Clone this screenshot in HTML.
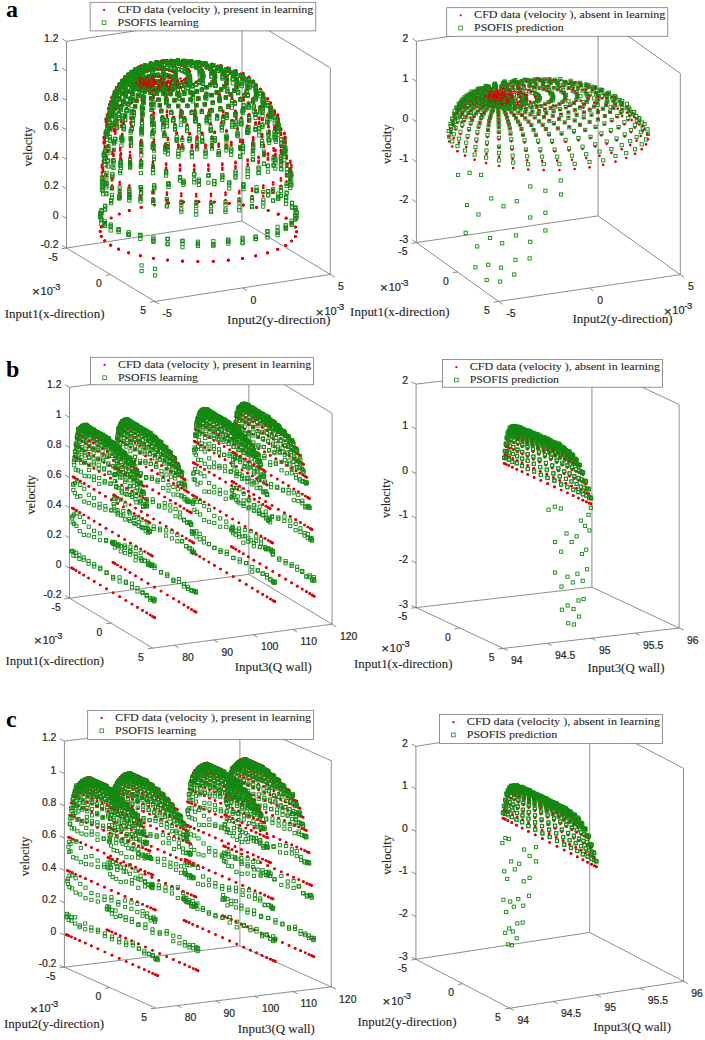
<!DOCTYPE html>
<html><head><meta charset="utf-8"><style>
html,body{margin:0;padding:0;background:#fff;}
svg{display:block;}
</style></head><body>
<svg width="705" height="1040" viewBox="0 0 705 1040">
<rect width="705" height="1040" fill="#fff"/>
<path d="M66.5 248L66.5 41.4 M66.5 41.4L242 14.4 M242 221L242 14.4 M242 14.4L330.3 67.8 M330.3 274.4L330.3 67.8 M66.5 248L154.8 301.4 M154.8 301.4L330.3 274.4 M66.5 248L242 221 M242 221L330.3 274.4" stroke="#707070" stroke-width="0.8" fill="none"/>
<path d="M66.5 248L62.2 245.4 M66.5 218.5L62.2 215.9 M66.5 189L62.2 186.4 M66.5 159.5L62.2 156.9 M66.5 129.9L62.2 127.4 M66.5 100.4L62.2 97.8 M66.5 70.9L62.2 68.3 M66.5 41.4L62.2 38.8 M66.5 248L61.6 248.8 M110.7 274.7L105.7 275.5 M154.8 301.4L149.9 302.2 M154.8 301.4L159.1 304 M242.6 287.9L246.8 290.5 M330.3 274.4L334.6 277" stroke="#707070" stroke-width="0.8" fill="none"/>
<text x="58.5" y="248.2" font-size="10.4" text-anchor="end" font-family="&quot;Liberation Sans&quot;, sans-serif" fill="#262626" stroke="#262626" stroke-width="0.2">-0.2</text>
<text x="58.5" y="218.7" font-size="10.4" text-anchor="end" font-family="&quot;Liberation Sans&quot;, sans-serif" fill="#262626" stroke="#262626" stroke-width="0.2">0</text>
<text x="58.5" y="189.2" font-size="10.4" text-anchor="end" font-family="&quot;Liberation Sans&quot;, sans-serif" fill="#262626" stroke="#262626" stroke-width="0.2">0.2</text>
<text x="58.5" y="159.7" font-size="10.4" text-anchor="end" font-family="&quot;Liberation Sans&quot;, sans-serif" fill="#262626" stroke="#262626" stroke-width="0.2">0.4</text>
<text x="58.5" y="130.1" font-size="10.4" text-anchor="end" font-family="&quot;Liberation Sans&quot;, sans-serif" fill="#262626" stroke="#262626" stroke-width="0.2">0.6</text>
<text x="58.5" y="100.6" font-size="10.4" text-anchor="end" font-family="&quot;Liberation Sans&quot;, sans-serif" fill="#262626" stroke="#262626" stroke-width="0.2">0.8</text>
<text x="58.5" y="71.1" font-size="10.4" text-anchor="end" font-family="&quot;Liberation Sans&quot;, sans-serif" fill="#262626" stroke="#262626" stroke-width="0.2">1</text>
<text x="58.5" y="41.6" font-size="10.4" text-anchor="end" font-family="&quot;Liberation Sans&quot;, sans-serif" fill="#262626" stroke="#262626" stroke-width="0.2">1.2</text>
<text x="57.7" y="260.5" font-size="10.4" text-anchor="end" font-family="&quot;Liberation Sans&quot;, sans-serif" fill="#262626" stroke="#262626" stroke-width="0.2">-5</text>
<text x="101.9" y="287.2" font-size="10.4" text-anchor="end" font-family="&quot;Liberation Sans&quot;, sans-serif" fill="#262626" stroke="#262626" stroke-width="0.2">0</text>
<text x="146" y="313.9" font-size="10.4" text-anchor="end" font-family="&quot;Liberation Sans&quot;, sans-serif" fill="#262626" stroke="#262626" stroke-width="0.2">5</text>
<text x="162.6" y="317.1" font-size="10.4" text-anchor="start" font-family="&quot;Liberation Sans&quot;, sans-serif" fill="#262626" stroke="#262626" stroke-width="0.2">-5</text>
<text x="250.4" y="303.6" font-size="10.4" text-anchor="start" font-family="&quot;Liberation Sans&quot;, sans-serif" fill="#262626" stroke="#262626" stroke-width="0.2">0</text>
<text x="338.1" y="290.1" font-size="10.4" text-anchor="start" font-family="&quot;Liberation Sans&quot;, sans-serif" fill="#262626" stroke="#262626" stroke-width="0.2">5</text>
<path d="M416.4 242.6L416.4 41.3 M416.4 41.3L598.1 14.6 M598.1 215.9L598.1 14.6 M598.1 14.6L680.3 73.4 M680.3 274.7L680.3 73.4 M416.4 242.6L498.6 301.4 M498.6 301.4L680.3 274.7 M416.4 242.6L598.1 215.9 M598.1 215.9L680.3 274.7" stroke="#707070" stroke-width="0.8" fill="none"/>
<path d="M416.4 242.6L412.3 239.7 M416.4 202.3L412.3 199.4 M416.4 162.1L412.3 159.2 M416.4 121.8L412.3 118.9 M416.4 81.6L412.3 78.7 M416.4 41.3L412.3 38.4 M416.4 242.6L411.5 243.3 M457.5 272L452.6 272.7 M498.6 301.4L493.7 302.1 M498.6 301.4L502.7 304.3 M589.5 288L593.5 291 M680.3 274.7L684.4 277.6" stroke="#707070" stroke-width="0.8" fill="none"/>
<text x="408.4" y="242.8" font-size="10.4" text-anchor="end" font-family="&quot;Liberation Sans&quot;, sans-serif" fill="#262626" stroke="#262626" stroke-width="0.2">-3</text>
<text x="408.4" y="202.5" font-size="10.4" text-anchor="end" font-family="&quot;Liberation Sans&quot;, sans-serif" fill="#262626" stroke="#262626" stroke-width="0.2">-2</text>
<text x="408.4" y="162.3" font-size="10.4" text-anchor="end" font-family="&quot;Liberation Sans&quot;, sans-serif" fill="#262626" stroke="#262626" stroke-width="0.2">-1</text>
<text x="408.4" y="122" font-size="10.4" text-anchor="end" font-family="&quot;Liberation Sans&quot;, sans-serif" fill="#262626" stroke="#262626" stroke-width="0.2">0</text>
<text x="408.4" y="81.8" font-size="10.4" text-anchor="end" font-family="&quot;Liberation Sans&quot;, sans-serif" fill="#262626" stroke="#262626" stroke-width="0.2">1</text>
<text x="408.4" y="41.5" font-size="10.4" text-anchor="end" font-family="&quot;Liberation Sans&quot;, sans-serif" fill="#262626" stroke="#262626" stroke-width="0.2">2</text>
<text x="407.6" y="255.1" font-size="10.4" text-anchor="end" font-family="&quot;Liberation Sans&quot;, sans-serif" fill="#262626" stroke="#262626" stroke-width="0.2">-5</text>
<text x="448.7" y="284.5" font-size="10.4" text-anchor="end" font-family="&quot;Liberation Sans&quot;, sans-serif" fill="#262626" stroke="#262626" stroke-width="0.2">0</text>
<text x="489.8" y="313.9" font-size="10.4" text-anchor="end" font-family="&quot;Liberation Sans&quot;, sans-serif" fill="#262626" stroke="#262626" stroke-width="0.2">5</text>
<text x="506.4" y="317.1" font-size="10.4" text-anchor="start" font-family="&quot;Liberation Sans&quot;, sans-serif" fill="#262626" stroke="#262626" stroke-width="0.2">-5</text>
<text x="597.2" y="303.7" font-size="10.4" text-anchor="start" font-family="&quot;Liberation Sans&quot;, sans-serif" fill="#262626" stroke="#262626" stroke-width="0.2">0</text>
<text x="688.1" y="290.4" font-size="10.4" text-anchor="start" font-family="&quot;Liberation Sans&quot;, sans-serif" fill="#262626" stroke="#262626" stroke-width="0.2">5</text>
<path d="M69.5 598.2L69.5 387.3 M69.5 387.3L248.9 363.4 M248.9 574.3L248.9 363.4 M248.9 363.4L332.1 413.3 M332.1 624.2L332.1 413.3 M69.5 598.2L152.7 648.1 M152.7 648.1L332.1 624.2 M69.5 598.2L248.9 574.3 M248.9 574.3L332.1 624.2" stroke="#707070" stroke-width="0.8" fill="none"/>
<path d="M69.5 598.2L65.2 595.6 M69.5 568.1L65.2 565.5 M69.5 537.9L65.2 535.4 M69.5 507.8L65.2 505.2 M69.5 477.7L65.2 475.1 M69.5 447.6L65.2 445 M69.5 417.4L65.2 414.9 M69.5 387.3L65.2 384.7 M69.5 598.2L64.5 598.9 M111.1 623.2L106.1 623.8 M152.7 648.1L147.7 648.8 M174.4 645.2L178.7 647.8 M213.8 640L218.1 642.5 M253.2 634.7L257.5 637.3 M292.7 629.5L297 632 M332.1 624.2L336.4 626.8" stroke="#707070" stroke-width="0.8" fill="none"/>
<text x="61.5" y="598.4" font-size="10.4" text-anchor="end" font-family="&quot;Liberation Sans&quot;, sans-serif" fill="#262626" stroke="#262626" stroke-width="0.2">-0.2</text>
<text x="61.5" y="568.3" font-size="10.4" text-anchor="end" font-family="&quot;Liberation Sans&quot;, sans-serif" fill="#262626" stroke="#262626" stroke-width="0.2">0</text>
<text x="61.5" y="538.1" font-size="10.4" text-anchor="end" font-family="&quot;Liberation Sans&quot;, sans-serif" fill="#262626" stroke="#262626" stroke-width="0.2">0.2</text>
<text x="61.5" y="508" font-size="10.4" text-anchor="end" font-family="&quot;Liberation Sans&quot;, sans-serif" fill="#262626" stroke="#262626" stroke-width="0.2">0.4</text>
<text x="61.5" y="477.9" font-size="10.4" text-anchor="end" font-family="&quot;Liberation Sans&quot;, sans-serif" fill="#262626" stroke="#262626" stroke-width="0.2">0.6</text>
<text x="61.5" y="447.8" font-size="10.4" text-anchor="end" font-family="&quot;Liberation Sans&quot;, sans-serif" fill="#262626" stroke="#262626" stroke-width="0.2">0.8</text>
<text x="61.5" y="417.6" font-size="10.4" text-anchor="end" font-family="&quot;Liberation Sans&quot;, sans-serif" fill="#262626" stroke="#262626" stroke-width="0.2">1</text>
<text x="61.5" y="387.5" font-size="10.4" text-anchor="end" font-family="&quot;Liberation Sans&quot;, sans-serif" fill="#262626" stroke="#262626" stroke-width="0.2">1.2</text>
<text x="60.7" y="610.7" font-size="10.4" text-anchor="end" font-family="&quot;Liberation Sans&quot;, sans-serif" fill="#262626" stroke="#262626" stroke-width="0.2">-5</text>
<text x="102.3" y="635.7" font-size="10.4" text-anchor="end" font-family="&quot;Liberation Sans&quot;, sans-serif" fill="#262626" stroke="#262626" stroke-width="0.2">0</text>
<text x="143.9" y="660.6" font-size="10.4" text-anchor="end" font-family="&quot;Liberation Sans&quot;, sans-serif" fill="#262626" stroke="#262626" stroke-width="0.2">5</text>
<text x="182.2" y="660.9" font-size="10.4" text-anchor="start" font-family="&quot;Liberation Sans&quot;, sans-serif" fill="#262626" stroke="#262626" stroke-width="0.2">80</text>
<text x="221.6" y="655.7" font-size="10.4" text-anchor="start" font-family="&quot;Liberation Sans&quot;, sans-serif" fill="#262626" stroke="#262626" stroke-width="0.2">90</text>
<text x="261" y="650.4" font-size="10.4" text-anchor="start" font-family="&quot;Liberation Sans&quot;, sans-serif" fill="#262626" stroke="#262626" stroke-width="0.2">100</text>
<text x="300.5" y="645.2" font-size="10.4" text-anchor="start" font-family="&quot;Liberation Sans&quot;, sans-serif" fill="#262626" stroke="#262626" stroke-width="0.2">110</text>
<text x="339.9" y="639.9" font-size="10.4" text-anchor="start" font-family="&quot;Liberation Sans&quot;, sans-serif" fill="#262626" stroke="#262626" stroke-width="0.2">120</text>
<path d="M416.1 607.6L416.1 384.1 M416.1 384.1L591.9 363.7 M591.9 587.2L591.9 363.7 M591.9 363.7L679.1 404.5 M679.1 628L679.1 404.5 M416.1 607.6L503.3 648.4 M503.3 648.4L679.1 628 M416.1 607.6L591.9 587.2 M591.9 587.2L679.1 628" stroke="#707070" stroke-width="0.8" fill="none"/>
<path d="M416.1 607.6L411.6 605.5 M416.1 562.9L411.6 560.8 M416.1 518.2L411.6 516.1 M416.1 473.5L411.6 471.4 M416.1 428.8L411.6 426.7 M416.1 384.1L411.6 382 M416.1 607.6L411.1 608.2 M459.7 628L454.7 628.6 M503.3 648.4L498.3 649 M503.3 648.4L507.8 650.5 M547.2 643.3L551.8 645.4 M591.2 638.2L595.7 640.3 M635.2 633.1L639.7 635.2 M679.1 628L683.6 630.1" stroke="#707070" stroke-width="0.8" fill="none"/>
<text x="408.1" y="607.8" font-size="10.4" text-anchor="end" font-family="&quot;Liberation Sans&quot;, sans-serif" fill="#262626" stroke="#262626" stroke-width="0.2">-3</text>
<text x="408.1" y="563.1" font-size="10.4" text-anchor="end" font-family="&quot;Liberation Sans&quot;, sans-serif" fill="#262626" stroke="#262626" stroke-width="0.2">-2</text>
<text x="408.1" y="518.4" font-size="10.4" text-anchor="end" font-family="&quot;Liberation Sans&quot;, sans-serif" fill="#262626" stroke="#262626" stroke-width="0.2">-1</text>
<text x="408.1" y="473.7" font-size="10.4" text-anchor="end" font-family="&quot;Liberation Sans&quot;, sans-serif" fill="#262626" stroke="#262626" stroke-width="0.2">0</text>
<text x="408.1" y="429" font-size="10.4" text-anchor="end" font-family="&quot;Liberation Sans&quot;, sans-serif" fill="#262626" stroke="#262626" stroke-width="0.2">1</text>
<text x="408.1" y="384.3" font-size="10.4" text-anchor="end" font-family="&quot;Liberation Sans&quot;, sans-serif" fill="#262626" stroke="#262626" stroke-width="0.2">2</text>
<text x="407.3" y="620.1" font-size="10.4" text-anchor="end" font-family="&quot;Liberation Sans&quot;, sans-serif" fill="#262626" stroke="#262626" stroke-width="0.2">-5</text>
<text x="450.9" y="640.5" font-size="10.4" text-anchor="end" font-family="&quot;Liberation Sans&quot;, sans-serif" fill="#262626" stroke="#262626" stroke-width="0.2">0</text>
<text x="494.5" y="660.9" font-size="10.4" text-anchor="end" font-family="&quot;Liberation Sans&quot;, sans-serif" fill="#262626" stroke="#262626" stroke-width="0.2">5</text>
<text x="511.1" y="664.1" font-size="10.4" text-anchor="start" font-family="&quot;Liberation Sans&quot;, sans-serif" fill="#262626" stroke="#262626" stroke-width="0.2">94</text>
<text x="555" y="659" font-size="10.4" text-anchor="start" font-family="&quot;Liberation Sans&quot;, sans-serif" fill="#262626" stroke="#262626" stroke-width="0.2">94.5</text>
<text x="599" y="653.9" font-size="10.4" text-anchor="start" font-family="&quot;Liberation Sans&quot;, sans-serif" fill="#262626" stroke="#262626" stroke-width="0.2">95</text>
<text x="643" y="648.8" font-size="10.4" text-anchor="start" font-family="&quot;Liberation Sans&quot;, sans-serif" fill="#262626" stroke="#262626" stroke-width="0.2">95.5</text>
<text x="686.9" y="643.7" font-size="10.4" text-anchor="start" font-family="&quot;Liberation Sans&quot;, sans-serif" fill="#262626" stroke="#262626" stroke-width="0.2">96</text>
<path d="M64.4 967.2L64.4 741.1 M64.4 741.1L239.9 719.8 M239.9 945.9L239.9 719.8 M239.9 719.8L331.3 760.8 M331.3 986.9L331.3 760.8 M64.4 967.2L155.8 1008.2 M155.8 1008.2L331.3 986.9 M64.4 967.2L239.9 945.9 M239.9 945.9L331.3 986.9" stroke="#707070" stroke-width="0.8" fill="none"/>
<path d="M64.4 967.2L59.8 965.2 M64.4 934.9L59.8 932.9 M64.4 902.6L59.8 900.6 M64.4 870.3L59.8 868.3 M64.4 838L59.8 836 M64.4 805.7L59.8 803.7 M64.4 773.4L59.8 771.4 M64.4 741.1L59.8 739.1 M64.4 967.2L59.4 967.8 M110.1 987.7L105.1 988.3 M155.8 1008.2L150.8 1008.8 M177 1005.6L181.6 1007.7 M215.6 1000.9L220.1 1003 M254.2 996.3L258.7 998.3 M292.7 991.6L297.3 993.6 M331.3 986.9L335.9 988.9" stroke="#707070" stroke-width="0.8" fill="none"/>
<text x="56.4" y="967.4" font-size="10.4" text-anchor="end" font-family="&quot;Liberation Sans&quot;, sans-serif" fill="#262626" stroke="#262626" stroke-width="0.2">-0.2</text>
<text x="56.4" y="935.1" font-size="10.4" text-anchor="end" font-family="&quot;Liberation Sans&quot;, sans-serif" fill="#262626" stroke="#262626" stroke-width="0.2">0</text>
<text x="56.4" y="902.8" font-size="10.4" text-anchor="end" font-family="&quot;Liberation Sans&quot;, sans-serif" fill="#262626" stroke="#262626" stroke-width="0.2">0.2</text>
<text x="56.4" y="870.5" font-size="10.4" text-anchor="end" font-family="&quot;Liberation Sans&quot;, sans-serif" fill="#262626" stroke="#262626" stroke-width="0.2">0.4</text>
<text x="56.4" y="838.2" font-size="10.4" text-anchor="end" font-family="&quot;Liberation Sans&quot;, sans-serif" fill="#262626" stroke="#262626" stroke-width="0.2">0.6</text>
<text x="56.4" y="805.9" font-size="10.4" text-anchor="end" font-family="&quot;Liberation Sans&quot;, sans-serif" fill="#262626" stroke="#262626" stroke-width="0.2">0.8</text>
<text x="56.4" y="773.6" font-size="10.4" text-anchor="end" font-family="&quot;Liberation Sans&quot;, sans-serif" fill="#262626" stroke="#262626" stroke-width="0.2">1</text>
<text x="56.4" y="741.3" font-size="10.4" text-anchor="end" font-family="&quot;Liberation Sans&quot;, sans-serif" fill="#262626" stroke="#262626" stroke-width="0.2">1.2</text>
<text x="55.6" y="979.7" font-size="10.4" text-anchor="end" font-family="&quot;Liberation Sans&quot;, sans-serif" fill="#262626" stroke="#262626" stroke-width="0.2">-5</text>
<text x="101.3" y="1000.2" font-size="10.4" text-anchor="end" font-family="&quot;Liberation Sans&quot;, sans-serif" fill="#262626" stroke="#262626" stroke-width="0.2">0</text>
<text x="147" y="1020.7" font-size="10.4" text-anchor="end" font-family="&quot;Liberation Sans&quot;, sans-serif" fill="#262626" stroke="#262626" stroke-width="0.2">5</text>
<text x="184.8" y="1021.3" font-size="10.4" text-anchor="start" font-family="&quot;Liberation Sans&quot;, sans-serif" fill="#262626" stroke="#262626" stroke-width="0.2">80</text>
<text x="223.4" y="1016.6" font-size="10.4" text-anchor="start" font-family="&quot;Liberation Sans&quot;, sans-serif" fill="#262626" stroke="#262626" stroke-width="0.2">90</text>
<text x="262" y="1012" font-size="10.4" text-anchor="start" font-family="&quot;Liberation Sans&quot;, sans-serif" fill="#262626" stroke="#262626" stroke-width="0.2">100</text>
<text x="300.5" y="1007.3" font-size="10.4" text-anchor="start" font-family="&quot;Liberation Sans&quot;, sans-serif" fill="#262626" stroke="#262626" stroke-width="0.2">110</text>
<text x="339.1" y="1002.6" font-size="10.4" text-anchor="start" font-family="&quot;Liberation Sans&quot;, sans-serif" fill="#262626" stroke="#262626" stroke-width="0.2">120</text>
<path d="M415.9 959.3L415.9 746.3 M415.9 746.3L589.7 719.4 M589.7 932.4L589.7 719.4 M589.7 719.4L683.5 768.3 M683.5 981.3L683.5 768.3 M415.9 959.3L509.7 1008.2 M509.7 1008.2L683.5 981.3 M415.9 959.3L589.7 932.4 M589.7 932.4L683.5 981.3" stroke="#707070" stroke-width="0.8" fill="none"/>
<path d="M415.9 959.3L411.5 957 M415.9 916.7L411.5 914.4 M415.9 874.1L411.5 871.8 M415.9 831.5L411.5 829.2 M415.9 788.9L411.5 786.6 M415.9 746.3L411.5 744 M415.9 959.3L411 960.1 M462.8 983.8L457.9 984.5 M509.7 1008.2L504.8 1009 M509.7 1008.2L514.1 1010.5 M553.1 1001.5L557.6 1003.8 M596.6 994.8L601 997.1 M640 988L644.5 990.3 M683.5 981.3L687.9 983.6" stroke="#707070" stroke-width="0.8" fill="none"/>
<text x="407.9" y="959.5" font-size="10.4" text-anchor="end" font-family="&quot;Liberation Sans&quot;, sans-serif" fill="#262626" stroke="#262626" stroke-width="0.2">-3</text>
<text x="407.9" y="916.9" font-size="10.4" text-anchor="end" font-family="&quot;Liberation Sans&quot;, sans-serif" fill="#262626" stroke="#262626" stroke-width="0.2">-2</text>
<text x="407.9" y="874.3" font-size="10.4" text-anchor="end" font-family="&quot;Liberation Sans&quot;, sans-serif" fill="#262626" stroke="#262626" stroke-width="0.2">-1</text>
<text x="407.9" y="831.7" font-size="10.4" text-anchor="end" font-family="&quot;Liberation Sans&quot;, sans-serif" fill="#262626" stroke="#262626" stroke-width="0.2">0</text>
<text x="407.9" y="789.1" font-size="10.4" text-anchor="end" font-family="&quot;Liberation Sans&quot;, sans-serif" fill="#262626" stroke="#262626" stroke-width="0.2">1</text>
<text x="407.9" y="746.5" font-size="10.4" text-anchor="end" font-family="&quot;Liberation Sans&quot;, sans-serif" fill="#262626" stroke="#262626" stroke-width="0.2">2</text>
<text x="407.1" y="971.8" font-size="10.4" text-anchor="end" font-family="&quot;Liberation Sans&quot;, sans-serif" fill="#262626" stroke="#262626" stroke-width="0.2">-5</text>
<text x="454" y="996.2" font-size="10.4" text-anchor="end" font-family="&quot;Liberation Sans&quot;, sans-serif" fill="#262626" stroke="#262626" stroke-width="0.2">0</text>
<text x="500.9" y="1020.7" font-size="10.4" text-anchor="end" font-family="&quot;Liberation Sans&quot;, sans-serif" fill="#262626" stroke="#262626" stroke-width="0.2">5</text>
<text x="517.5" y="1023.9" font-size="10.4" text-anchor="start" font-family="&quot;Liberation Sans&quot;, sans-serif" fill="#262626" stroke="#262626" stroke-width="0.2">94</text>
<text x="560.9" y="1017.2" font-size="10.4" text-anchor="start" font-family="&quot;Liberation Sans&quot;, sans-serif" fill="#262626" stroke="#262626" stroke-width="0.2">94.5</text>
<text x="604.4" y="1010.5" font-size="10.4" text-anchor="start" font-family="&quot;Liberation Sans&quot;, sans-serif" fill="#262626" stroke="#262626" stroke-width="0.2">95</text>
<text x="647.8" y="1003.7" font-size="10.4" text-anchor="start" font-family="&quot;Liberation Sans&quot;, sans-serif" fill="#262626" stroke="#262626" stroke-width="0.2">95.5</text>
<text x="691.3" y="997" font-size="10.4" text-anchor="start" font-family="&quot;Liberation Sans&quot;, sans-serif" fill="#262626" stroke="#262626" stroke-width="0.2">96</text>
<text x="32" y="296.4" font-size="13.5" font-family="&quot;Liberation Sans&quot;, sans-serif" fill="#262626" stroke="#262626" stroke-width="0.2">&#215;</text>
<text x="40.6" y="294.9" font-size="11" font-family="&quot;Liberation Sans&quot;, sans-serif" fill="#262626" stroke="#262626" stroke-width="0.2">10</text>
<text x="52.6" y="289.8" font-size="9.4" font-family="&quot;Liberation Sans&quot;, sans-serif" fill="#262626" stroke="#262626" stroke-width="0.2">-</text>
<text x="55.2" y="289.8" font-size="9.4" font-family="&quot;Liberation Sans&quot;, sans-serif" fill="#262626" stroke="#262626" stroke-width="0.2">3</text>
<text x="315.8" y="316.9" font-size="13.5" font-family="&quot;Liberation Sans&quot;, sans-serif" fill="#262626" stroke="#262626" stroke-width="0.2">&#215;</text>
<text x="324.4" y="315.4" font-size="11" font-family="&quot;Liberation Sans&quot;, sans-serif" fill="#262626" stroke="#262626" stroke-width="0.2">10</text>
<text x="336.4" y="310.3" font-size="9.4" font-family="&quot;Liberation Sans&quot;, sans-serif" fill="#262626" stroke="#262626" stroke-width="0.2">-</text>
<text x="339" y="310.3" font-size="9.4" font-family="&quot;Liberation Sans&quot;, sans-serif" fill="#262626" stroke="#262626" stroke-width="0.2">3</text>
<text x="380.1" y="292.4" font-size="13.5" font-family="&quot;Liberation Sans&quot;, sans-serif" fill="#262626" stroke="#262626" stroke-width="0.2">&#215;</text>
<text x="388.7" y="290.9" font-size="11" font-family="&quot;Liberation Sans&quot;, sans-serif" fill="#262626" stroke="#262626" stroke-width="0.2">10</text>
<text x="400.7" y="285.8" font-size="9.4" font-family="&quot;Liberation Sans&quot;, sans-serif" fill="#262626" stroke="#262626" stroke-width="0.2">-</text>
<text x="403.3" y="285.8" font-size="9.4" font-family="&quot;Liberation Sans&quot;, sans-serif" fill="#262626" stroke="#262626" stroke-width="0.2">3</text>
<text x="663.7" y="315.8" font-size="13.5" font-family="&quot;Liberation Sans&quot;, sans-serif" fill="#262626" stroke="#262626" stroke-width="0.2">&#215;</text>
<text x="672.3" y="314.3" font-size="11" font-family="&quot;Liberation Sans&quot;, sans-serif" fill="#262626" stroke="#262626" stroke-width="0.2">10</text>
<text x="684.3" y="309.2" font-size="9.4" font-family="&quot;Liberation Sans&quot;, sans-serif" fill="#262626" stroke="#262626" stroke-width="0.2">-</text>
<text x="686.9" y="309.2" font-size="9.4" font-family="&quot;Liberation Sans&quot;, sans-serif" fill="#262626" stroke="#262626" stroke-width="0.2">3</text>
<text x="34" y="645.3" font-size="13.5" font-family="&quot;Liberation Sans&quot;, sans-serif" fill="#262626" stroke="#262626" stroke-width="0.2">&#215;</text>
<text x="42.6" y="643.8" font-size="11" font-family="&quot;Liberation Sans&quot;, sans-serif" fill="#262626" stroke="#262626" stroke-width="0.2">10</text>
<text x="54.6" y="638.7" font-size="9.4" font-family="&quot;Liberation Sans&quot;, sans-serif" fill="#262626" stroke="#262626" stroke-width="0.2">-</text>
<text x="57.2" y="638.7" font-size="9.4" font-family="&quot;Liberation Sans&quot;, sans-serif" fill="#262626" stroke="#262626" stroke-width="0.2">3</text>
<text x="381.2" y="653.2" font-size="13.5" font-family="&quot;Liberation Sans&quot;, sans-serif" fill="#262626" stroke="#262626" stroke-width="0.2">&#215;</text>
<text x="389.8" y="651.7" font-size="11" font-family="&quot;Liberation Sans&quot;, sans-serif" fill="#262626" stroke="#262626" stroke-width="0.2">10</text>
<text x="401.8" y="646.6" font-size="9.4" font-family="&quot;Liberation Sans&quot;, sans-serif" fill="#262626" stroke="#262626" stroke-width="0.2">-</text>
<text x="404.4" y="646.6" font-size="9.4" font-family="&quot;Liberation Sans&quot;, sans-serif" fill="#262626" stroke="#262626" stroke-width="0.2">3</text>
<text x="29.9" y="1013.5" font-size="13.5" font-family="&quot;Liberation Sans&quot;, sans-serif" fill="#262626" stroke="#262626" stroke-width="0.2">&#215;</text>
<text x="38.5" y="1012" font-size="11" font-family="&quot;Liberation Sans&quot;, sans-serif" fill="#262626" stroke="#262626" stroke-width="0.2">10</text>
<text x="50.5" y="1006.9" font-size="9.4" font-family="&quot;Liberation Sans&quot;, sans-serif" fill="#262626" stroke="#262626" stroke-width="0.2">-</text>
<text x="53.1" y="1006.9" font-size="9.4" font-family="&quot;Liberation Sans&quot;, sans-serif" fill="#262626" stroke="#262626" stroke-width="0.2">3</text>
<text x="382.6" y="1006" font-size="13.5" font-family="&quot;Liberation Sans&quot;, sans-serif" fill="#262626" stroke="#262626" stroke-width="0.2">&#215;</text>
<text x="391.2" y="1004.5" font-size="11" font-family="&quot;Liberation Sans&quot;, sans-serif" fill="#262626" stroke="#262626" stroke-width="0.2">10</text>
<text x="403.2" y="999.4" font-size="9.4" font-family="&quot;Liberation Sans&quot;, sans-serif" fill="#262626" stroke="#262626" stroke-width="0.2">-</text>
<text x="405.8" y="999.4" font-size="9.4" font-family="&quot;Liberation Sans&quot;, sans-serif" fill="#262626" stroke="#262626" stroke-width="0.2">3</text>
<text x="0" y="0" font-size="11.8" text-anchor="middle" font-family="&quot;Liberation Serif&quot;, serif" fill="#262626" stroke="#262626" stroke-width="0.12" transform="translate(31.5,146.7) rotate(-90)" textLength="39.6" lengthAdjust="spacingAndGlyphs">velocity</text>
<text x="0" y="0" font-size="11.8" text-anchor="middle" font-family="&quot;Liberation Serif&quot;, serif" fill="#262626" stroke="#262626" stroke-width="0.12" transform="translate(390.9,144.2) rotate(-90)" textLength="39.6" lengthAdjust="spacingAndGlyphs">velocity</text>
<text x="0" y="0" font-size="11.8" text-anchor="middle" font-family="&quot;Liberation Serif&quot;, serif" fill="#262626" stroke="#262626" stroke-width="0.12" transform="translate(34.6,494.8) rotate(-90)" textLength="39.6" lengthAdjust="spacingAndGlyphs">velocity</text>
<text x="0" y="0" font-size="11.8" text-anchor="middle" font-family="&quot;Liberation Serif&quot;, serif" fill="#262626" stroke="#262626" stroke-width="0.12" transform="translate(390.2,498.1) rotate(-90)" textLength="39.6" lengthAdjust="spacingAndGlyphs">velocity</text>
<text x="0" y="0" font-size="11.8" text-anchor="middle" font-family="&quot;Liberation Serif&quot;, serif" fill="#262626" stroke="#262626" stroke-width="0.12" transform="translate(29.3,856.4) rotate(-90)" textLength="39.6" lengthAdjust="spacingAndGlyphs">velocity</text>
<text x="0" y="0" font-size="11.8" text-anchor="middle" font-family="&quot;Liberation Serif&quot;, serif" fill="#262626" stroke="#262626" stroke-width="0.12" transform="translate(390.6,855) rotate(-90)" textLength="39.6" lengthAdjust="spacingAndGlyphs">velocity</text>
<text x="4.7" y="318" font-size="11.6" text-anchor="start" font-family="&quot;Liberation Serif&quot;, serif" fill="#262626" stroke="#262626" stroke-width="0.1" textLength="99.8" lengthAdjust="spacingAndGlyphs">Input1(x-direction)</text>
<text x="227.1" y="324.2" font-size="11.6" text-anchor="start" font-family="&quot;Liberation Serif&quot;, serif" fill="#262626" stroke="#262626" stroke-width="0.1" textLength="103.4" lengthAdjust="spacingAndGlyphs">Input2(y-direction)</text>
<text x="350.1" y="316.4" font-size="11.6" text-anchor="start" font-family="&quot;Liberation Serif&quot;, serif" fill="#262626" stroke="#262626" stroke-width="0.1" textLength="99.4" lengthAdjust="spacingAndGlyphs">Input1(x-direction)</text>
<text x="572.4" y="323.4" font-size="11.6" text-anchor="start" font-family="&quot;Liberation Serif&quot;, serif" fill="#262626" stroke="#262626" stroke-width="0.1" textLength="100.2" lengthAdjust="spacingAndGlyphs">Input2(y-direction)</text>
<text x="5.5" y="665.3" font-size="11.6" text-anchor="start" font-family="&quot;Liberation Serif&quot;, serif" fill="#262626" stroke="#262626" stroke-width="0.1" textLength="98.5" lengthAdjust="spacingAndGlyphs">Input1(x-direction)</text>
<text x="234.7" y="671.4" font-size="11.6" text-anchor="start" font-family="&quot;Liberation Serif&quot;, serif" fill="#262626" stroke="#262626" stroke-width="0.1" textLength="77.2" lengthAdjust="spacingAndGlyphs">Input3(Q wall)</text>
<text x="354" y="667.8" font-size="11.6" text-anchor="start" font-family="&quot;Liberation Serif&quot;, serif" fill="#262626" stroke="#262626" stroke-width="0.1" textLength="98.5" lengthAdjust="spacingAndGlyphs">Input1(x-direction)</text>
<text x="587.4" y="672.2" font-size="11.6" text-anchor="start" font-family="&quot;Liberation Serif&quot;, serif" fill="#262626" stroke="#262626" stroke-width="0.1" textLength="77.1" lengthAdjust="spacingAndGlyphs">Input3(Q wall)</text>
<text x="4" y="1027.6" font-size="11.6" text-anchor="start" font-family="&quot;Liberation Serif&quot;, serif" fill="#262626" stroke="#262626" stroke-width="0.1" textLength="100" lengthAdjust="spacingAndGlyphs">Input2(y-direction)</text>
<text x="237.7" y="1032.7" font-size="11.6" text-anchor="start" font-family="&quot;Liberation Serif&quot;, serif" fill="#262626" stroke="#262626" stroke-width="0.1" textLength="77.2" lengthAdjust="spacingAndGlyphs">Input3(Q wall)</text>
<text x="357.5" y="1025.5" font-size="11.6" text-anchor="start" font-family="&quot;Liberation Serif&quot;, serif" fill="#262626" stroke="#262626" stroke-width="0.1" textLength="99" lengthAdjust="spacingAndGlyphs">Input2(y-direction)</text>
<text x="593.2" y="1030.7" font-size="11.6" text-anchor="start" font-family="&quot;Liberation Serif&quot;, serif" fill="#262626" stroke="#262626" stroke-width="0.1" textLength="77.9" lengthAdjust="spacingAndGlyphs">Input3(Q wall)</text>
<text x="6.0" y="16.6" font-size="24" font-weight="bold" font-family="&quot;Liberation Serif&quot;, serif" fill="#000">a</text>
<text x="6.0" y="377.3" font-size="24" font-weight="bold" font-family="&quot;Liberation Serif&quot;, serif" fill="#000">b</text>
<text x="6.0" y="727.1" font-size="24" font-weight="bold" font-family="&quot;Liberation Serif&quot;, serif" fill="#000">c</text>
<rect x="90.1" y="2.3" width="225.7" height="28.6" fill="#fff" stroke="#707070" stroke-width="0.75"/>
<circle cx="104.1" cy="9.9" r="1.15" fill="#c8102e"/>
<rect x="102.2" y="20.8" width="3.7" height="3.7" fill="none" stroke="#3f8f3f" stroke-width="0.9"/>
<text x="117.5" y="12.8" font-size="10.8" text-anchor="start" font-family="&quot;Liberation Serif&quot;, serif" fill="#262626" stroke="#262626" stroke-width="0.08" textLength="195.9" lengthAdjust="spacingAndGlyphs">CFD data (velocity ), present in learning</text>
<text x="117.5" y="26.1" font-size="10.8" text-anchor="start" font-family="&quot;Liberation Serif&quot;, serif" fill="#262626" stroke="#262626" stroke-width="0.08" textLength="81.1" lengthAdjust="spacingAndGlyphs">PSOFIS learning</text>
<rect x="446.7" y="7.7" width="221.1" height="28.6" fill="#fff" stroke="#707070" stroke-width="0.75"/>
<circle cx="460.7" cy="15.3" r="1.15" fill="#c8102e"/>
<rect x="458.8" y="26.2" width="3.7" height="3.7" fill="none" stroke="#3f8f3f" stroke-width="0.9"/>
<text x="474.1" y="18.1" font-size="10.8" text-anchor="start" font-family="&quot;Liberation Serif&quot;, serif" fill="#262626" stroke="#262626" stroke-width="0.08" textLength="191.3" lengthAdjust="spacingAndGlyphs">CFD data (velocity ), absent in learning</text>
<text x="474.1" y="31.4" font-size="10.8" text-anchor="start" font-family="&quot;Liberation Serif&quot;, serif" fill="#262626" stroke="#262626" stroke-width="0.08" textLength="89.6" lengthAdjust="spacingAndGlyphs">PSOFIS prediction</text>
<rect x="90.6" y="357.3" width="223" height="27.5" fill="#fff" stroke="#707070" stroke-width="0.75"/>
<circle cx="104.6" cy="364.9" r="1.15" fill="#c8102e"/>
<rect x="102.8" y="375.8" width="3.7" height="3.7" fill="none" stroke="#3f8f3f" stroke-width="0.9"/>
<text x="118" y="367.8" font-size="10.8" text-anchor="start" font-family="&quot;Liberation Serif&quot;, serif" fill="#262626" stroke="#262626" stroke-width="0.08" textLength="193.2" lengthAdjust="spacingAndGlyphs">CFD data (velocity ), present in learning</text>
<text x="118" y="381.1" font-size="10.8" text-anchor="start" font-family="&quot;Liberation Serif&quot;, serif" fill="#262626" stroke="#262626" stroke-width="0.08" textLength="80" lengthAdjust="spacingAndGlyphs">PSOFIS learning</text>
<rect x="442.4" y="359.6" width="220" height="27.6" fill="#fff" stroke="#707070" stroke-width="0.75"/>
<circle cx="456.4" cy="367.2" r="1.15" fill="#c8102e"/>
<rect x="454.5" y="378.1" width="3.7" height="3.7" fill="none" stroke="#3f8f3f" stroke-width="0.9"/>
<text x="469.8" y="370.1" font-size="10.8" text-anchor="start" font-family="&quot;Liberation Serif&quot;, serif" fill="#262626" stroke="#262626" stroke-width="0.08" textLength="190.2" lengthAdjust="spacingAndGlyphs">CFD data (velocity ), absent in learning</text>
<text x="469.8" y="383.4" font-size="10.8" text-anchor="start" font-family="&quot;Liberation Serif&quot;, serif" fill="#262626" stroke="#262626" stroke-width="0.08" textLength="89.1" lengthAdjust="spacingAndGlyphs">PSOFIS prediction</text>
<rect x="87.7" y="710.4" width="225.9" height="29" fill="#fff" stroke="#707070" stroke-width="0.75"/>
<circle cx="101.7" cy="718" r="1.15" fill="#c8102e"/>
<rect x="99.9" y="728.9" width="3.7" height="3.7" fill="none" stroke="#3f8f3f" stroke-width="0.9"/>
<text x="115.1" y="720.9" font-size="10.8" text-anchor="start" font-family="&quot;Liberation Serif&quot;, serif" fill="#262626" stroke="#262626" stroke-width="0.08" textLength="196.1" lengthAdjust="spacingAndGlyphs">CFD data (velocity ), present in learning</text>
<text x="115.1" y="734.1" font-size="10.8" text-anchor="start" font-family="&quot;Liberation Serif&quot;, serif" fill="#262626" stroke="#262626" stroke-width="0.08" textLength="81.2" lengthAdjust="spacingAndGlyphs">PSOFIS learning</text>
<rect x="439.4" y="714.6" width="223" height="29" fill="#fff" stroke="#707070" stroke-width="0.75"/>
<circle cx="453.4" cy="722.2" r="1.15" fill="#c8102e"/>
<rect x="451.5" y="733.1" width="3.7" height="3.7" fill="none" stroke="#3f8f3f" stroke-width="0.9"/>
<text x="466.8" y="725.1" font-size="10.8" text-anchor="start" font-family="&quot;Liberation Serif&quot;, serif" fill="#262626" stroke="#262626" stroke-width="0.08" textLength="193.2" lengthAdjust="spacingAndGlyphs">CFD data (velocity ), absent in learning</text>
<text x="466.8" y="738.4" font-size="10.8" text-anchor="start" font-family="&quot;Liberation Serif&quot;, serif" fill="#262626" stroke="#262626" stroke-width="0.08" textLength="90.5" lengthAdjust="spacingAndGlyphs">PSOFIS prediction</text>
<defs><marker id="rd" markerUnits="userSpaceOnUse" markerWidth="4" markerHeight="4" refX="2" refY="2" overflow="visible"><circle cx="2" cy="2" r="1.35" fill="#e00008"/></marker>
<marker id="gs" markerUnits="userSpaceOnUse" markerWidth="6" markerHeight="6" refX="3" refY="3" overflow="visible"><rect x="1.4" y="1.4" width="3.2" height="3.2" fill="none" stroke="#138a13" stroke-width="0.9"/></marker></defs>
<polyline points="242.6,258.4 255.7,255.9 267.5,252.9 277.6,249.3 285.7,245.4 291.7,241 295.3,236.5 296.6,231.8 295.5,227.1 292,222.5 286.1,218.2 278.2,214.2 268.2,210.6 256.5,207.5 243.4,205.1 229.2,203.3 214.3,202.1 198.9,201.8 183.5,202.1 168.5,203.2 154.2,205 141.1,207.4 129.3,210.5 119.2,214 111.1,218 105.1,222.4 101.5,226.9 100.2,231.6 101.3,236.3 104.8,240.8 110.7,245.2 118.6,249.2 128.6,252.8 140.3,255.8 153.4,258.3 167.6,260.1 182.5,261.2 197.9,261.6 213.3,261.3 228.3,260.2 239.3,198.4 252,196 263.3,193.1 273.1,189.7 280.9,185.8 286.6,181.6 290.2,177.2 291.4,172.7 290.3,168.2 286.9,163.8 281.3,159.6 273.6,155.7 264,152.3 252.8,149.3 240.1,146.9 226.4,145.2 212,144.1 197.1,143.8 182.3,144.1 167.8,145.1 154,146.9 141.3,149.2 130,152.1 120.2,155.6 112.4,159.4 106.6,163.6 103.1,168 101.9,172.5 102.9,177 106.3,181.5 112,185.6 119.7,189.5 129.3,193 140.5,195.9 153.2,198.3 166.9,200.1 181.3,201.1 196.2,201.5 211,201.2 225.5,200.1 235.5,166.3 247.7,164 258.6,161.2 267.9,157.9 275.4,154.2 280.9,150.2 284.3,146 285.5,141.7 284.5,137.3 281.2,133.1 275.8,129.1 268.4,125.4 259.2,122.1 248.4,119.3 236.3,117 223.2,115.3 209.3,114.3 195.1,113.9 180.9,114.2 167,115.2 153.8,116.9 141.6,119.2 130.7,122 121.4,125.3 113.9,129 108.4,133 105,137.2 103.8,141.5 104.8,145.8 108.1,150.1 113.5,154.1 120.9,157.8 130.1,161.1 140.9,163.9 153,166.2 166.1,167.9 180,168.9 194.2,169.3 208.4,168.9 222.3,167.9 231.2,144.4 242.8,142.2 253.2,139.6 262.1,136.4 269.2,132.9 274.5,129.1 277.7,125.1 278.8,121 277.8,116.8 274.7,112.8 269.6,109 262.6,105.5 253.8,102.3 243.6,99.6 232,97.5 219.5,95.9 206.3,94.9 192.8,94.6 179.3,94.9 166.1,95.8 153.5,97.4 141.9,99.5 131.6,102.2 122.7,105.3 115.6,108.9 110.3,112.7 107.1,116.7 105.9,120.8 106.9,124.9 110,128.9 115.2,132.8 122.2,136.3 131,139.4 141.2,142.1 152.8,144.3 165.3,145.9 178.4,146.9 191.9,147.2 205.5,146.9 218.7,146 226.5,131.2 237.5,129.2 247.2,126.6 255.6,123.4 262.3,119.7 267.3,115.8 270.3,111.7 271.4,107.5 270.5,103.3 267.6,99.2 262.7,95.4 256.1,91.9 247.8,88.9 238.1,86.4 227.3,84.4 215.5,82.9 203,81.9 190.3,81.6 177.5,82.1 165.1,83.2 153.2,84.9 142.3,87.2 132.5,90 124.2,93.3 117.4,97 112.5,100.9 109.4,105 108.4,109 109.3,112.8 112.2,116.6 117.1,120.2 123.7,123.6 131.9,126.5 141.6,129.1 152.5,131.1 164.3,132.6 176.7,133.5 189.5,133.9 202.2,133.6 214.7,132.7 221.8,122.4 232.1,120.5 241.3,118.1 249.1,114.5 255.5,110.6 260.1,106.4 263,102 264,97.5 263.1,93.2 260.4,89 255.8,85 249.6,81.4 241.8,78.3 232.7,75.9 222.5,74 211.4,72.5 199.8,71.7 187.8,71.7 175.8,72.4 164.1,73.8 152.9,75.8 142.7,78.4 133.5,81.5 125.6,85.1 119.3,89.1 114.6,93.3 111.8,97.7 110.8,101.5 111.6,105.2 114.4,108.7 118.9,112.1 125.2,115.3 132.9,118.1 142,120.4 152.2,122.4 163.3,123.8 175,124.6 187,124.9 199,124.7 210.7,123.8 217.1,115.1 226.7,113.4 235.3,111 242.7,107.3 248.6,103.2 253,98.8 255.6,94.4 256.6,89.8 255.8,85.4 253.2,81.2 248.9,77.2 243.1,73.6 235.8,70.6 227.3,68 217.8,66.1 207.4,64.9 196.5,64.3 185.2,64.5 174,65.3 163.1,66.9 152.6,69.1 143,71.9 134.4,75.2 127.1,78.9 121.1,83 116.8,87.3 114.1,91.8 113.2,95.6 114,99 116.6,102.3 120.8,105.5 126.6,108.4 133.9,111 142.4,113.3 152,115.1 162.4,116.4 173.3,117.2 184.5,117.5 195.7,117.2 206.7,116.4 211.5,109.1 220.3,107.4 228.2,105.2 234.9,101.8 240.4,98 244.4,94 246.8,89.9 247.7,85.7 246.9,81.7 244.6,77.8 240.7,74.1 235.3,70.9 228.6,68.1 220.8,65.7 212,64 202.5,62.8 192.5,62.3 182.2,62.5 171.9,63.3 161.9,64.7 152.3,66.7 143.5,69.2 135.6,72.3 128.8,75.7 123.4,79.5 119.4,83.5 116.9,87.6 116.1,91.1 116.8,94.2 119.2,97.3 123.1,100.2 128.4,102.9 135.1,105.3 142.9,107.3 151.7,109 161.2,110.2 171.2,111 181.5,111.2 191.8,111 201.9,110.2 204.9,103.4 212.8,102 219.8,99.9 225.9,96.8 230.7,93.4 234.3,89.8 236.5,86.2 237.3,82.4 236.6,78.8 234.5,75.3 231,72.1 226.2,69.1 220.3,66.6 213.2,64.5 205.4,62.9 196.9,61.9 187.9,61.5 178.7,61.6 169.4,62.3 160.4,63.6 151.9,65.4 144,67.7 136.9,70.4 130.9,73.5 126,76.8 122.4,80.4 120.2,84.1 119.4,87.3 120.1,90.2 122.2,92.9 125.7,95.5 130.5,97.9 136.5,100.1 143.5,101.9 151.3,103.4 159.9,104.5 168.8,105.1 178.1,105.4 187.3,105.1 196.3,104.5 198.3,98.1 205.2,96.8 211.5,94.8 216.8,92.1 221.1,89.1 224.3,86 226.2,82.7 226.9,79.4 226.3,76.2 224.5,73.1 221.4,70.3 217.1,67.7 211.9,65.4 205.7,63.6 198.7,62.2 191.2,61.3 183.3,60.9 175.1,61 167,61.6 159,62.8 151.5,64.4 144.5,66.4 138.2,68.8 132.9,71.5 128.6,74.5 125.4,77.6 123.5,80.9 122.8,83.9 123.4,86.4 125.3,88.8 128.4,91.1 132.6,93.2 137.9,95.1 144,96.7 151,98 158.5,99 166.5,99.6 174.6,99.8 182.7,99.6 190.7,99 190.7,91.9 196.7,90.8 201.9,88.9 206.5,86.6 210.1,84.1 212.8,81.4 214.5,78.7 215.1,75.9 214.5,73.1 213,70.5 210.3,68.1 206.7,65.9 202.3,64 197,62.4 191.1,61.3 184.7,60.5 178,60.2 171.1,60.3 164.2,60.8 157.4,61.7 151,63.1 145.1,64.8 139.8,66.8 135.2,69.1 131.6,71.7 128.9,74.3 127.2,77.1 126.6,79.8 127.2,81.9 128.7,84 131.4,85.9 135,87.8 139.4,89.4 144.7,90.7 150.6,91.9 157,92.7 163.7,93.2 170.6,93.3 177.5,93.2 184.3,92.7 183.2,86.7 188.1,85.8 192.4,84.1 196.1,82.2 199.1,80.1 201.4,77.9 202.7,75.7 203.2,73.4 202.8,71.1 201.5,69 199.3,67 196.4,65.2 192.7,63.6 188.4,62.3 183.5,61.3 178.3,60.7 172.7,60.4 167,60.5 161.3,61 155.8,61.7 150.5,62.8 145.6,64.3 141.3,65.9 137.5,67.8 134.5,69.9 132.3,72.1 131,74.4 130.5,76.7 130.9,78.5 132.2,80.2 134.4,81.8 137.3,83.3 141,84.6 145.3,85.8 150.2,86.7 155.4,87.4 161,87.8 166.7,87.9 172.3,87.8 177.9,87.4 174.7,83.5 178.4,82.5 181.7,81.3 184.5,79.8 186.8,78.2 188.5,76.6 189.5,74.9 189.8,73.1 189.5,71.4 188.5,69.8 186.9,68.3 184.7,66.9 181.9,65.7 178.6,64.8 174.9,64 171,63.6 166.8,63.3 162.5,63.4 158.2,63.7 154,64.3 150,65.2 146.3,66.2 143,67.5 140.2,68.9 137.9,70.5 136.2,72.2 135.2,73.9 134.8,75.6 135.1,77.3 136.1,78.6 137.8,79.8 140,80.9 142.8,81.9 146.1,82.8 149.7,83.5 153.7,84 157.9,84.3 162.2,84.4 166.5,84.3 170.7,84 166.2,82.9 168.7,82.2 171,81.3 172.9,80.4 174.4,79.3 175.5,78.2 176.2,77 176.5,75.8 176.3,74.7 175.6,73.6 174.5,72.5 173,71.6 171.1,70.8 168.9,70.2 166.4,69.7 163.7,69.3 160.8,69.2 157.9,69.2 155,69.5 152.2,69.9 149.4,70.4 146.9,71.2 144.7,72 142.8,73 141.2,74.1 140.1,75.2 139.4,76.4 139.2,77.5 139.4,78.7 140,79.8 141.2,80.7 142.7,81.5 144.6,82.1 146.8,82.7 149.3,83.2 152,83.5 154.8,83.7 157.7,83.8 160.7,83.8 163.5,83.5 157.7,83 159.1,82.6 160.2,82.2 161.2,81.7 162,81.1 162.6,80.5 163,79.9 163.1,79.3 163,78.7 162.7,78.1 162.1,77.5 161.3,77.1 160.3,76.6 159.1,76.3 157.8,76 156.4,75.9 154.9,75.8 153.4,75.8 151.8,75.9 150.3,76.1 148.9,76.4 147.6,76.8 146.4,77.3 145.4,77.8 144.6,78.3 144,78.9 143.6,79.5 143.5,80.2 143.6,80.8 144,81.4 144.5,81.9 145.3,82.4 146.3,82.8 147.5,83.2 148.8,83.4 150.2,83.6 151.7,83.7 153.3,83.6 154.8,83.5 156.3,83.3 151.1,83 151.5,82.9 151.9,82.7 152.2,82.6 152.4,82.4 152.6,82.2 152.7,82.1 152.8,81.9 152.7,81.7 152.6,81.5 152.4,81.4 152.2,81.2 151.9,81.1 151.6,81 151.2,80.9 150.7,80.8 150.3,80.8 149.8,80.8 149.4,80.9 148.9,80.9 148.5,81 148.1,81.1 147.7,81.3 147.4,81.4 147.2,81.6 147,81.8 146.9,82 146.9,82.1 146.9,82.3 147,82.5 147.2,82.7 147.4,82.8 147.7,82.9 148.1,83 148.5,83.1 148.9,83.2 149.3,83.2 149.8,83.2 150.3,83.1 150.7,83.1 242.6,258.4 255.7,255.9 267.5,252.9 277.6,249.3 285.7,245.4 291.7,241 295.3,236.5 296.6,231.8 295.5,227.1 292,222.5 286.1,218.2 278.2,214.2 268.2,210.6 256.5,207.5 243.4,205.1 229.2,203.3 214.3,202.1 198.9,201.8 183.5,202.1 168.5,203.2 154.2,205 141.1,207.4 129.3,210.5 119.2,214 111.1,218 105.1,222.4 101.5,226.9 100.2,231.6 101.3,236.3 104.8,240.8 110.7,245.2 118.6,249.2 128.6,252.8 140.3,255.8 153.4,258.3 167.6,260.1 182.5,261.2 197.9,261.6 213.3,261.3 228.3,260.2 239.3,191 252,188.7 263.3,185.7 273.1,182.3 280.9,178.4 286.6,174.3 290.2,169.8 291.4,165.3 290.3,160.8 286.9,156.4 281.3,152.2 273.6,148.3 264,144.9 252.8,141.9 240.1,139.6 226.4,137.8 212,136.7 197.1,136.4 182.3,136.7 167.8,137.8 154,139.5 141.3,141.8 130,144.8 120.2,148.2 112.4,152.1 106.6,156.2 103.1,160.6 101.9,165.2 102.9,169.7 106.3,174.1 112,178.3 119.7,182.1 129.3,185.6 140.5,188.5 153.2,190.9 166.9,192.7 181.3,193.7 196.2,194.1 211,193.8 225.5,192.7 235.5,161.9 247.7,159.6 258.6,156.8 267.9,153.5 275.4,149.8 280.9,145.8 284.3,141.6 285.5,137.3 284.5,132.9 281.2,128.7 275.8,124.7 268.4,121 259.2,117.7 248.4,114.8 236.3,112.5 223.2,110.9 209.3,109.8 195.1,109.5 180.9,109.8 167,110.8 153.8,112.5 141.6,114.7 130.7,117.5 121.4,120.8 113.9,124.5 108.4,128.5 105,132.8 103.8,137.1 104.8,141.4 108.1,145.6 113.5,149.7 120.9,153.4 130.1,156.7 140.9,159.5 153,161.8 166.1,163.5 180,164.5 194.2,164.8 208.4,164.5 222.3,163.5 231.2,142.2 242.8,140 253.2,137.3 262.1,134.2 269.2,130.7 274.5,126.9 277.7,122.9 278.8,118.8 277.8,114.6 274.7,110.6 269.6,106.8 262.6,103.3 253.8,100.1 243.6,97.4 232,95.3 219.5,93.7 206.3,92.7 192.8,92.3 179.3,92.7 166.1,93.6 153.5,95.2 141.9,97.3 131.6,100 122.7,103.1 115.6,106.6 110.3,110.5 107.1,114.5 105.9,118.6 106.9,122.7 110,126.7 115.2,130.6 122.2,134.1 131,137.2 141.2,139.9 152.8,142.1 165.3,143.7 178.4,144.7 191.9,145 205.5,144.7 218.7,143.7 226.5,130.5 237.5,128.4 247.2,125.9 255.6,122.6 262.3,119 267.3,115 270.3,110.9 271.4,106.7 270.5,102.6 267.6,98.5 262.7,94.7 256.1,91.2 247.8,88.2 238.1,85.7 227.3,83.6 215.5,82.1 203,81.2 190.3,80.9 177.5,81.3 165.1,82.4 153.2,84.2 142.3,86.5 132.5,89.3 124.2,92.6 117.4,96.2 112.5,100.2 109.4,104.3 108.4,108.2 109.3,112.1 112.2,115.9 117.1,119.5 123.7,122.8 131.9,125.8 141.6,128.3 152.5,130.4 164.3,131.9 176.7,132.8 189.5,133.1 202.2,132.8 214.7,131.9 221.8,122.4 232.1,120.5 241.3,118.1 249.1,114.5 255.5,110.6 260.1,106.4 263,102 264,97.5 263.1,93.2 260.4,89 255.8,85 249.6,81.4 241.8,78.3 232.7,75.9 222.5,74 211.4,72.5 199.8,71.7 187.8,71.7 175.8,72.4 164.1,73.8 152.9,75.8 142.7,78.4 133.5,81.5 125.6,85.1 119.3,89.1 114.6,93.3 111.8,97.7 110.8,101.5 111.6,105.2 114.4,108.7 118.9,112.1 125.2,115.3 132.9,118.1 142,120.4 152.2,122.4 163.3,123.8 175,124.6 187,124.9 199,124.7 210.7,123.8 217.1,115.1 226.7,113.4 235.3,111 242.7,107.3 248.6,103.2 253,98.8 255.6,94.4 256.6,89.8 255.8,85.4 253.2,81.2 248.9,77.2 243.1,73.6 235.8,70.6 227.3,68 217.8,66.1 207.4,64.9 196.5,64.3 185.2,64.5 174,65.3 163.1,66.9 152.6,69.1 143,71.9 134.4,75.2 127.1,78.9 121.1,83 116.8,87.3 114.1,91.8 113.2,95.6 114,99 116.6,102.3 120.8,105.5 126.6,108.4 133.9,111 142.4,113.3 152,115.1 162.4,116.4 173.3,117.2 184.5,117.5 195.7,117.2 206.7,116.4 211.5,109.1 220.3,107.4 228.2,105.2 234.9,101.8 240.4,98 244.4,94 246.8,89.9 247.7,85.7 246.9,81.7 244.6,77.8 240.7,74.1 235.3,70.9 228.6,68.1 220.8,65.7 212,64 202.5,62.8 192.5,62.3 182.2,62.5 171.9,63.3 161.9,64.7 152.3,66.7 143.5,69.2 135.6,72.3 128.8,75.7 123.4,79.5 119.4,83.5 116.9,87.6 116.1,91.1 116.8,94.2 119.2,97.3 123.1,100.2 128.4,102.9 135.1,105.3 142.9,107.3 151.7,109 161.2,110.2 171.2,111 181.5,111.2 191.8,111 201.9,110.2 204.9,103.4 212.8,102 219.8,99.9 225.9,96.8 230.7,93.4 234.3,89.8 236.5,86.2 237.3,82.4 236.6,78.8 234.5,75.3 231,72.1 226.2,69.1 220.3,66.6 213.2,64.5 205.4,62.9 196.9,61.9 187.9,61.5 178.7,61.6 169.4,62.3 160.4,63.6 151.9,65.4 144,67.7 136.9,70.4 130.9,73.5 126,76.8 122.4,80.4 120.2,84.1 119.4,87.3 120.1,90.2 122.2,92.9 125.7,95.5 130.5,97.9 136.5,100.1 143.5,101.9 151.3,103.4 159.9,104.5 168.8,105.1 178.1,105.4 187.3,105.1 196.3,104.5 198.3,98.1 205.2,96.8 211.5,94.8 216.8,92.1 221.1,89.1 224.3,86 226.2,82.7 226.9,79.4 226.3,76.2 224.5,73.1 221.4,70.3 217.1,67.7 211.9,65.4 205.7,63.6 198.7,62.2 191.2,61.3 183.3,60.9 175.1,61 167,61.6 159,62.8 151.5,64.4 144.5,66.4 138.2,68.8 132.9,71.5 128.6,74.5 125.4,77.6 123.5,80.9 122.8,83.9 123.4,86.4 125.3,88.8 128.4,91.1 132.6,93.2 137.9,95.1 144,96.7 151,98 158.5,99 166.5,99.6 174.6,99.8 182.7,99.6 190.7,99 190.7,91.9 196.7,90.8 201.9,88.9 206.5,86.6 210.1,84.1 212.8,81.4 214.5,78.7 215.1,75.9 214.5,73.1 213,70.5 210.3,68.1 206.7,65.9 202.3,64 197,62.4 191.1,61.3 184.7,60.5 178,60.2 171.1,60.3 164.2,60.8 157.4,61.7 151,63.1 145.1,64.8 139.8,66.8 135.2,69.1 131.6,71.7 128.9,74.3 127.2,77.1 126.6,79.8 127.2,81.9 128.7,84 131.4,85.9 135,87.8 139.4,89.4 144.7,90.7 150.6,91.9 157,92.7 163.7,93.2 170.6,93.3 177.5,93.2 184.3,92.7 183.2,86.7 188.1,85.8 192.4,84.1 196.1,82.2 199.1,80.1 201.4,77.9 202.7,75.7 203.2,73.4 202.8,71.1 201.5,69 199.3,67 196.4,65.2 192.7,63.6 188.4,62.3 183.5,61.3 178.3,60.7 172.7,60.4 167,60.5 161.3,61 155.8,61.7 150.5,62.8 145.6,64.3 141.3,65.9 137.5,67.8 134.5,69.9 132.3,72.1 131,74.4 130.5,76.7 130.9,78.5 132.2,80.2 134.4,81.8 137.3,83.3 141,84.6 145.3,85.8 150.2,86.7 155.4,87.4 161,87.8 166.7,87.9 172.3,87.8 177.9,87.4 174.7,83.5 178.4,82.5 181.7,81.3 184.5,79.8 186.8,78.2 188.5,76.6 189.5,74.9 189.8,73.1 189.5,71.4 188.5,69.8 186.9,68.3 184.7,66.9 181.9,65.7 178.6,64.8 174.9,64 171,63.6 166.8,63.3 162.5,63.4 158.2,63.7 154,64.3 150,65.2 146.3,66.2 143,67.5 140.2,68.9 137.9,70.5 136.2,72.2 135.2,73.9 134.8,75.6 135.1,77.3 136.1,78.6 137.8,79.8 140,80.9 142.8,81.9 146.1,82.8 149.7,83.5 153.7,84 157.9,84.3 162.2,84.4 166.5,84.3 170.7,84 166.2,82.9 168.7,82.2 171,81.3 172.9,80.4 174.4,79.3 175.5,78.2 176.2,77 176.5,75.8 176.3,74.7 175.6,73.6 174.5,72.5 173,71.6 171.1,70.8 168.9,70.2 166.4,69.7 163.7,69.3 160.8,69.2 157.9,69.2 155,69.5 152.2,69.9 149.4,70.4 146.9,71.2 144.7,72 142.8,73 141.2,74.1 140.1,75.2 139.4,76.4 139.2,77.5 139.4,78.7 140,79.8 141.2,80.7 142.7,81.5 144.6,82.1 146.8,82.7 149.3,83.2 152,83.5 154.8,83.7 157.7,83.8 160.7,83.8 163.5,83.5 157.7,83 159.1,82.6 160.2,82.2 161.2,81.7 162,81.1 162.6,80.5 163,79.9 163.1,79.3 163,78.7 162.7,78.1 162.1,77.5 161.3,77.1 160.3,76.6 159.1,76.3 157.8,76 156.4,75.9 154.9,75.8 153.4,75.8 151.8,75.9 150.3,76.1 148.9,76.4 147.6,76.8 146.4,77.3 145.4,77.8 144.6,78.3 144,78.9 143.6,79.5 143.5,80.2 143.6,80.8 144,81.4 144.5,81.9 145.3,82.4 146.3,82.8 147.5,83.2 148.8,83.4 150.2,83.6 151.7,83.7 153.3,83.6 154.8,83.5 156.3,83.3 151.1,83 151.5,82.9 151.9,82.7 152.2,82.6 152.4,82.4 152.6,82.2 152.7,82.1 152.8,81.9 152.7,81.7 152.6,81.5 152.4,81.4 152.2,81.2 151.9,81.1 151.6,81 151.2,80.9 150.7,80.8 150.3,80.8 149.8,80.8 149.4,80.9 148.9,80.9 148.5,81 148.1,81.1 147.7,81.3 147.4,81.4 147.2,81.6 147,81.8 146.9,82 146.9,82.1 146.9,82.3 147,82.5 147.2,82.7 147.4,82.8 147.7,82.9 148.1,83 148.5,83.1 148.9,83.2 149.3,83.2 149.8,83.2 150.3,83.1 150.7,83.1 242.6,258.4 255.7,255.9 267.5,252.9 277.6,249.3 285.7,245.4 291.7,241 295.3,236.5 296.6,231.8 295.5,227.1 292,222.5 286.1,218.2 278.2,214.2 268.2,210.6 256.5,207.5 243.4,205.1 229.2,203.3 214.3,202.1 198.9,201.8 183.5,202.1 168.5,203.2 154.2,205 141.1,207.4 129.3,210.5 119.2,214 111.1,218 105.1,222.4 101.5,226.9 100.2,231.6 101.3,236.3 104.8,240.8 110.7,245.2 118.6,249.2 128.6,252.8 140.3,255.8 153.4,258.3 167.6,260.1 182.5,261.2 197.9,261.6 213.3,261.3 228.3,260.2 239.3,201.3 252,199 263.3,196.1 273.1,192.6 280.9,188.8 286.6,184.6 290.2,180.2 291.4,175.7 290.3,171.1 286.9,166.7 281.3,162.5 273.6,158.7 264,155.2 252.8,152.3 240.1,149.9 226.4,148.1 212,147.1 197.1,146.7 182.3,147 167.8,148.1 154,149.8 141.3,152.2 130,155.1 120.2,158.5 112.4,162.4 106.6,166.6 103.1,171 101.9,175.5 102.9,180 106.3,184.4 112,188.6 119.7,192.5 129.3,195.9 140.5,198.9 153.2,201.3 166.9,203 181.3,204.1 196.2,204.4 211,204.1 225.5,203.1 235.5,168.1 247.7,165.8 258.6,163 267.9,159.7 275.4,156 280.9,152 284.3,147.8 285.5,143.4 284.5,139.1 281.2,134.9 275.8,130.9 268.4,127.2 259.2,123.9 248.4,121 236.3,118.7 223.2,117.1 209.3,116 195.1,115.7 180.9,116 167,117 153.8,118.7 141.6,120.9 130.7,123.7 121.4,127 113.9,130.7 108.4,134.7 105,138.9 103.8,143.3 104.8,147.6 108.1,151.8 113.5,155.9 120.9,159.6 130.1,162.9 140.9,165.7 153,168 166.1,169.7 180,170.7 194.2,171 208.4,170.7 222.3,169.7 231.2,145.3 242.8,143.1 253.2,140.4 262.1,137.3 269.2,133.8 274.5,130 277.7,126 278.8,121.9 277.8,117.7 274.7,113.7 269.6,109.9 262.6,106.4 253.8,103.2 243.6,100.5 232,98.4 219.5,96.8 206.3,95.8 192.8,95.4 179.3,95.8 166.1,96.7 153.5,98.3 141.9,100.4 131.6,103.1 122.7,106.2 115.6,109.7 110.3,113.6 107.1,117.6 105.9,121.7 106.9,125.8 110,129.8 115.2,133.7 122.2,137.2 131,140.3 141.2,143 152.8,145.2 165.3,146.8 178.4,147.8 191.9,148.1 205.5,147.8 218.7,146.8 226.5,131.5 237.5,129.5 247.2,126.9 255.6,123.7 262.3,120 267.3,116.1 270.3,112 271.4,107.8 270.5,103.6 267.6,99.5 262.7,95.7 256.1,92.2 247.8,89.2 238.1,86.7 227.3,84.7 215.5,83.2 203,82.2 190.3,81.9 177.5,82.3 165.1,83.5 153.2,85.2 142.3,87.5 132.5,90.3 124.2,93.6 117.4,97.3 112.5,101.2 109.4,105.3 108.4,109.2 109.3,113.1 112.2,116.9 117.1,120.5 123.7,123.9 131.9,126.8 141.6,129.4 152.5,131.4 164.3,132.9 176.7,133.8 189.5,134.2 202.2,133.9 214.7,133 221.8,122.4 232.1,120.5 241.3,118.1 249.1,114.5 255.5,110.6 260.1,106.4 263,102 264,97.5 263.1,93.2 260.4,89 255.8,85 249.6,81.4 241.8,78.3 232.7,75.9 222.5,74 211.4,72.5 199.8,71.7 187.8,71.7 175.8,72.4 164.1,73.8 152.9,75.8 142.7,78.4 133.5,81.5 125.6,85.1 119.3,89.1 114.6,93.3 111.8,97.7 110.8,101.5 111.6,105.2 114.4,108.7 118.9,112.1 125.2,115.3 132.9,118.1 142,120.4 152.2,122.4 163.3,123.8 175,124.6 187,124.9 199,124.7 210.7,123.8 217.1,115.1 226.7,113.4 235.3,111 242.7,107.3 248.6,103.2 253,98.8 255.6,94.4 256.6,89.8 255.8,85.4 253.2,81.2 248.9,77.2 243.1,73.6 235.8,70.6 227.3,68 217.8,66.1 207.4,64.9 196.5,64.3 185.2,64.5 174,65.3 163.1,66.9 152.6,69.1 143,71.9 134.4,75.2 127.1,78.9 121.1,83 116.8,87.3 114.1,91.8 113.2,95.6 114,99 116.6,102.3 120.8,105.5 126.6,108.4 133.9,111 142.4,113.3 152,115.1 162.4,116.4 173.3,117.2 184.5,117.5 195.7,117.2 206.7,116.4 211.5,109.1 220.3,107.4 228.2,105.2 234.9,101.8 240.4,98 244.4,94 246.8,89.9 247.7,85.7 246.9,81.7 244.6,77.8 240.7,74.1 235.3,70.9 228.6,68.1 220.8,65.7 212,64 202.5,62.8 192.5,62.3 182.2,62.5 171.9,63.3 161.9,64.7 152.3,66.7 143.5,69.2 135.6,72.3 128.8,75.7 123.4,79.5 119.4,83.5 116.9,87.6 116.1,91.1 116.8,94.2 119.2,97.3 123.1,100.2 128.4,102.9 135.1,105.3 142.9,107.3 151.7,109 161.2,110.2 171.2,111 181.5,111.2 191.8,111 201.9,110.2 204.9,103.4 212.8,102 219.8,99.9 225.9,96.8 230.7,93.4 234.3,89.8 236.5,86.2 237.3,82.4 236.6,78.8 234.5,75.3 231,72.1 226.2,69.1 220.3,66.6 213.2,64.5 205.4,62.9 196.9,61.9 187.9,61.5 178.7,61.6 169.4,62.3 160.4,63.6 151.9,65.4 144,67.7 136.9,70.4 130.9,73.5 126,76.8 122.4,80.4 120.2,84.1 119.4,87.3 120.1,90.2 122.2,92.9 125.7,95.5 130.5,97.9 136.5,100.1 143.5,101.9 151.3,103.4 159.9,104.5 168.8,105.1 178.1,105.4 187.3,105.1 196.3,104.5 198.3,98.1 205.2,96.8 211.5,94.8 216.8,92.1 221.1,89.1 224.3,86 226.2,82.7 226.9,79.4 226.3,76.2 224.5,73.1 221.4,70.3 217.1,67.7 211.9,65.4 205.7,63.6 198.7,62.2 191.2,61.3 183.3,60.9 175.1,61 167,61.6 159,62.8 151.5,64.4 144.5,66.4 138.2,68.8 132.9,71.5 128.6,74.5 125.4,77.6 123.5,80.9 122.8,83.9 123.4,86.4 125.3,88.8 128.4,91.1 132.6,93.2 137.9,95.1 144,96.7 151,98 158.5,99 166.5,99.6 174.6,99.8 182.7,99.6 190.7,99 190.7,91.9 196.7,90.8 201.9,88.9 206.5,86.6 210.1,84.1 212.8,81.4 214.5,78.7 215.1,75.9 214.5,73.1 213,70.5 210.3,68.1 206.7,65.9 202.3,64 197,62.4 191.1,61.3 184.7,60.5 178,60.2 171.1,60.3 164.2,60.8 157.4,61.7 151,63.1 145.1,64.8 139.8,66.8 135.2,69.1 131.6,71.7 128.9,74.3 127.2,77.1 126.6,79.8 127.2,81.9 128.7,84 131.4,85.9 135,87.8 139.4,89.4 144.7,90.7 150.6,91.9 157,92.7 163.7,93.2 170.6,93.3 177.5,93.2 184.3,92.7 183.2,86.7 188.1,85.8 192.4,84.1 196.1,82.2 199.1,80.1 201.4,77.9 202.7,75.7 203.2,73.4 202.8,71.1 201.5,69 199.3,67 196.4,65.2 192.7,63.6 188.4,62.3 183.5,61.3 178.3,60.7 172.7,60.4 167,60.5 161.3,61 155.8,61.7 150.5,62.8 145.6,64.3 141.3,65.9 137.5,67.8 134.5,69.9 132.3,72.1 131,74.4 130.5,76.7 130.9,78.5 132.2,80.2 134.4,81.8 137.3,83.3 141,84.6 145.3,85.8 150.2,86.7 155.4,87.4 161,87.8 166.7,87.9 172.3,87.8 177.9,87.4 174.7,83.5 178.4,82.5 181.7,81.3 184.5,79.8 186.8,78.2 188.5,76.6 189.5,74.9 189.8,73.1 189.5,71.4 188.5,69.8 186.9,68.3 184.7,66.9 181.9,65.7 178.6,64.8 174.9,64 171,63.6 166.8,63.3 162.5,63.4 158.2,63.7 154,64.3 150,65.2 146.3,66.2 143,67.5 140.2,68.9 137.9,70.5 136.2,72.2 135.2,73.9 134.8,75.6 135.1,77.3 136.1,78.6 137.8,79.8 140,80.9 142.8,81.9 146.1,82.8 149.7,83.5 153.7,84 157.9,84.3 162.2,84.4 166.5,84.3 170.7,84 166.2,82.9 168.7,82.2 171,81.3 172.9,80.4 174.4,79.3 175.5,78.2 176.2,77 176.5,75.8 176.3,74.7 175.6,73.6 174.5,72.5 173,71.6 171.1,70.8 168.9,70.2 166.4,69.7 163.7,69.3 160.8,69.2 157.9,69.2 155,69.5 152.2,69.9 149.4,70.4 146.9,71.2 144.7,72 142.8,73 141.2,74.1 140.1,75.2 139.4,76.4 139.2,77.5 139.4,78.7 140,79.8 141.2,80.7 142.7,81.5 144.6,82.1 146.8,82.7 149.3,83.2 152,83.5 154.8,83.7 157.7,83.8 160.7,83.8 163.5,83.5 157.7,83 159.1,82.6 160.2,82.2 161.2,81.7 162,81.1 162.6,80.5 163,79.9 163.1,79.3 163,78.7 162.7,78.1 162.1,77.5 161.3,77.1 160.3,76.6 159.1,76.3 157.8,76 156.4,75.9 154.9,75.8 153.4,75.8 151.8,75.9 150.3,76.1 148.9,76.4 147.6,76.8 146.4,77.3 145.4,77.8 144.6,78.3 144,78.9 143.6,79.5 143.5,80.2 143.6,80.8 144,81.4 144.5,81.9 145.3,82.4 146.3,82.8 147.5,83.2 148.8,83.4 150.2,83.6 151.7,83.7 153.3,83.6 154.8,83.5 156.3,83.3 151.1,83 151.5,82.9 151.9,82.7 152.2,82.6 152.4,82.4 152.6,82.2 152.7,82.1 152.8,81.9 152.7,81.7 152.6,81.5 152.4,81.4 152.2,81.2 151.9,81.1 151.6,81 151.2,80.9 150.7,80.8 150.3,80.8 149.8,80.8 149.4,80.9 148.9,80.9 148.5,81 148.1,81.1 147.7,81.3 147.4,81.4 147.2,81.6 147,81.8 146.9,82 146.9,82.1 146.9,82.3 147,82.5 147.2,82.7 147.4,82.8 147.7,82.9 148.1,83 148.5,83.1 148.9,83.2 149.3,83.2 149.8,83.2 150.3,83.1 150.7,83.1 242.6,258.4 255.7,255.9 267.5,252.9 277.6,249.3 285.7,245.4 291.7,241 295.3,236.5 296.6,231.8 295.5,227.1 292,222.5 286.1,218.2 278.2,214.2 268.2,210.6 256.5,207.5 243.4,205.1 229.2,203.3 214.3,202.1 198.9,201.8 183.5,202.1 168.5,203.2 154.2,205 141.1,207.4 129.3,210.5 119.2,214 111.1,218 105.1,222.4 101.5,226.9 100.2,231.6 101.3,236.3 104.8,240.8 110.7,245.2 118.6,249.2 128.6,252.8 140.3,255.8 153.4,258.3 167.6,260.1 182.5,261.2 197.9,261.6 213.3,261.3 228.3,260.2 239.3,193.2 252,190.9 263.3,187.9 273.1,184.5 280.9,180.6 286.6,176.5 290.2,172.1 291.4,167.5 290.3,163 286.9,158.6 281.3,154.4 273.6,150.6 264,147.1 252.8,144.2 240.1,141.8 226.4,140 212,139 197.1,138.6 182.3,138.9 167.8,140 154,141.7 141.3,144 130,147 120.2,150.4 112.4,154.3 106.6,158.4 103.1,162.9 101.9,167.4 102.9,171.9 106.3,176.3 112,180.5 119.7,184.4 129.3,187.8 140.5,190.8 153.2,193.1 166.9,194.9 181.3,196 196.2,196.3 211,196 225.5,194.9 235.5,163.2 247.7,160.9 258.6,158.1 267.9,154.8 275.4,151.1 280.9,147.1 284.3,142.9 285.5,138.6 284.5,134.2 281.2,130 275.8,126 268.4,122.3 259.2,119 248.4,116.2 236.3,113.9 223.2,112.2 209.3,111.2 195.1,110.8 180.9,111.1 167,112.1 153.8,113.8 141.6,116.1 130.7,118.9 121.4,122.2 113.9,125.9 108.4,129.9 105,134.1 103.8,138.4 104.8,142.7 108.1,147 113.5,151 120.9,154.7 130.1,158 140.9,160.8 153,163.1 166.1,164.8 180,165.8 194.2,166.2 208.4,165.8 222.3,164.8 231.2,142.8 242.8,140.7 253.2,138 262.1,134.9 269.2,131.4 274.5,127.6 277.7,123.5 278.8,119.4 277.8,115.3 274.7,111.3 269.6,107.5 262.6,103.9 253.8,100.8 243.6,98.1 232,95.9 219.5,94.3 206.3,93.3 192.8,93 179.3,93.3 166.1,94.3 153.5,95.8 141.9,98 131.6,100.7 122.7,103.8 115.6,107.3 110.3,111.1 107.1,115.1 105.9,119.3 106.9,123.4 110,127.4 115.2,131.2 122.2,134.7 131,137.9 141.2,140.6 152.8,142.8 165.3,144.4 178.4,145.3 191.9,145.7 205.5,145.4 218.7,144.4 226.5,130.7 237.5,128.6 247.2,126.1 255.6,122.9 262.3,119.2 267.3,115.3 270.3,111.2 271.4,107 270.5,102.8 267.6,98.7 262.7,94.9 256.1,91.4 247.8,88.4 238.1,85.9 227.3,83.8 215.5,82.3 203,81.4 190.3,81.1 177.5,81.5 165.1,82.6 153.2,84.4 142.3,86.7 132.5,89.5 124.2,92.8 117.4,96.5 112.5,100.4 109.4,104.5 108.4,108.4 109.3,112.3 112.2,116.1 117.1,119.7 123.7,123 131.9,126 141.6,128.6 152.5,130.6 164.3,132.1 176.7,133 189.5,133.3 202.2,133.1 214.7,132.2 221.8,122.4 232.1,120.5 241.3,118.1 249.1,114.5 255.5,110.6 260.1,106.4 263,102 264,97.5 263.1,93.2 260.4,89 255.8,85 249.6,81.4 241.8,78.3 232.7,75.9 222.5,74 211.4,72.5 199.8,71.7 187.8,71.7 175.8,72.4 164.1,73.8 152.9,75.8 142.7,78.4 133.5,81.5 125.6,85.1 119.3,89.1 114.6,93.3 111.8,97.7 110.8,101.5 111.6,105.2 114.4,108.7 118.9,112.1 125.2,115.3 132.9,118.1 142,120.4 152.2,122.4 163.3,123.8 175,124.6 187,124.9 199,124.7 210.7,123.8 217.1,115.1 226.7,113.4 235.3,111 242.7,107.3 248.6,103.2 253,98.8 255.6,94.4 256.6,89.8 255.8,85.4 253.2,81.2 248.9,77.2 243.1,73.6 235.8,70.6 227.3,68 217.8,66.1 207.4,64.9 196.5,64.3 185.2,64.5 174,65.3 163.1,66.9 152.6,69.1 143,71.9 134.4,75.2 127.1,78.9 121.1,83 116.8,87.3 114.1,91.8 113.2,95.6 114,99 116.6,102.3 120.8,105.5 126.6,108.4 133.9,111 142.4,113.3 152,115.1 162.4,116.4 173.3,117.2 184.5,117.5 195.7,117.2 206.7,116.4 211.5,109.1 220.3,107.4 228.2,105.2 234.9,101.8 240.4,98 244.4,94 246.8,89.9 247.7,85.7 246.9,81.7 244.6,77.8 240.7,74.1 235.3,70.9 228.6,68.1 220.8,65.7 212,64 202.5,62.8 192.5,62.3 182.2,62.5 171.9,63.3 161.9,64.7 152.3,66.7 143.5,69.2 135.6,72.3 128.8,75.7 123.4,79.5 119.4,83.5 116.9,87.6 116.1,91.1 116.8,94.2 119.2,97.3 123.1,100.2 128.4,102.9 135.1,105.3 142.9,107.3 151.7,109 161.2,110.2 171.2,111 181.5,111.2 191.8,111 201.9,110.2 204.9,103.4 212.8,102 219.8,99.9 225.9,96.8 230.7,93.4 234.3,89.8 236.5,86.2 237.3,82.4 236.6,78.8 234.5,75.3 231,72.1 226.2,69.1 220.3,66.6 213.2,64.5 205.4,62.9 196.9,61.9 187.9,61.5 178.7,61.6 169.4,62.3 160.4,63.6 151.9,65.4 144,67.7 136.9,70.4 130.9,73.5 126,76.8 122.4,80.4 120.2,84.1 119.4,87.3 120.1,90.2 122.2,92.9 125.7,95.5 130.5,97.9 136.5,100.1 143.5,101.9 151.3,103.4 159.9,104.5 168.8,105.1 178.1,105.4 187.3,105.1 196.3,104.5 198.3,98.1 205.2,96.8 211.5,94.8 216.8,92.1 221.1,89.1 224.3,86 226.2,82.7 226.9,79.4 226.3,76.2 224.5,73.1 221.4,70.3 217.1,67.7 211.9,65.4 205.7,63.6 198.7,62.2 191.2,61.3 183.3,60.9 175.1,61 167,61.6 159,62.8 151.5,64.4 144.5,66.4 138.2,68.8 132.9,71.5 128.6,74.5 125.4,77.6 123.5,80.9 122.8,83.9 123.4,86.4 125.3,88.8 128.4,91.1 132.6,93.2 137.9,95.1 144,96.7 151,98 158.5,99 166.5,99.6 174.6,99.8 182.7,99.6 190.7,99 190.7,91.9 196.7,90.8 201.9,88.9 206.5,86.6 210.1,84.1 212.8,81.4 214.5,78.7 215.1,75.9 214.5,73.1 213,70.5 210.3,68.1 206.7,65.9 202.3,64 197,62.4 191.1,61.3 184.7,60.5 178,60.2 171.1,60.3 164.2,60.8 157.4,61.7 151,63.1 145.1,64.8 139.8,66.8 135.2,69.1 131.6,71.7 128.9,74.3 127.2,77.1 126.6,79.8 127.2,81.9 128.7,84 131.4,85.9 135,87.8 139.4,89.4 144.7,90.7 150.6,91.9 157,92.7 163.7,93.2 170.6,93.3 177.5,93.2 184.3,92.7 183.2,86.7 188.1,85.8 192.4,84.1 196.1,82.2 199.1,80.1 201.4,77.9 202.7,75.7 203.2,73.4 202.8,71.1 201.5,69 199.3,67 196.4,65.2 192.7,63.6 188.4,62.3 183.5,61.3 178.3,60.7 172.7,60.4 167,60.5 161.3,61 155.8,61.7 150.5,62.8 145.6,64.3 141.3,65.9 137.5,67.8 134.5,69.9 132.3,72.1 131,74.4 130.5,76.7 130.9,78.5 132.2,80.2 134.4,81.8 137.3,83.3 141,84.6 145.3,85.8 150.2,86.7 155.4,87.4 161,87.8 166.7,87.9 172.3,87.8 177.9,87.4 174.7,83.5 178.4,82.5 181.7,81.3 184.5,79.8 186.8,78.2 188.5,76.6 189.5,74.9 189.8,73.1 189.5,71.4 188.5,69.8 186.9,68.3 184.7,66.9 181.9,65.7 178.6,64.8 174.9,64 171,63.6 166.8,63.3 162.5,63.4 158.2,63.7 154,64.3 150,65.2 146.3,66.2 143,67.5 140.2,68.9 137.9,70.5 136.2,72.2 135.2,73.9 134.8,75.6 135.1,77.3 136.1,78.6 137.8,79.8 140,80.9 142.8,81.9 146.1,82.8 149.7,83.5 153.7,84 157.9,84.3 162.2,84.4 166.5,84.3 170.7,84 166.2,82.9 168.7,82.2 171,81.3 172.9,80.4 174.4,79.3 175.5,78.2 176.2,77 176.5,75.8 176.3,74.7 175.6,73.6 174.5,72.5 173,71.6 171.1,70.8 168.9,70.2 166.4,69.7 163.7,69.3 160.8,69.2 157.9,69.2 155,69.5 152.2,69.9 149.4,70.4 146.9,71.2 144.7,72 142.8,73 141.2,74.1 140.1,75.2 139.4,76.4 139.2,77.5 139.4,78.7 140,79.8 141.2,80.7 142.7,81.5 144.6,82.1 146.8,82.7 149.3,83.2 152,83.5 154.8,83.7 157.7,83.8 160.7,83.8 163.5,83.5 157.7,83 159.1,82.6 160.2,82.2 161.2,81.7 162,81.1 162.6,80.5 163,79.9 163.1,79.3 163,78.7 162.7,78.1 162.1,77.5 161.3,77.1 160.3,76.6 159.1,76.3 157.8,76 156.4,75.9 154.9,75.8 153.4,75.8 151.8,75.9 150.3,76.1 148.9,76.4 147.6,76.8 146.4,77.3 145.4,77.8 144.6,78.3 144,78.9 143.6,79.5 143.5,80.2 143.6,80.8 144,81.4 144.5,81.9 145.3,82.4 146.3,82.8 147.5,83.2 148.8,83.4 150.2,83.6 151.7,83.7 153.3,83.6 154.8,83.5 156.3,83.3 151.1,83 151.5,82.9 151.9,82.7 152.2,82.6 152.4,82.4 152.6,82.2 152.7,82.1 152.8,81.9 152.7,81.7 152.6,81.5 152.4,81.4 152.2,81.2 151.9,81.1 151.6,81 151.2,80.9 150.7,80.8 150.3,80.8 149.8,80.8 149.4,80.9 148.9,80.9 148.5,81 148.1,81.1 147.7,81.3 147.4,81.4 147.2,81.6 147,81.8 146.9,82 146.9,82.1 146.9,82.3 147,82.5 147.2,82.7 147.4,82.8 147.7,82.9 148.1,83 148.5,83.1 148.9,83.2 149.3,83.2 149.8,83.2 150.3,83.1 150.7,83.1" fill="none" stroke="none" marker-start="url(#rd)" marker-mid="url(#rd)" marker-end="url(#rd)"/>
<polyline points="242.6,243.2 255.7,239.2 267.5,237.5 277.6,235.1 285.7,228 291.7,224.4 295.3,219.6 296.6,215.6 295.5,209.7 292,206.7 286.1,200.4 278.2,198.8 268.2,195.3 256.5,191.3 243.4,189.2 229.2,184.6 214.3,184.1 198.9,184.9 183.5,184.8 168.5,186.9 154.2,188.1 141.1,192.7 129.3,196.5 119.2,198 111.1,201.2 105.1,206.4 101.5,213.4 100.2,217 101.3,219.6 104.8,225.5 110.7,230.5 118.6,232.1 128.6,234.8 140.3,238.9 153.4,241.8 167.6,244.4 182.5,243.8 197.9,245.9 213.3,245.3 228.3,243.6 239.3,207.3 252,206.1 263.3,202.5 273.1,200.4 280.9,195.5 286.6,193 290.2,185.3 291.4,182.4 290.3,178.9 286.9,173.3 281.3,169.3 273.6,164.9 264,163.8 252.8,160 240.1,155.9 226.4,147.3 212,146.7 197.1,147.3 182.3,147.6 167.8,149.9 154,156.7 141.3,162.1 130,165.2 120.2,171.1 112.4,175.7 106.6,182.7 103.1,182.3 101.9,185.9 102.9,191.3 106.3,193.2 112,197.5 119.7,196.3 129.3,198.1 140.5,199 153.2,200.8 166.9,205.5 181.3,211.7 196.2,210.8 211,211.8 225.5,209.7 235.5,176.5 247.7,173.9 258.6,173.2 267.9,165.9 275.4,163.4 280.9,158.6 284.3,153 285.5,151.1 284.5,148.5 281.2,143.3 275.8,139.9 268.4,135.1 259.2,131.4 248.4,130.7 236.3,124.7 223.2,121.9 209.3,117.7 195.1,117.2 180.9,119.6 167,122.6 153.8,127 141.6,132.2 130.7,138.1 121.4,140.1 113.9,143.6 108.4,148.9 105,152.1 103.8,156 104.8,160.9 108.1,160.5 113.5,163.3 120.9,164.4 130.1,166.2 140.9,167.1 153,170.1 166.1,173.3 180,178.3 194.2,179.3 208.4,175.3 222.3,177.3 231.2,150.7 242.8,147.8 253.2,144.8 262.1,144.4 269.2,139.5 274.5,134 277.7,131.4 278.8,126.6 277.8,121.6 274.7,119.5 269.6,115.2 262.6,111.9 253.8,106.6 243.6,108.4 232,103 219.5,98.6 206.3,95.4 192.8,95.1 179.3,95.4 166.1,101.9 153.5,102.2 141.9,108.2 131.6,113 122.7,115.9 115.6,121.9 110.3,128.5 107.1,128.6 105.9,133.5 106.9,135.4 110,136.7 115.2,138.7 122.2,138.4 131,142 141.2,145.1 152.8,146.6 165.3,149.6 178.4,153.8 191.9,153 205.5,153.2 218.7,154.5 226.5,136.8 237.5,135.4 247.2,132 255.6,129.8 262.3,125.2 267.3,122.1 270.3,116.9 271.4,112.9 270.5,109 267.6,104.9 262.7,103.5 256.1,98.1 247.8,95.6 238.1,92.4 227.3,91.7 215.5,84.8 203,84 190.3,85.7 177.5,87.2 165.1,88 153.2,91.3 142.3,96 132.5,98.8 124.2,104 117.4,106.8 112.5,113.2 109.4,115.2 108.4,117.4 109.3,118.8 112.2,125.8 117.1,127.4 123.7,128.8 131.9,128.6 141.6,133 152.5,134.1 164.3,136 176.7,139.9 189.5,140.9 202.2,140.4 214.7,140.9 221.8,130.4 232.1,126.7 241.3,123.7 249.1,120.4 255.5,118 260.1,112.4 263,107.3 264,103.3 263.1,98.9 260.4,96.2 255.8,90.2 249.6,87.8 241.8,86.1 232.7,83.3 222.5,77.6 211.4,76.4 199.8,73.9 187.8,75.7 175.8,75.5 164.1,79.7 152.9,81.9 142.7,82.7 133.5,89 125.6,93.9 119.3,98 114.6,102.2 111.8,105.3 110.8,110.6 111.6,115.4 114.4,116.3 118.9,118 125.2,120.2 132.9,120.3 142,123.4 152.2,124.3 163.3,129.6 175,128.8 187,128.4 199,129.7 210.7,129.8 217.1,118.6 226.7,114.5 235.3,115.6 242.7,110.9 248.6,106.2 253,101.1 255.6,98.4 256.6,93.6 255.8,89.4 253.2,85.1 248.9,81.8 243.1,78.6 235.8,73.7 227.3,70.5 217.8,70.9 207.4,68 196.5,65.5 185.2,68 174,67.6 163.1,71.1 152.6,71.2 143,72.9 134.4,77.1 127.1,83.8 121.1,87.4 116.8,92.3 114.1,96.8 113.2,98.1 114,105.4 116.6,105.1 120.8,109 126.6,110.1 133.9,112.8 142.4,115.9 152,117.2 162.4,117.9 173.3,120.3 184.5,121.2 195.7,121.3 206.7,122.5 211.5,110.5 220.3,109.2 228.2,106.7 234.9,103.3 240.4,99.1 244.4,95.4 246.8,91.4 247.7,86.8 246.9,83.3 244.6,79.4 240.7,76.2 235.3,71.9 228.6,69.2 220.8,66.9 212,65.1 202.5,63.8 192.5,63.1 182.2,63.4 171.9,64.3 161.9,65.9 152.3,67.7 143.5,70.8 135.6,74.3 128.8,78 123.4,81.9 119.4,85.3 116.9,89.6 116.1,93.2 116.8,96.3 119.2,99.4 123.1,101.7 128.4,103.8 135.1,106.4 142.9,108.3 151.7,109.9 161.2,111.2 171.2,112.8 181.5,112.8 191.8,112.7 201.9,111.5 204.9,104.4 212.8,102.5 219.8,100.1 225.9,97.6 230.7,94.3 234.3,90.5 236.5,86.9 237.3,83.5 236.6,79.4 234.5,75.4 231,72.9 226.2,69.9 220.3,67.6 213.2,65.2 205.4,64.1 196.9,63 187.9,61.8 178.7,62.6 169.4,62.7 160.4,63.9 151.9,66 144,68.2 136.9,70.5 130.9,74.3 126,77.7 122.4,81.5 120.2,84.8 119.4,87.6 120.1,90.6 122.2,93.9 125.7,96.5 130.5,98.8 136.5,100.7 143.5,102.7 151.3,104 159.9,105.1 168.8,106 178.1,106.1 187.3,105.8 196.3,105.3 198.3,98.4 205.2,96.7 211.5,95.1 216.8,92.5 221.1,90.1 224.3,86.3 226.2,83.7 226.9,80.3 226.3,76.4 224.5,73.4 221.4,70.7 217.1,68.6 211.9,66 205.7,64.2 198.7,62.5 191.2,61.1 183.3,61.3 175.1,61.7 167,62.4 159,63.2 151.5,64.9 144.5,67.2 138.2,69.2 132.9,72.3 128.6,74.6 125.4,77.7 123.5,81 122.8,84.5 123.4,86.7 125.3,89.3 128.4,91.7 132.6,93.8 137.9,95.9 144,97.6 151,98.3 158.5,99.5 166.5,100 174.6,99.9 182.7,100.6 190.7,99.7 190.7,92.6 196.7,91.4 201.9,89.8 206.5,87.1 210.1,84.8 212.8,82.5 214.5,79.7 215.1,76.4 214.5,73.7 213,71.8 210.3,68.4 206.7,66.5 202.3,64.3 197,63.3 191.1,62.1 184.7,61.6 178,60.1 171.1,61 164.2,61.1 157.4,62.7 151,63.8 145.1,66 139.8,67.7 135.2,69.6 131.6,72.8 128.9,74.8 127.2,77.7 126.6,80.9 127.2,82.8 128.7,84.9 131.4,86.7 135,88.6 139.4,90.3 144.7,91.6 150.6,92.9 157,93.8 163.7,93.9 170.6,93.8 177.5,94.4 184.3,93.4 183.2,89.1 188.1,88.3 192.4,86.1 196.1,84.6 199.1,81.9 201.4,80.4 202.7,77.8 203.2,75.7 202.8,73.6 201.5,71 199.3,69.2 196.4,67.2 192.7,65.8 188.4,64.9 183.5,63.6 178.3,62.9 172.7,62.4 167,63 161.3,63.2 155.8,64.5 150.5,64.9 145.6,66.8 141.3,68.7 137.5,70.1 134.5,71.8 132.3,74.8 131,76.9 130.5,79.1 130.9,81.1 132.2,82.3 134.4,84.3 137.3,85.7 141,86.7 145.3,88.2 150.2,88.8 155.4,89.9 161,90.3 166.7,90.7 172.3,89.4 177.9,89.7 174.7,87.8 178.4,87 181.7,85.6 184.5,84.2 186.8,82.1 188.5,81.3 189.5,79.7 189.8,77.9 189.5,76.2 188.5,74 186.9,72.5 184.7,71.6 181.9,70.6 178.6,69.3 174.9,68 171,68.8 166.8,67.6 162.5,68.1 158.2,67.8 154,69.1 150,69.7 146.3,71.1 143,72.2 140.2,73 137.9,74.7 136.2,76.7 135.2,78.6 134.8,80.6 135.1,81.8 136.1,83 137.8,84.2 140,85.4 142.8,86.7 146.1,87.2 149.7,87.9 153.7,88 157.9,88.2 162.2,88.9 166.5,88.9 170.7,88.4 166.2,89 168.7,88.3 171,87.3 172.9,86.6 174.4,85 175.5,84.1 176.2,82.8 176.5,81.8 176.3,80.8 175.6,79.8 174.5,78.5 173,77.7 171.1,76.6 168.9,76.1 166.4,76 163.7,75.2 160.8,75.5 157.9,75.3 155,75.4 152.2,76.4 149.4,76.3 146.9,77 144.7,78 142.8,79 141.2,80.1 140.1,81.4 139.4,82.3 139.2,83.6 139.4,84.6 140,86 141.2,86.5 142.7,87.3 144.6,88.1 146.8,88.8 149.3,88.9 152,89.9 154.8,89.5 157.7,89.7 160.7,89.6 163.5,89.3 157.7,89.1 159.1,88.6 160.2,87.9 161.2,87.4 162,86.9 162.6,86.9 163,85.6 163.1,84.8 163,84.3 162.7,83.9 162.1,83.9 161.3,82.7 160.3,82.6 159.1,82.9 157.8,81.8 156.4,82.2 154.9,82.1 153.4,81.9 151.8,81.4 150.3,82.1 148.9,82.3 147.6,82.2 146.4,82.7 145.4,83.7 144.6,84.3 144,85.2 143.6,85.7 143.5,85.9 143.6,86.6 144,87.2 144.5,87.5 145.3,88.5 146.3,88.7 147.5,88.8 148.8,89.1 150.2,89.2 151.7,89.4 153.3,89.6 154.8,89.3 156.3,89.5 151.1,89.4 151.5,88.6 151.9,88.7 152.2,88.4 152.4,88.8 152.6,88.3 152.7,88.1 152.8,88 152.7,88.3 152.6,87.5 152.4,87 152.2,87 151.9,87.2 151.6,86.9 151.2,86.6 150.7,87.6 150.3,86.8 149.8,86.6 149.4,86.6 148.9,86.3 148.5,86.6 148.1,86.9 147.7,87.1 147.4,87.1 147.2,87.7 147,87.7 146.9,87.6 146.9,87.5 146.9,88.3 147,88.4 147.2,88.5 147.4,88.3 147.7,88.8 148.1,88.5 148.5,89.3 148.9,89.1 149.3,89.2 149.8,88.9 150.3,88.7 150.7,89.4 242.6,237.7 255.7,237 267.5,231.1 277.6,231.1 285.7,225 291.7,222.9 295.3,214.8 296.6,212.6 295.5,208 292,202.7 286.1,197.9 278.2,196.8 268.2,191.4 256.5,190.3 243.4,185 229.2,182.7 214.3,181.1 198.9,181.3 183.5,182 168.5,184.2 154.2,185.2 141.1,187.2 129.3,195.2 119.2,196.8 111.1,201 105.1,205.7 101.5,211 100.2,214.7 101.3,219.8 104.8,221.4 110.7,225.9 118.6,229.2 128.6,232.2 140.3,234.8 153.4,239.4 167.6,238.8 182.5,241.3 197.9,243.4 213.3,241.2 228.3,239.5 239.3,200 252,197.7 263.3,192 273.1,189.2 280.9,187.1 286.6,183.3 290.2,178.8 291.4,174.2 290.3,171.4 286.9,164.3 281.3,161.1 273.6,157.7 264,151.6 252.8,150.8 240.1,146.9 226.4,140.5 212,138.3 197.1,138.9 182.3,139.9 167.8,144 154,145.5 141.3,151.8 130,159.4 120.2,162.9 112.4,166.6 106.6,172.8 103.1,174.2 101.9,178.2 102.9,183.5 106.3,185.6 112,188.4 119.7,187.8 129.3,188.7 140.5,187.3 153.2,192.4 166.9,199.4 181.3,201.7 196.2,201.9 211,203.5 225.5,202 235.5,173.2 247.7,170.7 258.6,168.8 267.9,166.4 275.4,160.2 280.9,157.8 284.3,154 285.5,150.6 284.5,145.1 281.2,139.2 275.8,138.2 268.4,132.3 259.2,128.1 248.4,127.2 236.3,122.6 223.2,119.1 209.3,113.9 195.1,114.1 180.9,116.2 167,121.4 153.8,124.7 141.6,128.3 130.7,131 121.4,138.3 113.9,141.4 108.4,149 105,151.3 103.8,154.5 104.8,157.5 108.1,161.4 113.5,160.2 120.9,161.3 130.1,163.7 140.9,166.2 153,166.3 166.1,171.5 180,177.1 194.2,174.8 208.4,175.3 222.3,175.5 231.2,148.7 242.8,148.5 253.2,147.5 262.1,143.2 269.2,140.5 274.5,136.7 277.7,131.1 278.8,128.1 277.8,123.2 274.7,116.9 269.6,114.4 262.6,110.6 253.8,108.3 243.6,105.6 232,100.9 219.5,99.2 206.3,94.4 192.8,97.6 179.3,97.6 166.1,101.2 153.5,104.4 141.9,107.4 131.6,111.1 122.7,117.8 115.6,121.4 110.3,126.1 107.1,129 105.9,133.4 106.9,135.4 110,139.4 115.2,139.2 122.2,140.3 131,142.7 141.2,144.8 152.8,147.4 165.3,146.8 178.4,154 191.9,152.3 205.5,152.7 218.7,153.2 226.5,137.3 237.5,133 247.2,129.3 255.6,129.1 262.3,125.2 267.3,119.5 270.3,116.3 271.4,109.6 270.5,108.2 267.6,103.1 262.7,101.7 256.1,93.8 247.8,95 238.1,93.3 227.3,88.7 215.5,86 203,80 190.3,82.6 177.5,84.2 165.1,85.5 153.2,87.8 142.3,93.6 132.5,96.9 124.2,101.3 117.4,106.2 112.5,110.7 109.4,113.7 108.4,118.4 109.3,118.4 112.2,124.8 117.1,123.5 123.7,126.1 131.9,128.8 141.6,130.7 152.5,132.8 164.3,134 176.7,136.7 189.5,138.6 202.2,137.2 214.7,138.2 221.8,125.2 232.1,125.1 241.3,120 249.1,117.5 255.5,114.3 260.1,107.9 263,104.1 264,103.5 263.1,95.3 260.4,93.4 255.8,86.7 249.6,81.5 241.8,82.1 232.7,79 222.5,77 211.4,73.4 199.8,71.6 187.8,70.4 175.8,74.7 164.1,73.8 152.9,80.2 142.7,81.6 133.5,84.9 125.6,89.2 119.3,95.8 114.6,100.2 111.8,104.1 110.8,106.8 111.6,107.9 114.4,114.7 118.9,114.2 125.2,115.9 132.9,118.3 142,120.2 152.2,120.7 163.3,124.6 175,126 187,127.5 199,125.7 210.7,129.2 217.1,116.3 226.7,116.2 235.3,113.8 242.7,111.4 248.6,107.4 253,101.5 255.6,97.5 256.6,92 255.8,89.8 253.2,81.9 248.9,79.3 243.1,77 235.8,73.8 227.3,70.7 217.8,70.4 207.4,66.9 196.5,65.6 185.2,66.1 174,68.2 163.1,69.6 152.6,72.7 143,74.4 134.4,76.6 127.1,82.1 121.1,87.4 116.8,93.7 114.1,97.1 113.2,101.6 114,101.4 116.6,106.7 120.8,107.8 126.6,111.2 133.9,113.3 142.4,113 152,117.6 162.4,118.6 173.3,120 184.5,119.4 195.7,121.3 206.7,119.9 211.5,110.5 220.3,108.4 228.2,106.6 234.9,103.5 240.4,99.5 244.4,95.1 246.8,91.1 247.7,87.2 246.9,83.1 244.6,79.3 240.7,75.8 235.3,71.8 228.6,69.5 220.8,67.6 212,65.5 202.5,63.7 192.5,63 182.2,63.4 171.9,64.5 161.9,65.9 152.3,68.7 143.5,71.4 135.6,74 128.8,77.9 123.4,81.6 119.4,85.4 116.9,89.6 116.1,93.2 116.8,95.6 119.2,98.8 123.1,101.8 128.4,103.9 135.1,106.2 142.9,108.5 151.7,109.8 161.2,111.3 171.2,112.9 181.5,112.7 191.8,112.5 201.9,111.9 204.9,104.7 212.8,102.8 219.8,100.6 225.9,97.5 230.7,94.5 234.3,90.4 236.5,87.3 237.3,83.2 236.6,79.1 234.5,76.3 231,72.9 226.2,69.5 220.3,67.4 213.2,65.3 205.4,63.6 196.9,62.3 187.9,62.9 178.7,62.6 169.4,63.3 160.4,64.6 151.9,66.4 144,68.7 136.9,71 130.9,74.5 126,77.5 122.4,81 120.2,85 119.4,88 120.1,90.4 122.2,93.5 125.7,96.4 130.5,98.7 136.5,101.1 143.5,102.5 151.3,103.8 159.9,105.4 168.8,105.9 178.1,105.8 187.3,106 196.3,105.2 198.3,98.8 205.2,97.5 211.5,95.4 216.8,91.9 221.1,89.7 224.3,86.6 226.2,83.3 226.9,79.9 226.3,76.5 224.5,73.5 221.4,70.1 217.1,68.1 211.9,65.4 205.7,64 198.7,62.5 191.2,62.2 183.3,61.4 175.1,61.5 167,62.2 159,63.8 151.5,64.5 144.5,66.9 138.2,69.3 132.9,72 128.6,75 125.4,77.9 123.5,81.7 122.8,84.6 123.4,86.7 125.3,89.2 128.4,91.6 132.6,93.8 137.9,95.8 144,97.2 151,98.1 158.5,99.8 166.5,99.6 174.6,100 182.7,100.2 190.7,99.2 190.7,93.1 196.7,92 201.9,90.1 206.5,87.5 210.1,84.9 212.8,82.3 214.5,79.4 215.1,77.3 214.5,73.7 213,71.7 210.3,69 206.7,66.8 202.3,65.1 197,63.6 191.1,62.3 184.7,61.2 178,60.7 171.1,60.8 164.2,61.8 157.4,62.7 151,64.1 145.1,65.4 139.8,68.2 135.2,69.5 131.6,72.5 128.9,75.3 127.2,77.7 126.6,80.3 127.2,82.6 128.7,84.4 131.4,86.6 135,88.1 139.4,89.7 144.7,91.5 150.6,92.2 157,93.4 163.7,93.9 170.6,94.3 177.5,94 184.3,93.2 183.2,89.3 188.1,87.8 192.4,86.2 196.1,84.3 199.1,83 201.4,80.2 202.7,77.7 203.2,75.8 202.8,73.3 201.5,71.9 199.3,69 196.4,67.6 192.7,65.6 188.4,65.1 183.5,63.4 178.3,63 172.7,62.4 167,63 161.3,63.4 155.8,63.3 150.5,65.3 145.6,66.7 141.3,68.2 137.5,70.3 134.5,71.8 132.3,73.8 131,76.8 130.5,79.4 130.9,80.4 132.2,82.1 134.4,83.8 137.3,85.2 141,87.1 145.3,88 150.2,89.3 155.4,90 161,89.7 166.7,90.3 172.3,89.3 177.9,89.6 174.7,88.1 178.4,86.7 181.7,85.1 184.5,84.1 186.8,83 188.5,80.9 189.5,78.9 189.8,77.7 189.5,76.1 188.5,73.9 186.9,72.7 184.7,71.7 181.9,70.3 178.6,69.4 174.9,68.4 171,67.9 166.8,67.4 162.5,67.6 158.2,68.6 154,68.6 150,69.3 146.3,70.5 143,71.6 140.2,73.5 137.9,75.2 136.2,76.3 135.2,78.6 134.8,80.7 135.1,81.4 136.1,83.2 137.8,84.3 140,85.8 142.8,86.7 146.1,87.5 149.7,88 153.7,88.3 157.9,89.4 162.2,88.6 166.5,89.1 170.7,88.7 166.2,88.6 168.7,88.1 171,87.7 172.9,85.7 174.4,85.5 175.5,84 176.2,82.9 176.5,81.3 176.3,80.7 175.6,79.2 174.5,78.7 173,77.2 171.1,76.9 168.9,76.2 166.4,75 163.7,75.1 160.8,75.1 157.9,74.5 155,75.3 152.2,76 149.4,76.1 146.9,77.4 144.7,77.6 142.8,78.5 141.2,80.1 140.1,81.3 139.4,82.2 139.2,83.4 139.4,84.9 140,85.5 141.2,87.2 142.7,87.5 144.6,88.2 146.8,88.7 149.3,89 152,89.8 154.8,89.5 157.7,89.8 160.7,89.8 163.5,89.8 157.7,89.3 159.1,88.4 160.2,88.4 161.2,87.5 162,86.7 162.6,86.1 163,85.3 163.1,85.3 163,84.9 162.7,83.7 162.1,83.4 161.3,82.6 160.3,82.5 159.1,81.8 157.8,81.7 156.4,81.5 154.9,81.5 153.4,81.6 151.8,81.8 150.3,82 148.9,82 147.6,82.9 146.4,82.7 145.4,83.7 144.6,84 144,84.9 143.6,85.5 143.5,85.5 143.6,86.8 144,87.6 144.5,88 145.3,88.4 146.3,88.1 147.5,89 148.8,89 150.2,89.8 151.7,89.5 153.3,89.3 154.8,88.9 156.3,89.4 151.1,88.7 151.5,88.7 151.9,88.9 152.2,88.5 152.4,88.4 152.6,88.8 152.7,87.8 152.8,87.6 152.7,87.7 152.6,87.8 152.4,86.8 152.2,87 151.9,86.7 151.6,86.5 151.2,87 150.7,86.5 150.3,86.8 149.8,86.8 149.4,86.8 148.9,86.8 148.5,86.6 148.1,87 147.7,87.2 147.4,87.4 147.2,87.4 147,87.9 146.9,88 146.9,88.1 146.9,88.4 147,88.4 147.2,88.7 147.4,88.1 147.7,88.4 148.1,88.8 148.5,89 148.9,88.4 149.3,89 149.8,89.1 150.3,89 150.7,88.9 242.6,239.4 255.7,236.6 267.5,231.7 277.6,226.8 285.7,226.8 291.7,220.7 295.3,216.1 296.6,212.2 295.5,207.3 292,203.2 286.1,197.1 278.2,193.6 268.2,191 256.5,187.3 243.4,184.1 229.2,182.4 214.3,180.9 198.9,179.6 183.5,180.6 168.5,183.1 154.2,186.6 141.1,189.2 129.3,193.5 119.2,196.6 111.1,200.5 105.1,208.5 101.5,210 100.2,213.2 101.3,218.3 104.8,224 110.7,224.5 118.6,230.1 128.6,233.9 140.3,236 153.4,237.5 167.6,239 182.5,240.7 197.9,241.7 213.3,244 228.3,241.7 239.3,210.3 252,207.1 263.3,206.6 273.1,200.7 280.9,196 286.6,192.6 290.2,187.9 291.4,185.2 290.3,180.6 286.9,175.2 281.3,169.1 273.6,165.7 264,163.7 252.8,158.9 240.1,156.9 226.4,150.4 212,148.6 197.1,149.3 182.3,149.6 167.8,154.3 154,159 141.3,164.8 130,167.6 120.2,173.2 112.4,177.8 106.6,183.7 103.1,184.5 101.9,189.8 102.9,194.2 106.3,194.2 112,194.9 119.7,197.3 129.3,200.6 140.5,201.4 153.2,202.9 166.9,206.5 181.3,209.4 196.2,214.6 211,210.6 225.5,211.8 235.5,177.6 247.7,177.1 258.6,172.6 267.9,171.7 275.4,168.6 280.9,164.9 284.3,160.2 285.5,155.6 284.5,148.6 281.2,144.5 275.8,141.8 268.4,139.7 259.2,135.5 248.4,132.7 236.3,127 223.2,123.5 209.3,120.7 195.1,121.1 180.9,124.7 167,126.3 153.8,131.7 141.6,134.4 130.7,139.2 121.4,145.6 113.9,149.7 108.4,152.7 105,158.3 103.8,161.6 104.8,164.6 108.1,166.5 113.5,168 120.9,167.8 130.1,167.1 140.9,173.1 153,173.1 166.1,175.6 180,180.7 194.2,182.4 208.4,182.7 222.3,180 231.2,154.8 242.8,152.1 253.2,149.5 262.1,146.1 269.2,142.8 274.5,137.8 277.7,135.1 278.8,130.7 277.8,126.4 274.7,123.6 269.6,119.3 262.6,116 253.8,111.8 243.6,109.9 232,107.8 219.5,101 206.3,98.7 192.8,101.4 179.3,98.9 166.1,103.1 153.5,107.6 141.9,110.2 131.6,115.4 122.7,120.5 115.6,121.7 110.3,130.2 107.1,132.4 105.9,134.2 106.9,139.8 110,141 115.2,141.7 122.2,141.2 131,145.6 141.2,147.1 152.8,147.7 165.3,152.2 178.4,156.7 191.9,156.7 205.5,156.7 218.7,155 226.5,135.6 237.5,134.2 247.2,131.7 255.6,129.1 262.3,126.9 267.3,121.7 270.3,117.1 271.4,114.4 270.5,108.6 267.6,106 262.7,99.6 256.1,95.6 247.8,95.8 238.1,92.2 227.3,89.6 215.5,84.7 203,84.1 190.3,83.9 177.5,84.8 165.1,87.4 153.2,92.1 142.3,93.5 132.5,99.6 124.2,102.2 117.4,107.2 112.5,111.2 109.4,115.6 108.4,117.4 109.3,122.8 112.2,123.3 117.1,126.2 123.7,127.5 131.9,129.4 141.6,130.5 152.5,136.4 164.3,135.7 176.7,140.8 189.5,138.5 202.2,141.9 214.7,140.1 221.8,127.7 232.1,121.6 241.3,122.6 249.1,117.5 255.5,114 260.1,111.5 263,105.6 264,99.7 263.1,95.8 260.4,91 255.8,88 249.6,84 241.8,81.3 232.7,78.7 222.5,73.6 211.4,73.3 199.8,72.1 187.8,73 175.8,74.1 164.1,73.9 152.9,80.1 142.7,83.1 133.5,86.8 125.6,91.3 119.3,92.4 114.6,102.4 111.8,102.8 110.8,106.4 111.6,111.1 114.4,113.4 118.9,114.1 125.2,115.6 132.9,120.1 142,122.9 152.2,122.2 163.3,123.4 175,127.2 187,130.6 199,126.1 210.7,126.8 217.1,116 226.7,115.6 235.3,114.2 242.7,110.3 248.6,103.6 253,99.8 255.6,99.6 256.6,93.2 255.8,85.3 253.2,84.4 248.9,82 243.1,76.5 235.8,73.5 227.3,70.7 217.8,68.7 207.4,66.9 196.5,66.3 185.2,65.3 174,68.1 163.1,69.2 152.6,71.9 143,72.5 134.4,77.9 127.1,83 121.1,86.6 116.8,91.2 114.1,94.9 113.2,98.9 114,100.5 116.6,103.5 120.8,108.1 126.6,111.1 133.9,111.9 142.4,114.3 152,116.5 162.4,119.8 173.3,121.3 184.5,119.7 195.7,118.5 206.7,117.9 211.5,110.5 220.3,109.5 228.2,107 234.9,103 240.4,99.1 244.4,95.4 246.8,91.1 247.7,87.3 246.9,83.3 244.6,79.4 240.7,75.3 235.3,72.3 228.6,69.6 220.8,67.3 212,65.2 202.5,63.8 192.5,63.5 182.2,62.8 171.9,64.2 161.9,65.9 152.3,67.7 143.5,70.7 135.6,74.3 128.8,77.6 123.4,82 119.4,86 116.9,90.4 116.1,92.8 116.8,96.8 119.2,98.8 123.1,101.9 128.4,104.4 135.1,106.3 142.9,108.1 151.7,109.7 161.2,110.7 171.2,112.2 181.5,112.4 191.8,112.6 201.9,111.5 204.9,104.1 212.8,102.8 219.8,100.6 225.9,97.5 230.7,94.1 234.3,90.5 236.5,87 237.3,83.4 236.6,79.3 234.5,76.5 231,73 226.2,69.4 220.3,68.1 213.2,65.5 205.4,63.5 196.9,63.1 187.9,61.4 178.7,63.1 169.4,62.6 160.4,63.9 151.9,65.8 144,68.5 136.9,71 130.9,74.5 126,77.3 122.4,81.5 120.2,84.9 119.4,87.8 120.1,91.2 122.2,93.7 125.7,96.2 130.5,99 136.5,100.5 143.5,102.5 151.3,104.6 159.9,105.2 168.8,106.1 178.1,106.3 187.3,105.9 196.3,105.4 198.3,98.2 205.2,97.4 211.5,95 216.8,92.5 221.1,89.3 224.3,86.6 226.2,83.3 226.9,80.2 226.3,76.5 224.5,73.3 221.4,70.1 217.1,67.7 211.9,65.8 205.7,64.1 198.7,62.5 191.2,61.8 183.3,60.9 175.1,61.2 167,62.3 159,63.4 151.5,64.4 144.5,66.7 138.2,69.3 132.9,71.6 128.6,75 125.4,78.1 123.5,81.5 122.8,84.9 123.4,86.6 125.3,89.6 128.4,91.7 132.6,93.9 137.9,95.3 144,97.2 151,98.5 158.5,99.9 166.5,100.1 174.6,100.7 182.7,100 190.7,99.4 190.7,92.6 196.7,90.9 201.9,89.5 206.5,87.2 210.1,84.8 212.8,82.2 214.5,79.1 215.1,76.3 214.5,74.3 213,71 210.3,68.7 206.7,66.4 202.3,64.6 197,63.5 191.1,62.3 184.7,60.7 178,60.8 171.1,61.4 164.2,61.4 157.4,62.6 151,64.4 145.1,66.2 139.8,68 135.2,69.8 131.6,72.4 128.9,75.2 127.2,77.8 126.6,80.4 127.2,83.3 128.7,84.8 131.4,86.9 135,88.9 139.4,90.3 144.7,91.5 150.6,92.7 157,93.8 163.7,94 170.6,93.5 177.5,94.2 184.3,93.9 183.2,88.9 188.1,87.8 192.4,86.2 196.1,84.8 199.1,82.1 201.4,80.4 202.7,78.2 203.2,75.8 202.8,73.4 201.5,71 199.3,69 196.4,67.4 192.7,65.5 188.4,64.5 183.5,63.3 178.3,63.3 172.7,63.1 167,62.5 161.3,63.6 155.8,64 150.5,65.1 145.6,66.6 141.3,68.3 137.5,69.6 134.5,72.9 132.3,74.1 131,75.9 130.5,78.9 130.9,80.8 132.2,82.2 134.4,83.5 137.3,85.9 141,86.8 145.3,88 150.2,88.7 155.4,89.5 161,89.8 166.7,90.3 172.3,90 177.9,89.8 174.7,88.1 178.4,87 181.7,85.7 184.5,84.6 186.8,82.2 188.5,81 189.5,79.7 189.8,77.2 189.5,76.1 188.5,74.1 186.9,72.7 184.7,71.3 181.9,70.1 178.6,69.4 174.9,68.4 171,67.4 166.8,68.4 162.5,67.8 158.2,68 154,69.1 150,70 146.3,70 143,72 140.2,72.7 137.9,74.8 136.2,76.6 135.2,78.2 134.8,79.9 135.1,81.4 136.1,82.9 137.8,84.2 140,85.3 142.8,85.9 146.1,87 149.7,88.2 153.7,88.6 157.9,88.6 162.2,89 166.5,88.8 170.7,88.7 166.2,88.9 168.7,88 171,87 172.9,86.3 174.4,84.6 175.5,84.1 176.2,82 176.5,81.4 176.3,80.4 175.6,79.6 174.5,79.3 173,77.6 171.1,76.7 168.9,75.5 166.4,76 163.7,74.7 160.8,75.2 157.9,74.9 155,76.1 152.2,75.7 149.4,76.4 146.9,76.9 144.7,77.9 142.8,79.2 141.2,79.7 140.1,80.9 139.4,82.1 139.2,83.1 139.4,84.3 140,85.7 141.2,87 142.7,87.8 144.6,87.6 146.8,88.4 149.3,89.1 152,89.6 154.8,89.6 157.7,89.7 160.7,89.8 163.5,89.6 157.7,88.3 159.1,88.5 160.2,88.3 161.2,88 162,87.2 162.6,86.2 163,85.6 163.1,85.2 163,84.6 162.7,84.1 162.1,83.8 161.3,82.6 160.3,82.4 159.1,81.5 157.8,82.2 156.4,81.8 154.9,81.4 153.4,81.8 151.8,82.2 150.3,82.3 148.9,82.3 147.6,82.6 146.4,83.2 145.4,83.4 144.6,83.9 144,84.7 143.6,85.4 143.5,86.1 143.6,86.5 144,87 144.5,87.8 145.3,88.2 146.3,88.8 147.5,89.5 148.8,89.6 150.2,89.3 151.7,89.4 153.3,89.1 154.8,89.4 156.3,89 151.1,88.5 151.5,88.5 151.9,88.8 152.2,88.5 152.4,88.3 152.6,88.4 152.7,87.8 152.8,87.5 152.7,87.7 152.6,86.8 152.4,87.3 152.2,87.2 151.9,87.1 151.6,87.1 151.2,86.7 150.7,86.7 150.3,86.2 149.8,86.6 149.4,86.6 148.9,86.9 148.5,87.3 148.1,87.1 147.7,87.4 147.4,87 147.2,87.5 147,87.2 146.9,87.6 146.9,87.8 146.9,88.2 147,88.3 147.2,88.4 147.4,88.4 147.7,89 148.1,88.8 148.5,88.2 148.9,89.1 149.3,89.2 149.8,89.3 150.3,89.5 150.7,88.6 242.6,242.4 255.7,239 267.5,235.3 277.6,232.8 285.7,229.1 291.7,224.8 295.3,219 296.6,217.9 295.5,210.1 292,207.7 286.1,203.9 278.2,198.2 268.2,195.3 256.5,191 243.4,186.8 229.2,188.5 214.3,184.1 198.9,181 183.5,183 168.5,184.6 154.2,188.2 141.1,193.6 129.3,197 119.2,198.6 111.1,203.2 105.1,209.8 101.5,213.2 100.2,216.7 101.3,223.7 104.8,225.9 110.7,226.7 118.6,229.2 128.6,235 140.3,235.2 153.4,241 167.6,243.6 182.5,247.2 197.9,244.3 213.3,245.6 228.3,240.7 239.3,202.6 252,200.7 263.3,199.7 273.1,191.9 280.9,190.8 286.6,186 290.2,184.5 291.4,176.3 290.3,171.8 286.9,169.1 281.3,163.5 273.6,160.2 264,155.2 252.8,154.1 240.1,148.4 226.4,145.4 212,143.2 197.1,142.7 182.3,147.3 167.8,147.9 154,150.6 141.3,155.4 130,162.6 120.2,165.8 112.4,173.9 106.6,177.4 103.1,179.6 101.9,182.1 102.9,187.5 106.3,187.5 112,188.2 119.7,192.1 129.3,191.4 140.5,196.5 153.2,199.7 166.9,199.4 181.3,204.8 196.2,206 211,206.1 225.5,205.3 235.5,171.4 247.7,168.5 258.6,167.4 267.9,165.8 275.4,159.2 280.9,155.9 284.3,151.8 285.5,147.7 284.5,140.6 281.2,139.8 275.8,134.6 268.4,134.3 259.2,129.4 248.4,126.9 236.3,121.5 223.2,116.8 209.3,115.4 195.1,112.3 180.9,116.6 167,120 153.8,122.9 141.6,129 130.7,132.6 121.4,136.9 113.9,142.6 108.4,146 105,150.6 103.8,153.3 104.8,158.1 108.1,161 113.5,161.3 120.9,161.7 130.1,163.1 140.9,162.8 153,169.2 166.1,171.3 180,176.9 194.2,173.8 208.4,175.7 222.3,175.2 231.2,150.8 242.8,146.1 253.2,144.3 262.1,141 269.2,140 274.5,132.2 277.7,128.8 278.8,124.9 277.8,120 274.7,117.8 269.6,113.3 262.6,108.9 253.8,106.4 243.6,104.9 232,101.2 219.5,97.3 206.3,94 192.8,92.9 179.3,95.4 166.1,95.9 153.5,103.6 141.9,106.4 131.6,108.9 122.7,115.4 115.6,120.4 110.3,122.9 107.1,126.5 105.9,131.3 106.9,132.5 110,137.1 115.2,139.3 122.2,138.7 131,140.4 141.2,142.7 152.8,144.5 165.3,147.8 178.4,150.7 191.9,151.7 205.5,150.8 218.7,151 226.5,138.2 237.5,136.1 247.2,132.9 255.6,126.9 262.3,124.5 267.3,122.5 270.3,116.3 271.4,115 270.5,107.8 267.6,105.3 262.7,100.3 256.1,96.7 247.8,95 238.1,91.7 227.3,91 215.5,86 203,83 190.3,78.9 177.5,84 165.1,87.1 153.2,92.3 142.3,93.7 132.5,100.7 124.2,103.5 117.4,106.4 112.5,113 109.4,112.8 108.4,116.9 109.3,122.1 112.2,124.9 117.1,127.8 123.7,129.4 131.9,128.7 141.6,130.3 152.5,132.8 164.3,135.4 176.7,139 189.5,139.1 202.2,140.9 214.7,138.3 221.8,126.8 232.1,125.2 241.3,124.5 249.1,120.8 255.5,115 260.1,110.3 263,109 264,104.2 263.1,98.9 260.4,93.4 255.8,92.3 249.6,86.6 241.8,84.1 232.7,78.7 222.5,78.7 211.4,76.7 199.8,75.6 187.8,73.7 175.8,75.6 164.1,80 152.9,81.4 142.7,86.7 133.5,90.2 125.6,94.9 119.3,100.1 114.6,103.2 111.8,107 110.8,108.9 111.6,112.2 114.4,116.3 118.9,119.3 125.2,119.5 132.9,124.2 142,126.4 152.2,124.8 163.3,126.8 175,129.6 187,131.1 199,132.3 210.7,130.8 217.1,118.2 226.7,117.9 235.3,115.1 242.7,112.9 248.6,107.8 253,100.8 255.6,97.2 256.6,94.6 255.8,90.2 253.2,85.7 248.9,79.9 243.1,78.5 235.8,74.1 227.3,73.4 217.8,70.7 207.4,66.9 196.5,65.2 185.2,68.6 174,69.2 163.1,69.1 152.6,73.3 143,76.4 134.4,79.2 127.1,82.9 121.1,86.2 116.8,91.5 114.1,97.6 113.2,100.3 114,103.4 116.6,108.3 120.8,110.1 126.6,110.1 133.9,115.4 142.4,114 152,116.7 162.4,119.5 173.3,119.8 184.5,120.7 195.7,119.2 206.7,120.7 211.5,110.3 220.3,108.8 228.2,106.4 234.9,103.3 240.4,99.9 244.4,95 246.8,91.4 247.7,86.8 246.9,83 244.6,79.1 240.7,75.1 235.3,72.3 228.6,69.1 220.8,67.6 212,65.1 202.5,63.9 192.5,63.2 182.2,63.3 171.9,64.1 161.9,65.4 152.3,68.7 143.5,71 135.6,74.4 128.8,77.5 123.4,81.8 119.4,85.7 116.9,89.9 116.1,93 116.8,95.9 119.2,99.2 123.1,101.7 128.4,104.5 135.1,106.2 142.9,108 151.7,110 161.2,110.9 171.2,112.9 181.5,113.2 191.8,112.9 201.9,111.9 204.9,104.2 212.8,102.7 219.8,100.6 225.9,97.3 230.7,94.3 234.3,90.9 236.5,87.3 237.3,82.6 236.6,80.2 234.5,76.1 231,72.4 226.2,69.7 220.3,67.6 213.2,65.3 205.4,63.4 196.9,62.3 187.9,62.5 178.7,62.1 169.4,63 160.4,64 151.9,65.7 144,68.5 136.9,71.5 130.9,74.1 126,77 122.4,80.9 120.2,84.7 119.4,87.4 120.1,91.2 122.2,93.4 125.7,96.4 130.5,98.6 136.5,100.8 143.5,102.2 151.3,104.4 159.9,105.4 168.8,106.3 178.1,105.9 187.3,106 196.3,105.1 198.3,98.8 205.2,97.3 211.5,94.9 216.8,92.6 221.1,89.4 224.3,86.3 226.2,83.3 226.9,80.3 226.3,76.4 224.5,73.5 221.4,70.4 217.1,68.7 211.9,66.4 205.7,64.7 198.7,62.9 191.2,61.4 183.3,61.2 175.1,61.5 167,62 159,63 151.5,64.9 144.5,66.7 138.2,69.2 132.9,72.6 128.6,75 125.4,77.7 123.5,81.4 122.8,84.4 123.4,87 125.3,89.4 128.4,91.2 132.6,93.7 137.9,95.9 144,98.1 151,98.7 158.5,100 166.5,100.6 174.6,100 182.7,99.8 190.7,100 190.7,92.4 196.7,91.4 201.9,89.9 206.5,87.2 210.1,85.3 212.8,82.5 214.5,79.8 215.1,76.9 214.5,73.6 213,71.7 210.3,69.2 206.7,66.9 202.3,64.7 197,63.3 191.1,61.7 184.7,61.4 178,61.3 171.1,61.1 164.2,61.5 157.4,62.7 151,63.7 145.1,65 139.8,67.7 135.2,69.9 131.6,72 128.9,75.3 127.2,78.1 126.6,80.9 127.2,82.6 128.7,84.6 131.4,86.7 135,88.5 139.4,89.7 144.7,91.2 150.6,93 157,93.4 163.7,93.9 170.6,93.9 177.5,94 184.3,93.6 183.2,89.1 188.1,88.5 192.4,86.3 196.1,84.6 199.1,82.2 201.4,80.5 202.7,78 203.2,75.9 202.8,73.7 201.5,71 199.3,69.3 196.4,67.3 192.7,66.2 188.4,64.5 183.5,64.1 178.3,63.1 172.7,62.8 167,62.6 161.3,63.1 155.8,64 150.5,64.8 145.6,66.4 141.3,68 137.5,69.8 134.5,72.2 132.3,74.4 131,76.5 130.5,79 130.9,80.7 132.2,82.1 134.4,83.8 137.3,85.7 141,87.3 145.3,88 150.2,89 155.4,89.3 161,90.1 166.7,90.2 172.3,89.8 177.9,89.7 174.7,88 178.4,86.5 181.7,85.3 184.5,84.1 186.8,82.6 188.5,81.3 189.5,79.1 189.8,77.5 189.5,75.8 188.5,74.4 186.9,72.7 184.7,71.4 181.9,70.1 178.6,68.8 174.9,68.4 171,68.5 166.8,68.1 162.5,68.3 158.2,68.4 154,68.6 150,69.5 146.3,70.8 143,71.9 140.2,73.6 137.9,75.4 136.2,77 135.2,78.6 134.8,79.6 135.1,82.1 136.1,82.7 137.8,83.8 140,85.4 142.8,86.4 146.1,87.4 149.7,87.9 153.7,88.2 157.9,88.7 162.2,88.5 166.5,88.4 170.7,88.3 166.2,88.8 168.7,88.1 171,87.2 172.9,86.6 174.4,85.1 175.5,84 176.2,83.2 176.5,81.1 176.3,80.9 175.6,79.7 174.5,78.4 173,78.1 171.1,77 168.9,76.5 166.4,75.9 163.7,75.3 160.8,75 157.9,74.8 155,75.1 152.2,75.4 149.4,76.2 146.9,77.2 144.7,77.6 142.8,79 141.2,80.2 140.1,80.7 139.4,82 139.2,83.4 139.4,84.4 140,85.4 141.2,87 142.7,87.4 144.6,88.4 146.8,88.6 149.3,89.3 152,89.1 154.8,89.5 157.7,90 160.7,89.7 163.5,89.8 157.7,88.9 159.1,88.4 160.2,88 161.2,88.2 162,87.1 162.6,86.3 163,85.7 163.1,84.9 163,85 162.7,83.9 162.1,83.7 161.3,82.9 160.3,82.4 159.1,82 157.8,82.1 156.4,81.7 154.9,82 153.4,82.1 151.8,81.7 150.3,82.1 148.9,82.8 147.6,83 146.4,83.2 145.4,83.2 144.6,84 144,84.6 143.6,86 143.5,86.1 143.6,86.6 144,87.2 144.5,87.7 145.3,88.4 146.3,88.2 147.5,88.6 148.8,89.4 150.2,89.8 151.7,89 153.3,89.7 154.8,89.1 156.3,88.7 151.1,89.2 151.5,88.7 151.9,88.8 152.2,88.4 152.4,88.2 152.6,87.6 152.7,87.8 152.8,87.8 152.7,87.3 152.6,87.5 152.4,87.4 152.2,86.5 151.9,87.2 151.6,87 151.2,86.8 150.7,87.1 150.3,87.4 149.8,86.4 149.4,87 148.9,87 148.5,87.1 148.1,87.3 147.7,87.5 147.4,87.3 147.2,86.8 147,87.5 146.9,87.7 146.9,88.5 146.9,88.3 147,88.8 147.2,88.4 147.4,88.8 147.7,88.8 148.1,89 148.5,89.2 148.9,89.5 149.3,88.9 149.8,89.5 150.3,89.4 150.7,89.1" fill="none" stroke="none" marker-start="url(#gs)" marker-mid="url(#gs)" marker-end="url(#gs)"/>
<polyline points="154.4,84.1 155.7,83.3 155.1,82.4 152.9,81.7 149.9,81.6 147.2,82.1 145.9,82.9 146.5,83.8 148.7,84.4 151.7,84.6 162.3,84.2 162.9,82.4 159.8,80.8 154.2,80.1 148.3,80.5 144.3,81.9 143.7,83.7 146.9,85.3 152.4,86 158.4,85.6 170.5,83.3 168.2,80.6 161.1,78.9 152,78.7 144.4,80.2 141.1,82.8 143.4,85.5 150.5,87.2 159.6,87.4 167.3,85.9 177.1,81.3 170.2,78.2 158.7,77 147.1,78.1 139.8,81.1 139.5,84.8 146.5,87.8 158,89 169.6,87.9 176.9,85 180.5,78.5 168,75.8 152.8,75.9 140.7,78.7 136.3,83.1 141.2,87.5 153.6,90.2 168.8,90.1 180.9,87.3 185.4,82.9" fill="none" stroke="none" marker-start="url(#rd)" marker-mid="url(#rd)" marker-end="url(#rd)"/>
<polyline points="589.5,167.3 603.2,164.8 615.5,161.7 626.2,158 635,153.8 641.7,149.2 646,144.4 648,139.3 647.5,134.3 644.5,129.3 639.2,124.5 631.7,120.1 622.1,116.1 610.6,112.6 597.7,109.8 583.5,107.6 568.5,106.2 553,105.6 537.3,105.8 522,106.7 507.2,108.5 493.5,110.9 481.2,114 470.5,117.7 461.7,121.9 455,126.5 450.7,131.4 448.7,136.4 449.2,141.5 452.2,146.5 457.5,151.2 465,155.7 474.6,159.7 486.1,163.1 499,166 513.2,168.1 528.2,169.5 543.7,170.1 559.4,170 574.7,169 586.2,158.1 599.5,155.8 611.4,152.8 621.7,149.2 630.2,145.1 636.6,140.7 640.8,136 642.7,131.2 642.2,126.3 639.4,121.5 634.2,116.9 627,112.6 617.7,108.7 606.7,105.4 594.2,102.7 580.5,100.6 566,99.2 551,98.6 535.9,98.8 521.1,99.7 506.9,101.4 493.7,103.7 481.8,106.8 471.4,110.3 463,114.4 456.5,118.8 452.3,123.5 450.5,128.4 450.9,133.2 453.8,138 458.9,142.6 466.2,146.9 475.5,150.8 486.5,154.1 499,156.9 512.6,158.9 527.1,160.3 542.1,160.9 557.2,160.7 572,159.8 582.6,148.8 595.2,146.6 606.7,143.7 616.6,140.3 624.7,136.4 630.9,132.1 634.9,127.6 636.7,123 636.2,118.3 633.5,113.7 628.6,109.3 621.6,105.2 612.7,101.5 602.2,98.3 590.2,95.7 577.1,93.7 563.2,92.4 548.8,91.8 534.4,92 520.1,92.8 506.5,94.4 493.9,96.7 482.4,99.6 472.5,103 464.4,106.9 458.2,111.1 454.2,115.6 452.4,120.3 452.9,125 455.6,129.6 460.5,134 467.5,138.1 476.4,141.8 486.9,145 498.9,147.6 512,149.6 525.9,150.9 540.3,151.5 554.7,151.3 569,150.4 578.4,140.3 590.5,138.1 601.4,135.3 610.8,132 618.5,128.3 624.4,124.3 628.2,120 629.9,115.6 629.5,111.1 626.9,106.8 622.2,102.6 615.6,98.8 607.1,95.3 597.1,92.3 585.7,89.9 573.2,88.1 560,86.9 546.3,86.4 532.6,86.6 519.1,87.5 506.1,89.1 494,91.3 483.2,94.1 473.7,97.4 466,101.1 460.2,105.1 456.3,109.4 454.6,113.8 455.1,118.3 457.6,122.6 462.3,126.8 469,130.6 477.4,134.1 487.5,137.1 498.9,139.5 511.3,141.3 524.5,142.5 538.2,143 552,142.8 565.5,141.9 573.9,132.6 585.2,130.5 595.5,127.8 604.4,124.6 611.7,121.1 617.2,117.2 620.8,113.2 622.4,109.1 622,104.9 619.6,100.9 615.1,97 608.9,93.5 600.9,90.3 591.4,87.6 580.7,85.4 568.9,83.8 556.5,82.9 543.6,82.5 530.6,82.8 517.8,83.8 505.6,85.4 494.2,87.5 484,90.2 475.1,93.4 467.8,96.9 462.3,100.8 458.7,104.8 457.1,108.9 457.5,113.1 459.9,117.1 464.3,121 470.6,124.5 478.6,127.7 488,130.4 498.8,132.6 510.5,134.2 523,135.1 535.9,135.5 548.9,135.2 561.6,134.2 569.3,126.8 580,124.7 589.6,122.1 597.9,119.1 604.8,115.8 610,112.2 613.4,108.4 614.9,104.5 614.5,100.6 612.2,96.9 608.1,93.3 602.2,90 594.7,87.1 585.8,84.7 575.7,82.7 564.6,81.3 552.9,80.4 540.8,80.2 528.6,80.6 516.6,81.6 505.1,83.1 494.5,85.2 484.8,87.8 476.5,90.8 469.6,94.1 464.4,97.7 461,101.5 459.5,105.4 459.9,109.3 462.2,113 466.3,116.6 472.2,119.8 479.7,122.8 488.6,125.2 498.7,127.2 509.8,128.6 521.5,129.4 533.6,129.7 545.8,129.3 557.8,128.3 564.7,122.5 574.7,120.6 583.7,118.1 591.5,115.3 597.9,112.1 602.8,108.8 606,105.2 607.4,101.6 607,98 604.9,94.5 601,91.2 595.5,88.2 588.5,85.5 580.1,83.2 570.7,81.4 560.4,80.2 549.4,79.4 538,79.3 526.6,79.6 515.4,80.6 504.7,82.1 494.7,84.1 485.6,86.5 477.8,89.4 471.4,92.5 466.6,95.9 463.4,99.4 462,103 462.3,106.6 464.5,110.1 468.4,113.4 473.9,116.5 480.9,119.1 489.2,121.4 498.7,123.2 509,124.5 520,125.2 531.3,125.4 542.7,125 553.9,124 559.2,119 568.4,117.1 576.6,114.9 583.8,112.3 589.7,109.4 594.1,106.3 597.1,103 598.4,99.7 598,96.4 596.1,93.2 592.5,90.2 587.4,87.4 581,85 573.4,82.9 564.7,81.3 555.2,80.1 545.1,79.5 534.7,79.4 524.3,79.7 514,80.6 504.1,82 494.9,83.8 486.6,86.1 479.5,88.7 473.6,91.6 469.1,94.7 466.2,98 464.9,101.3 465.2,104.6 467.2,107.8 470.8,110.8 475.8,113.6 482.3,116 489.9,118.1 498.6,119.7 508.1,120.8 518.1,121.5 528.5,121.6 539,121.3 549.3,120.4 552.7,115.8 561,114.2 568.4,112.2 574.8,109.8 580.1,107.2 584.1,104.4 586.7,101.5 587.9,98.6 587.5,95.6 585.8,92.7 582.6,90 578.1,87.6 572.3,85.4 565.5,83.5 557.7,82.1 549.2,81 540.2,80.4 530.9,80.3 521.5,80.7 512.3,81.5 503.4,82.7 495.2,84.3 487.8,86.4 481.4,88.7 476.1,91.3 472.1,94.1 469.5,97 468.3,100 468.6,102.9 470.4,105.8 473.6,108.5 478.1,111 483.9,113.1 490.7,115 498.5,116.4 507,117.5 516,118.1 525.3,118.2 534.7,117.8 543.9,117 546.3,113.1 553.6,111.7 560.1,109.9 565.8,107.8 570.5,105.5 574,103.1 576.3,100.5 577.3,97.9 577.1,95.3 575.5,92.7 572.7,90.4 568.7,88.2 563.6,86.2 557.6,84.6 550.7,83.3 543.2,82.4 535.2,81.9 527,81.8 518.7,82.1 510.6,82.8 502.8,83.9 495.5,85.3 488.9,87.1 483.3,89.2 478.6,91.5 475.1,93.9 472.8,96.5 471.7,99.1 472,101.7 473.6,104.3 476.4,106.6 480.4,108.8 485.5,110.8 491.5,112.4 498.4,113.7 505.9,114.6 513.9,115.1 522.1,115.2 530.4,114.9 538.5,114.2 539,110.5 545.1,109.2 550.7,107.7 555.5,106 559.5,104 562.5,102 564.4,99.8 565.3,97.5 565.1,95.3 563.8,93.2 561.4,91.2 558,89.3 553.7,87.7 548.5,86.3 542.7,85.2 536.3,84.4 529.6,84 522.6,83.9 515.5,84.1 508.6,84.7 502,85.7 495.8,86.9 490.3,88.4 485.4,90.1 481.5,92.1 478.5,94.2 476.5,96.4 475.7,98.6 475.9,100.8 477.2,103 479.6,105 483,106.8 487.3,108.5 492.5,109.9 498.3,111 504.7,111.7 511.4,112.2 518.4,112.3 525.4,112 532.4,111.4 531.6,108 536.7,106.9 541.3,105.7 545.2,104.3 548.5,102.7 551,101 552.6,99.2 553.3,97.3 553.1,95.5 552,93.7 550,92.1 547.3,90.5 543.7,89.2 539.5,88.1 534.7,87.2 529.5,86.5 523.9,86.2 518.1,86.1 512.4,86.3 506.7,86.8 501.2,87.5 496.2,88.6 491.6,89.8 487.6,91.2 484.4,92.8 481.9,94.6 480.3,96.4 479.6,98.2 479.8,100 480.9,101.8 482.8,103.4 485.6,105 489.2,106.3 493.4,107.5 498.2,108.4 503.4,109 509,109.4 514.7,109.4 520.5,109.2 526.2,108.7 523.4,105.2 527.2,104.5 530.7,103.5 533.7,102.4 536.1,101.2 538,99.9 539.2,98.6 539.8,97.2 539.6,95.8 538.8,94.5 537.3,93.2 535.2,92.1 532.5,91 529.3,90.2 525.7,89.5 521.7,89 517.5,88.7 513.2,88.7 508.8,88.8 504.5,89.2 500.4,89.8 496.5,90.6 493.1,91.5 490.1,92.6 487.6,93.8 485.8,95.1 484.5,96.5 484,97.8 484.1,99.2 484.9,100.6 486.4,101.8 488.6,103 491.2,104 494.4,104.9 498.1,105.5 502,106 506.2,106.3 510.6,106.3 515,106.2 519.3,105.8 515.1,102.6 517.7,102 520.1,101.4 522.1,100.7 523.8,99.8 525,99 525.9,98 526.2,97.1 526.1,96.2 525.6,95.3 524.6,94.4 523.1,93.6 521.3,92.9 519.2,92.3 516.7,91.9 514,91.5 511.1,91.4 508.2,91.3 505.2,91.4 502.3,91.7 499.5,92.1 496.9,92.6 494.6,93.2 492.5,94 490.9,94.8 489.6,95.7 488.8,96.6 488.4,97.5 488.5,98.5 489,99.4 490.1,100.2 491.5,101 493.3,101.7 495.5,102.3 497.9,102.8 500.6,103.1 503.5,103.3 506.4,103.3 509.4,103.2 512.3,102.9 506.9,99.9 508.2,99.6 509.5,99.3 510.5,98.9 511.4,98.5 512.1,98 512.5,97.5 512.7,97 512.7,96.5 512.4,96.1 511.8,95.6 511.1,95.2 510.1,94.8 509,94.5 507.7,94.3 506.3,94.1 504.8,94 503.2,94 501.7,94.1 500.1,94.2 498.6,94.4 497.3,94.7 496,95 495,95.4 494.1,95.8 493.4,96.3 493,96.8 492.8,97.3 492.8,97.8 493.1,98.2 493.7,98.7 494.4,99.1 495.4,99.5 496.5,99.8 497.8,100 499.2,100.2 500.7,100.3 502.3,100.3 503.9,100.3 505.4,100.1 500.4,97.8 500.9,97.8 501.2,97.7 501.5,97.5 501.8,97.4 502,97.3 502.1,97.1 502.2,97 502.2,96.8 502.1,96.7 501.9,96.5 501.7,96.4 501.4,96.3 501.1,96.2 500.7,96.1 500.3,96.1 499.8,96.1 499.3,96.1 498.9,96.1 498.4,96.1 498,96.2 497.6,96.3 497.2,96.4 496.9,96.5 496.6,96.6 496.4,96.7 496.3,96.9 496.2,97 496.2,97.2 496.3,97.3 496.5,97.5 496.7,97.6 497,97.7 497.3,97.8 497.7,97.9 498.2,97.9 498.6,97.9 499.1,98 499.5,97.9 500,97.9" fill="none" stroke="none" marker-start="url(#rd)" marker-mid="url(#rd)" marker-end="url(#rd)"/>
<polyline points="589.5,162 603.2,160.3 615.5,156 626.2,153.1 635,149.3 641.7,144.3 646,139.4 648,133.9 647.5,129.3 644.5,124 639.2,119.6 631.7,114.1 622.1,110.7 610.6,106.8 597.7,104.9 583.5,102.2 568.5,101.3 553,100.2 537.3,100.3 522,102 507.2,103.6 493.5,106.1 481.2,109.3 470.5,112.7 461.7,117 455,121.7 450.7,126.1 448.7,131 449.2,136.7 452.2,141.4 457.5,146 465,150.5 474.6,154.6 486.1,157.6 499,160.4 513.2,162.6 528.2,164.3 543.7,164.2 559.4,164.2 574.7,163.9 586.2,154.2 599.5,151.5 611.4,149.1 621.7,145.1 630.2,141.2 636.6,137 640.8,132.2 642.7,127.7 642.2,122.5 639.4,118.2 634.2,112.2 627,108.2 617.7,104.4 606.7,101.4 594.2,98.4 580.5,96.2 566,95 551,94.4 535.9,95.2 521.1,95.7 506.9,97.6 493.7,100.2 481.8,103.2 471.4,106.3 463,110.1 456.5,115.3 452.3,119 450.5,124 450.9,129.4 453.8,134.3 458.9,138.7 466.2,142.7 475.5,147 486.5,150.5 499,152.8 512.6,155.7 527.1,156.3 542.1,156.6 557.2,156.7 572,155.6 582.6,146.7 595.2,144.3 606.7,141.6 616.6,138.5 624.7,134.4 630.9,130.1 634.9,125.2 636.7,120.4 636.2,116.1 633.5,111.9 628.6,107.5 621.6,103.2 612.7,99 602.2,96.2 590.2,93.7 577.1,91.9 563.2,90.1 548.8,89.7 534.4,90 520.1,90.8 506.5,91.9 493.9,94.7 482.4,97 472.5,100.6 464.4,104.9 458.2,108.8 454.2,113.7 452.4,118.5 452.9,123 455.6,127.9 460.5,131.8 467.5,136.1 476.4,139.6 486.9,142.7 498.9,146.6 512,147.5 525.9,149.5 540.3,149.4 554.7,149.6 569,148.4 578.4,138 590.5,136.8 601.4,133.4 610.8,130.2 618.5,127.1 624.4,122.2 628.2,118.1 629.9,113.9 629.5,109.5 626.9,103.9 622.2,100.9 615.6,97.5 607.1,93.8 597.1,90.6 585.7,88.2 573.2,86.3 560,85.4 546.3,84.4 532.6,84.9 519.1,86.1 506.1,87.5 494,89.6 483.2,92 473.7,95.4 466,99.4 460.2,103.3 456.3,107.5 454.6,111.3 455.1,116.6 457.6,120.6 462.3,124.7 469,129.1 477.4,132.2 487.5,135.2 498.9,137.8 511.3,139.3 524.5,140.3 538.2,140.8 552,141 565.5,140 573.9,131 585.2,129.9 595.5,126.8 604.4,123.4 611.7,120.1 617.2,116.1 620.8,112.3 622.4,107.9 622,103.6 619.6,100.1 615.1,96.1 608.9,92.6 600.9,89.6 591.4,86.7 580.7,84.9 568.9,82.7 556.5,81.4 543.6,81.1 530.6,81.5 517.8,83.2 505.6,84 494.2,86.9 484,89.4 475.1,91.9 467.8,96.4 462.3,99.6 458.7,103.8 457.1,108.1 457.5,112.5 459.9,116.1 464.3,120.2 470.6,123.3 478.6,126.4 488,129.9 498.8,131.8 510.5,133.4 523,134.6 535.9,134.9 548.9,134.2 561.6,133.4 569.3,127.3 580,124.8 589.6,121.9 597.9,119.5 604.8,116 610,111.6 613.4,107.9 614.9,105 614.5,101 612.2,96.7 608.1,93.6 602.2,90.1 594.7,87.2 585.8,84.4 575.7,83.5 564.6,81.9 552.9,80.8 540.8,79.8 528.6,80.6 516.6,82.1 505.1,82.9 494.5,84.9 484.8,87.8 476.5,90.8 469.6,93.9 464.4,97.3 461,101.4 459.5,105.2 459.9,109.2 462.2,113.1 466.3,116.8 472.2,119.7 479.7,122.8 488.6,125.2 498.7,126.8 509.8,128.4 521.5,129.1 533.6,130.1 545.8,129.1 557.8,128.5 564.7,122.4 574.7,120.4 583.7,117.3 591.5,114.6 597.9,112 602.8,108.7 606,104.8 607.4,101.4 607,97.1 604.9,94.6 601,91.4 595.5,87.9 588.5,85.1 580.1,82.8 570.7,80.8 560.4,79.1 549.4,79.2 538,79 526.6,79.8 515.4,80.1 504.7,81.4 494.7,83.8 485.6,85.8 477.8,89 471.4,91.6 466.6,95.4 463.4,99.4 462,102.9 462.3,106.8 464.5,110.3 468.4,113 473.9,115.8 480.9,118.1 489.2,121 498.7,122.9 509,124.5 520,124.5 531.3,124.9 542.7,124.8 553.9,123.4 559.2,119 568.4,117.9 576.6,114.8 583.8,112.4 589.7,109.7 594.1,106.6 597.1,102.6 598.4,99.4 598,96 596.1,93.7 592.5,90.6 587.4,87.3 581,85.5 573.4,83.3 564.7,82 555.2,79.7 545.1,79.3 534.7,79.4 524.3,79.8 514,80.9 504.1,82.3 494.9,83.8 486.6,86.5 479.5,88.5 473.6,91.9 469.1,95.1 466.2,97.7 464.9,101.5 465.2,104.5 467.2,108.1 470.8,111.7 475.8,113.5 482.3,116.6 489.9,117.9 498.6,120.3 508.1,121.6 518.1,121.6 528.5,121.7 539,121.4 549.3,120.9 552.7,115.7 561,114.8 568.4,112.5 574.8,110.2 580.1,107.5 584.1,104.3 586.7,101.9 587.9,98.6 587.5,95.6 585.8,93.5 582.6,90.6 578.1,87.9 572.3,85.7 565.5,83.6 557.7,82.9 549.2,81 540.2,80.4 530.9,80.6 521.5,81.3 512.3,81.6 503.4,83.1 495.2,84.3 487.8,86.6 481.4,88.6 476.1,91.6 472.1,93.8 469.5,97.9 468.3,100.5 468.6,102.9 470.4,106.4 473.6,108.4 478.1,111.5 483.9,113.3 490.7,115.5 498.5,116.8 507,117.6 516,118.3 525.3,118.5 534.7,117.3 543.9,117.2 546.3,113.1 553.6,111 560.1,109.2 565.8,107.1 570.5,104.6 574,103 576.3,99.8 577.3,97.1 577.1,94.9 575.5,92.3 572.7,90.9 568.7,88 563.6,85.3 557.6,84.8 550.7,83.1 543.2,81.9 535.2,81.3 527,80.9 518.7,82.3 510.6,82.4 502.8,83.2 495.5,85.4 488.9,86.7 483.3,88.2 478.6,90.6 475.1,93.4 472.8,97 471.7,98.8 472,101.2 473.6,104 476.4,106.3 480.4,107.5 485.5,110.4 491.5,112.3 498.4,113.2 505.9,114.3 513.9,114.8 522.1,114.9 530.4,114.3 538.5,113.8 539,111.2 545.1,109.6 550.7,107.9 555.5,106.5 559.5,104 562.5,102 564.4,100.4 565.3,97.8 565.1,95 563.8,93 561.4,91.5 558,89.3 553.7,88.2 548.5,87.1 542.7,85.3 536.3,84.7 529.6,84.1 522.6,84.2 515.5,84.4 508.6,85.2 502,85.8 495.8,87 490.3,88.8 485.4,90.2 481.5,93 478.5,94.8 476.5,96.2 475.7,98.4 475.9,101.1 477.2,103.3 479.6,105.7 483,107.1 487.3,108.6 492.5,110.7 498.3,111.1 504.7,111.9 511.4,112.4 518.4,113 525.4,112.2 532.4,112.2 531.6,107.4 536.7,106.8 541.3,106 545.2,103.8 548.5,102.2 551,101.1 552.6,98.4 553.3,97.6 553.1,95.3 552,93.3 550,92.7 547.3,90.2 543.7,89.1 539.5,88 534.7,87.4 529.5,86.3 523.9,86.4 518.1,86.3 512.4,86.4 506.7,87.1 501.2,87 496.2,88.9 491.6,90 487.6,91.3 484.4,92.8 481.9,94.2 480.3,96 479.6,98.2 479.8,100.1 480.9,101.7 482.8,103.1 485.6,104.7 489.2,106.4 493.4,108 498.2,107.6 503.4,108.6 509,109.2 514.7,109.3 520.5,109.3 526.2,109 523.4,106.7 527.2,105.9 530.7,105.1 533.7,104.3 536.1,102.7 538,101.1 539.2,100.1 539.8,98.5 539.6,97.8 538.8,95.9 537.3,94.6 535.2,93.8 532.5,93 529.3,91.4 525.7,91.1 521.7,90.2 517.5,90.2 513.2,89.8 508.8,90.3 504.5,91.1 500.4,91.2 496.5,92 493.1,92.6 490.1,94.1 487.6,95.3 485.8,96.2 484.5,97.4 484,99 484.1,100.2 484.9,101.8 486.4,102.9 488.6,104 491.2,105.2 494.4,106.2 498.1,106.8 502,106.6 506.2,107.6 510.6,107.8 515,107.7 519.3,107.2 515.1,106.1 517.7,106 520.1,105.7 522.1,104.2 523.8,104 525,102.5 525.9,101.6 526.2,100.3 526.1,99.2 525.6,98.8 524.6,98.2 523.1,97.6 521.3,96.8 519.2,95.9 516.7,96.2 514,95.1 511.1,95 508.2,94.7 505.2,95.2 502.3,95.3 499.5,95.9 496.9,96.4 494.6,97.4 492.5,97.6 490.9,97.9 489.6,99.2 488.8,100.1 488.4,101.5 488.5,101.6 489,103.2 490.1,103.6 491.5,104.6 493.3,105.6 495.5,105.6 497.9,106.4 500.6,106.7 503.5,106.7 506.4,106.9 509.4,106.9 512.3,106.4 506.9,103.8 508.2,103.4 509.5,103.3 510.5,103.1 511.4,102.4 512.1,101.9 512.5,101.3 512.7,100.4 512.7,100.8 512.4,99.8 511.8,100.1 511.1,99.3 510.1,98.7 509,99 507.7,98.6 506.3,97.8 504.8,97.7 503.2,97.8 501.7,98.1 500.1,97.2 498.6,98.2 497.3,98.7 496,98.2 495,98.9 494.1,99.7 493.4,99.7 493,100.5 492.8,100.8 492.8,101.4 493.1,102.3 493.7,102.1 494.4,102.8 495.4,103.5 496.5,103.8 497.8,103.5 499.2,104.1 500.7,104 502.3,103.8 503.9,104 505.4,104.4 500.4,101.6 500.9,101.5 501.2,101.4 501.5,101 501.8,101.3 502,101 502.1,100.6 502.2,101.1 502.2,100.3 502.1,100.1 501.9,100.3 501.7,99.8 501.4,100 501.1,100.5 500.7,99.8 500.3,100 499.8,99.9 499.3,100 498.9,99.6 498.4,99.9 498,100.4 497.6,100.1 497.2,100.1 496.9,100.7 496.6,100.8 496.4,100.9 496.3,101.1 496.2,100.9 496.2,100.9 496.3,100.7 496.5,101.1 496.7,101.3 497,101.3 497.3,101.4 497.7,102 498.2,101.7 498.6,101.8 499.1,102 499.5,102.1 500,102.1" fill="none" stroke="none" marker-start="url(#gs)" marker-mid="url(#gs)" marker-end="url(#gs)"/>
<polyline points="503.7,97.5 505.1,96.6 504.7,95.6 502.5,94.9 499.5,94.7 496.7,95.2 495.3,96 495.8,97 497.9,97.7 501,97.9 511.8,97.8 512.6,95.8 509.6,94 504.1,93.2 498,93.5 493.8,95 492.9,97 495.9,98.7 501.4,99.6 507.5,99.2 520.2,96.9 518.2,94 511.3,92 502.1,91.7 494.1,93.2 490.4,96 492.4,98.9 499.3,100.9 508.5,101.2 516.5,99.7 527.1,94.9 520.5,91.5 509,90.1 497.1,91.1 489.3,94.2 488.5,98.1 495.2,101.5 506.6,103 518.6,102 526.4,98.9 530.9,92 518.6,89 503.2,88.9 490.5,91.7 485.4,96.4 489.8,101.2 502.1,104.2 517.5,104.3 530.2,101.5 535.3,96.8" fill="none" stroke="none" marker-start="url(#rd)" marker-mid="url(#rd)" marker-end="url(#rd)"/>
<polyline points="154.7,617.7 154.2,617.4 152.6,616.5 150.1,615 146.7,612.9 142.5,610.4 137.5,607.4 132,604.1 125.9,600.5 119.6,596.7 113.1,592.8 106.6,588.9 100.2,585 94.2,581.4 88.6,578.1 83.7,575.1 79.4,572.6 76,570.5 73.5,569 72,568.1 71.5,567.8 72,568.1 73.5,569 76,570.5 79.4,572.6 83.7,575.1 88.6,578.1 94.2,581.4 100.2,585 106.6,588.9 113.1,592.8 119.6,596.7 125.9,600.5 132,604.1 137.5,607.4 142.5,610.4 146.7,612.9 150.1,615 152.6,616.5 154.2,617.4 152.5,556.1 152,555.8 150.5,554.9 148.1,553.5 144.8,551.5 140.7,549.1 135.9,546.2 130.5,543 124.7,539.5 118.6,535.8 112.3,532 106,528.3 99.9,524.6 94.1,521.1 88.7,517.9 83.9,515 79.8,512.6 76.5,510.6 74.1,509.1 72.7,508.3 72.2,508 72.7,508.3 74.1,509.1 76.5,510.6 79.8,512.6 83.9,515 88.7,517.9 94.1,521.1 99.9,524.6 106,528.3 112.3,532 118.6,535.8 124.7,539.5 130.5,543 135.9,546.2 140.7,549.1 144.8,551.5 148.1,553.5 150.5,554.9 152,555.8 149.9,523 149.5,522.7 148,521.8 145.7,520.5 142.6,518.6 138.7,516.2 134.1,513.5 128.9,510.4 123.3,507 117.5,503.5 111.4,499.9 105.4,496.3 99.6,492.8 94,489.4 88.8,486.3 84.2,483.6 80.3,481.2 77.2,479.3 74.9,477.9 73.4,477.1 73,476.8 73.4,477.1 74.9,477.9 77.2,479.3 80.3,481.2 84.2,483.6 88.8,486.3 94,489.4 99.6,492.8 105.4,496.3 111.4,499.9 117.5,503.5 123.3,507 128.9,510.4 134.1,513.5 138.7,516.2 142.6,518.6 145.7,520.5 148,521.8 149.5,522.7 147.1,500.2 146.6,499.9 145.3,499.1 143.1,497.8 140.1,496 136.4,493.7 132,491.1 127.1,488.2 121.8,485 116.2,481.7 110.5,478.2 104.7,474.8 99.2,471.4 93.9,468.3 89,465.3 84.6,462.7 80.9,460.5 77.9,458.7 75.7,457.3 74.3,456.5 73.9,456.3 74.3,456.5 75.7,457.3 77.9,458.7 80.9,460.5 84.6,462.7 89,465.3 93.9,468.3 99.2,471.4 104.7,474.8 110.5,478.2 116.2,481.7 121.8,485 127.1,488.2 132,491.1 136.4,493.7 140.1,496 143.1,497.8 145.3,499.1 146.6,499.9 143.9,486.2 143.5,486 142.2,485.2 140.2,484 137.3,482.3 133.8,480.2 129.7,477.7 125.1,474.9 120.1,471.9 114.8,468.8 109.4,465.5 104,462.3 98.7,459.1 93.7,456.1 89.1,453.3 85,450.9 81.5,448.8 78.6,447.1 76.6,445.8 75.3,445.1 74.9,444.8 75.3,445.1 76.6,445.8 78.6,447.1 81.5,448.8 85,450.9 89.1,453.3 93.7,456.1 98.7,459.1 104,462.3 109.4,465.5 114.8,468.8 120.1,471.9 125.1,474.9 129.7,477.7 133.8,480.2 137.3,482.3 140.2,484 142.2,485.2 143.5,486 140.8,476.8 140.4,476.6 139.2,475.8 137.2,474.7 134.6,473.1 131.3,471.1 127.4,468.8 123,466.2 118.3,463.4 113.4,460.4 108.3,457.3 103.2,454.3 98.3,451.3 93.6,448.5 89.2,445.9 85.4,443.6 82.1,441.6 79.4,440 77.5,438.8 76.3,438.1 75.9,437.9 76.3,438.1 77.5,438.8 79.4,440 82.1,441.6 85.4,443.6 89.2,445.9 93.6,448.5 98.3,451.3 103.2,454.3 108.3,457.3 113.4,460.4 118.3,463.4 123,466.2 127.4,468.8 131.3,471.1 134.6,473.1 137.2,474.7 139.2,475.8 140.4,476.6 137.6,469.6 137.2,469.4 136.1,468.7 134.3,467.6 131.8,466.2 128.7,464.3 125.1,462.1 121,459.7 116.6,457 112,454.3 107.2,451.4 102.5,448.6 97.8,445.8 93.4,443.1 89.4,440.7 85.8,438.5 82.7,436.7 80.2,435.2 78.3,434.1 77.2,433.4 76.9,433.2 77.2,433.4 78.3,434.1 80.2,435.2 82.7,436.7 85.8,438.5 89.4,440.7 93.4,443.1 97.8,445.8 102.5,448.6 107.2,451.4 112,454.3 116.6,457 121,459.7 125.1,462.1 128.7,464.3 131.8,466.2 134.3,467.6 136.1,468.7 137.2,469.4 133.8,462.8 133.5,462.6 132.4,462 130.8,461 128.5,459.6 125.6,457.9 122.3,455.9 118.6,453.7 114.5,451.3 110.3,448.7 105.9,446.1 101.6,443.5 97.3,441 93.3,438.5 89.6,436.3 86.2,434.3 83.4,432.6 81.1,431.2 79.4,430.2 78.4,429.6 78.1,429.4 78.4,429.6 79.4,430.2 81.1,431.2 83.4,432.6 86.2,434.3 89.6,436.3 93.3,438.5 97.3,441 101.6,443.5 105.9,446.1 110.3,448.7 114.5,451.3 118.6,453.7 122.3,455.9 125.6,457.9 128.5,459.6 130.8,461 132.4,462 133.5,462.6 129.4,457.2 129.1,457 128.2,456.4 126.7,455.5 124.6,454.3 122.1,452.8 119.1,451 115.8,449 112.1,446.8 108.3,444.5 104.4,442.2 100.5,439.9 96.7,437.6 93.1,435.4 89.7,433.4 86.8,431.6 84.2,430.1 82.2,428.9 80.7,428 79.8,427.4 79.5,427.2 79.8,427.4 80.7,428 82.2,428.9 84.2,430.1 86.8,431.6 89.7,433.4 93.1,435.4 96.7,437.6 100.5,439.9 104.4,442.2 108.3,444.5 112.1,446.8 115.8,449 119.1,451 122.1,452.8 124.6,454.3 126.7,455.5 128.2,456.4 129.1,457 125,452.3 124.7,452.1 123.9,451.6 122.5,450.8 120.7,449.7 118.5,448.4 115.9,446.8 112.9,445 109.7,443.1 106.4,441.1 102.9,439 99.5,437 96.1,434.9 92.9,433 89.9,431.3 87.3,429.7 85.1,428.3 83.3,427.2 81.9,426.5 81.1,426 80.9,425.8 81.1,426 81.9,426.5 83.3,427.2 85.1,428.3 87.3,429.7 89.9,431.3 92.9,433 96.1,434.9 99.5,437 102.9,439 106.4,441.1 109.7,443.1 112.9,445 115.9,446.8 118.5,448.4 120.7,449.7 122.5,450.8 123.9,451.6 124.7,452.1 119.9,447.3 119.7,447.1 119,446.7 117.9,446 116.3,445.1 114.4,444 112.2,442.6 109.7,441.1 107,439.5 104.1,437.8 101.2,436 98.2,434.3 95.4,432.6 92.7,430.9 90.2,429.4 87.9,428.1 86,427 84.5,426 83.4,425.4 82.7,424.9 82.5,424.8 82.7,424.9 83.4,425.4 84.5,426 86,427 87.9,428.1 90.2,429.4 92.7,430.9 95.4,432.6 98.2,434.3 101.2,436 104.1,437.8 107,439.5 109.7,441.1 112.2,442.6 114.4,444 116.3,445.1 117.9,446 119,446.7 119.7,447.1 114.8,442.7 114.6,442.6 114.1,442.3 113.2,441.7 111.9,441 110.3,440 108.5,438.9 106.4,437.7 104.2,436.3 101.9,434.9 99.4,433.5 97,432 94.7,430.6 92.5,429.3 90.4,428.1 88.6,427 87,426 85.7,425.3 84.8,424.7 84.2,424.4 84.1,424.3 84.2,424.4 84.8,424.7 85.7,425.3 87,426 88.6,427 90.4,428.1 92.5,429.3 94.7,430.6 97,432 99.4,433.5 101.9,434.9 104.2,436.3 106.4,437.7 108.5,438.9 110.3,440 111.9,441 113.2,441.7 114.1,442.3 114.6,442.6 109.1,438.3 109,438.2 108.6,437.9 107.9,437.5 106.9,436.9 105.7,436.2 104.3,435.4 102.8,434.4 101.1,433.4 99.3,432.4 97.5,431.3 95.7,430.2 93.9,429.1 92.2,428.1 90.6,427.2 89.3,426.3 88.1,425.6 87.1,425 86.4,424.6 86,424.4 85.8,424.3 86,424.4 86.4,424.6 87.1,425 88.1,425.6 89.3,426.3 90.6,427.2 92.2,428.1 93.9,429.1 95.7,430.2 97.5,431.3 99.3,432.4 101.1,433.4 102.8,434.4 104.3,435.4 105.7,436.2 106.9,436.9 107.9,437.5 108.6,437.9 109,438.2 196.1,612.2 195.6,611.9 194,611 191.5,609.5 188.1,607.4 183.9,604.9 178.9,601.9 173.4,598.6 167.3,595 161,591.1 154.5,587.2 148,583.3 141.6,579.5 135.6,575.9 130,572.6 125.1,569.6 120.8,567.1 117.4,565 114.9,563.5 113.4,562.6 112.9,562.3 113.4,562.6 114.9,563.5 117.4,565 120.8,567.1 125.1,569.6 130,572.6 135.6,575.9 141.6,579.5 148,583.3 154.5,587.2 161,591.1 167.3,595 173.4,598.6 178.9,601.9 183.9,604.9 188.1,607.4 191.5,609.5 194,611 195.6,611.9 193.9,543.1 193.4,542.8 191.9,541.9 189.5,540.5 186.2,538.5 182.1,536 177.3,533.2 171.9,529.9 166.1,526.4 160,522.8 153.7,519 147.4,515.2 141.3,511.6 135.5,508.1 130.1,504.8 125.3,502 121.2,499.5 117.9,497.5 115.5,496.1 114.1,495.2 113.6,494.9 114.1,495.2 115.5,496.1 117.9,497.5 121.2,499.5 125.3,502 130.1,504.8 135.5,508.1 141.3,511.6 147.4,515.2 153.7,519 160,522.8 166.1,526.4 171.9,529.9 177.3,533.2 182.1,536 186.2,538.5 189.5,540.5 191.9,541.9 193.4,542.8 191.3,512.9 190.9,512.7 189.4,511.8 187.1,510.4 184,508.5 180.1,506.2 175.5,503.4 170.3,500.3 164.7,497 158.9,493.5 152.8,489.9 146.8,486.2 141,482.7 135.4,479.4 130.2,476.3 125.6,473.5 121.7,471.2 118.6,469.3 116.3,467.9 114.8,467.1 114.4,466.8 114.8,467.1 116.3,467.9 118.6,469.3 121.7,471.2 125.6,473.5 130.2,476.3 135.4,479.4 141,482.7 146.8,486.2 152.8,489.9 158.9,493.5 164.7,497 170.3,500.3 175.5,503.4 180.1,506.2 184,508.5 187.1,510.4 189.4,511.8 190.9,512.7 188.5,492.4 188,492.1 186.7,491.3 184.5,490 181.5,488.2 177.8,486 173.4,483.4 168.5,480.4 163.2,477.2 157.6,473.9 151.9,470.4 146.1,467 140.6,463.7 135.3,460.5 130.4,457.5 126,454.9 122.3,452.7 119.3,450.9 117.1,449.6 115.7,448.8 115.3,448.5 115.7,448.8 117.1,449.6 119.3,450.9 122.3,452.7 126,454.9 130.4,457.5 135.3,460.5 140.6,463.7 146.1,467 151.9,470.4 157.6,473.9 163.2,477.2 168.5,480.4 173.4,483.4 177.8,486 181.5,488.2 184.5,490 186.7,491.3 188,492.1 185.3,480 184.9,479.7 183.6,478.9 181.6,477.7 178.7,476 175.2,473.9 171.1,471.4 166.5,468.7 161.5,465.7 156.2,462.5 150.8,459.3 145.4,456 140.1,452.9 135.1,449.8 130.5,447.1 126.4,444.6 122.9,442.5 120,440.8 118,439.6 116.7,438.8 116.3,438.5 116.7,438.8 118,439.6 120,440.8 122.9,442.5 126.4,444.6 130.5,447.1 135.1,449.8 140.1,452.9 145.4,456 150.8,459.3 156.2,462.5 161.5,465.7 166.5,468.7 171.1,471.4 175.2,473.9 178.7,476 181.6,477.7 183.6,478.9 184.9,479.7 182.2,471.3 181.8,471 180.6,470.3 178.6,469.2 176,467.6 172.7,465.6 168.8,463.3 164.4,460.7 159.7,457.8 154.8,454.9 149.7,451.8 144.6,448.8 139.7,445.8 135,443 130.6,440.4 126.8,438.1 123.5,436.1 120.8,434.5 118.9,433.3 117.7,432.6 117.3,432.4 117.7,432.6 118.9,433.3 120.8,434.5 123.5,436.1 126.8,438.1 130.6,440.4 135,443 139.7,445.8 144.6,448.8 149.7,451.8 154.8,454.9 159.7,457.8 164.4,460.7 168.8,463.3 172.7,465.6 176,467.6 178.6,469.2 180.6,470.3 181.8,471 179,464.1 178.6,463.9 177.5,463.2 175.7,462.1 173.2,460.6 170.1,458.8 166.5,456.6 162.4,454.2 158,451.5 153.4,448.8 148.6,445.9 143.9,443.1 139.2,440.3 134.8,437.6 130.8,435.2 127.2,433 124.1,431.2 121.6,429.7 119.7,428.6 118.6,427.9 118.3,427.7 118.6,427.9 119.7,428.6 121.6,429.7 124.1,431.2 127.2,433 130.8,435.2 134.8,437.6 139.2,440.3 143.9,443.1 148.6,445.9 153.4,448.8 158,451.5 162.4,454.2 166.5,456.6 170.1,458.8 173.2,460.6 175.7,462.1 177.5,463.2 178.6,463.9 175.2,457.3 174.9,457.1 173.8,456.5 172.2,455.5 169.9,454.1 167,452.4 163.7,450.4 160,448.2 155.9,445.8 151.7,443.2 147.3,440.6 143,438 138.7,435.4 134.7,433 131,430.8 127.6,428.8 124.8,427.1 122.5,425.7 120.8,424.7 119.8,424.1 119.5,423.9 119.8,424.1 120.8,424.7 122.5,425.7 124.8,427.1 127.6,428.8 131,430.8 134.7,433 138.7,435.4 143,438 147.3,440.6 151.7,443.2 155.9,445.8 160,448.2 163.7,450.4 167,452.4 169.9,454.1 172.2,455.5 173.8,456.5 174.9,457.1 170.8,451.7 170.5,451.5 169.6,450.9 168.1,450 166,448.8 163.5,447.3 160.5,445.5 157.2,443.5 153.5,441.3 149.7,439 145.8,436.7 141.9,434.3 138.1,432.1 134.5,429.9 131.1,427.9 128.2,426.1 125.6,424.6 123.6,423.3 122.1,422.4 121.2,421.9 120.9,421.7 121.2,421.9 122.1,422.4 123.6,423.3 125.6,424.6 128.2,426.1 131.1,427.9 134.5,429.9 138.1,432.1 141.9,434.3 145.8,436.7 149.7,439 153.5,441.3 157.2,443.5 160.5,445.5 163.5,447.3 166,448.8 168.1,450 169.6,450.9 170.5,451.5 166.4,446.7 166.1,446.6 165.3,446.1 163.9,445.3 162.1,444.2 159.9,442.9 157.3,441.3 154.3,439.5 151.1,437.6 147.8,435.6 144.3,433.5 140.9,431.4 137.5,429.4 134.3,427.5 131.3,425.7 128.7,424.2 126.5,422.8 124.7,421.7 123.3,420.9 122.5,420.5 122.3,420.3 122.5,420.5 123.3,420.9 124.7,421.7 126.5,422.8 128.7,424.2 131.3,425.7 134.3,427.5 137.5,429.4 140.9,431.4 144.3,433.5 147.8,435.6 151.1,437.6 154.3,439.5 157.3,441.3 159.9,442.9 162.1,444.2 163.9,445.3 165.3,446.1 166.1,446.6 161.3,441.7 161.1,441.6 160.4,441.2 159.3,440.5 157.7,439.6 155.8,438.5 153.6,437.1 151.1,435.6 148.4,434 145.5,432.3 142.6,430.5 139.6,428.8 136.8,427 134.1,425.4 131.6,423.9 129.3,422.6 127.4,421.4 125.9,420.5 124.8,419.8 124.1,419.4 123.9,419.3 124.1,419.4 124.8,419.8 125.9,420.5 127.4,421.4 129.3,422.6 131.6,423.9 134.1,425.4 136.8,427 139.6,428.8 142.6,430.5 145.5,432.3 148.4,434 151.1,435.6 153.6,437.1 155.8,438.5 157.7,439.6 159.3,440.5 160.4,441.2 161.1,441.6 156.2,437.2 156,437.1 155.5,436.8 154.6,436.2 153.3,435.4 151.7,434.5 149.9,433.4 147.8,432.2 145.6,430.8 143.3,429.4 140.8,428 138.4,426.5 136.1,425.1 133.9,423.8 131.8,422.5 130,421.4 128.4,420.5 127.1,419.7 126.2,419.2 125.6,418.9 125.5,418.7 125.6,418.9 126.2,419.2 127.1,419.7 128.4,420.5 130,421.4 131.8,422.5 133.9,423.8 136.1,425.1 138.4,426.5 140.8,428 143.3,429.4 145.6,430.8 147.8,432.2 149.9,433.4 151.7,434.5 153.3,435.4 154.6,436.2 155.5,436.8 156,437.1 150.5,432.7 150.4,432.7 150,432.4 149.3,432 148.3,431.4 147.1,430.7 145.7,429.9 144.2,428.9 142.5,427.9 140.7,426.8 138.9,425.8 137.1,424.7 135.3,423.6 133.6,422.6 132,421.6 130.7,420.8 129.5,420.1 128.5,419.5 127.8,419.1 127.4,418.9 127.2,418.8 127.4,418.9 127.8,419.1 128.5,419.5 129.5,420.1 130.7,420.8 132,421.6 133.6,422.6 135.3,423.6 137.1,424.7 138.9,425.8 140.7,426.8 142.5,427.9 144.2,428.9 145.7,429.9 147.1,430.7 148.3,431.4 149.3,432 150,432.4 150.4,432.7 274.9,601.7 274.4,601.4 272.9,600.5 270.4,599 267,596.9 262.7,594.4 257.8,591.4 252.2,588.1 246.2,584.4 239.8,580.6 233.3,576.7 226.8,572.8 220.5,569 214.4,565.4 208.9,562.1 203.9,559.1 199.7,556.6 196.3,554.5 193.8,553 192.2,552.1 191.7,551.8 192.2,552.1 193.8,553 196.3,554.5 199.7,556.6 203.9,559.1 208.9,562.1 214.4,565.4 220.5,569 226.8,572.8 233.3,576.7 239.8,580.6 246.2,584.4 252.2,588.1 257.8,591.4 262.7,594.4 267,596.9 270.4,599 272.9,600.5 274.4,601.4 272.7,543.1 272.2,542.8 270.8,541.9 268.3,540.5 265,538.5 261,536.1 256.2,533.2 250.8,530 245,526.5 238.9,522.8 232.6,519 226.3,515.3 220.2,511.6 214.3,508.1 209,504.9 204.2,502 200.1,499.6 196.8,497.6 194.4,496.1 192.9,495.3 192.4,495 192.9,495.3 194.4,496.1 196.8,497.6 200.1,499.6 204.2,502 209,504.9 214.3,508.1 220.2,511.6 226.3,515.3 232.6,519 238.9,522.8 245,526.5 250.8,530 256.2,533.2 261,536.1 265,538.5 268.3,540.5 270.8,541.9 272.2,542.8 270.2,508.8 269.7,508.5 268.3,507.6 266,506.2 262.8,504.4 258.9,502 254.3,499.2 249.2,496.2 243.6,492.8 237.7,489.3 231.7,485.7 225.7,482.1 219.8,478.5 214.2,475.2 209.1,472.1 204.5,469.4 200.6,467 197.4,465.1 195.1,463.7 193.7,462.9 193.2,462.6 193.7,462.9 195.1,463.7 197.4,465.1 200.6,467 204.5,469.4 209.1,472.1 214.2,475.2 219.8,478.5 225.7,482.1 231.7,485.7 237.7,489.3 243.6,492.8 249.2,496.2 254.3,499.2 258.9,502 262.8,504.4 266,506.2 268.3,507.6 269.7,508.5 267.3,485.1 266.9,484.8 265.5,484 263.4,482.7 260.3,480.9 256.6,478.6 252.3,476 247.4,473.1 242,469.9 236.5,466.5 230.7,463.1 225,459.7 219.4,456.3 214.1,453.1 209.2,450.2 204.8,447.6 201.1,445.3 198.1,443.5 195.9,442.2 194.6,441.4 194.1,441.1 194.6,441.4 195.9,442.2 198.1,443.5 201.1,445.3 204.8,447.6 209.2,450.2 214.1,453.1 219.4,456.3 225,459.7 230.7,463.1 236.5,466.5 242,469.9 247.4,473.1 252.3,476 256.6,478.6 260.3,480.9 263.4,482.7 265.5,484 266.9,484.8 264.2,470.5 263.8,470.3 262.5,469.5 260.4,468.3 257.6,466.6 254.1,464.4 249.9,462 245.3,459.2 240.3,456.2 235.1,453 229.7,449.8 224.2,446.6 219,443.4 214,440.4 209.4,437.6 205.2,435.2 201.7,433 198.9,431.3 196.8,430.1 195.5,429.3 195.1,429.1 195.5,429.3 196.8,430.1 198.9,431.3 201.7,433 205.2,435.2 209.4,437.6 214,440.4 219,443.4 224.2,446.6 229.7,449.8 235.1,453 240.3,456.2 245.3,459.2 249.9,462 254.1,464.4 257.6,466.6 260.4,468.3 262.5,469.5 263.8,470.3 261,460.8 260.6,460.5 259.4,459.8 257.5,458.7 254.8,457.1 251.5,455.1 247.6,452.8 243.3,450.2 238.6,447.3 233.6,444.4 228.6,441.3 223.5,438.3 218.5,435.3 213.8,432.5 209.5,429.9 205.6,427.6 202.3,425.6 199.7,424 197.7,422.8 196.5,422.1 196.1,421.9 196.5,422.1 197.7,422.8 199.7,424 202.3,425.6 205.6,427.6 209.5,429.9 213.8,432.5 218.5,435.3 223.5,438.3 228.6,441.3 233.6,444.4 238.6,447.3 243.3,450.2 247.6,452.8 251.5,455.1 254.8,457.1 257.5,458.7 259.4,459.8 260.6,460.5 257.9,453.6 257.5,453.4 256.4,452.7 254.5,451.6 252.1,450.1 249,448.3 245.3,446.1 241.3,443.7 236.9,441 232.2,438.2 227.5,435.4 222.7,432.5 218.1,429.8 213.7,427.1 209.6,424.7 206,422.5 202.9,420.7 200.4,419.2 198.6,418.1 197.5,417.4 197.1,417.2 197.5,417.4 198.6,418.1 200.4,419.2 202.9,420.7 206,422.5 209.6,424.7 213.7,427.1 218.1,429.8 222.7,432.5 227.5,435.4 232.2,438.2 236.9,441 241.3,443.7 245.3,446.1 249,448.3 252.1,450.1 254.5,451.6 256.4,452.7 257.5,453.4 254.1,446.8 253.7,446.6 252.7,446 251,445 248.7,443.6 245.9,441.9 242.6,439.9 238.8,437.7 234.8,435.3 230.6,432.7 226.2,430.1 221.8,427.5 217.6,424.9 213.5,422.5 209.8,420.3 206.5,418.3 203.6,416.6 201.4,415.2 199.7,414.2 198.7,413.6 198.3,413.4 198.7,413.6 199.7,414.2 201.4,415.2 203.6,416.6 206.5,418.3 209.8,420.3 213.5,422.5 217.6,424.9 221.8,427.5 226.2,430.1 230.6,432.7 234.8,435.3 238.8,437.7 242.6,439.9 245.9,441.9 248.7,443.6 251,445 252.7,446 253.7,446.6 249.6,441.1 249.3,441 248.4,440.4 246.9,439.5 244.9,438.3 242.3,436.8 239.3,435 236,433 232.4,430.8 228.6,428.5 224.7,426.2 220.8,423.8 217,421.6 213.3,419.4 210,417.4 207,415.6 204.5,414.1 202.4,412.8 200.9,411.9 200,411.4 199.7,411.2 200,411.4 200.9,411.9 202.4,412.8 204.5,414.1 207,415.6 210,417.4 213.3,419.4 217,421.6 220.8,423.8 224.7,426.2 228.6,428.5 232.4,430.8 236,433 239.3,435 242.3,436.8 244.9,438.3 246.9,439.5 248.4,440.4 249.3,441 245.2,436.2 244.9,436.1 244.1,435.6 242.8,434.8 241,433.7 238.8,432.4 236.1,430.8 233.2,429 230,427.1 226.6,425.1 223.2,423 219.7,420.9 216.3,418.9 213.2,417 210.2,415.2 207.6,413.7 205.3,412.3 203.5,411.2 202.2,410.4 201.4,409.9 201.1,409.8 201.4,409.9 202.2,410.4 203.5,411.2 205.3,412.3 207.6,413.7 210.2,415.2 213.2,417 216.3,418.9 219.7,420.9 223.2,423 226.6,425.1 230,427.1 233.2,429 236.1,430.8 238.8,432.4 241,433.7 242.8,434.8 244.1,435.6 244.9,436.1 240.2,431.2 239.9,431.1 239.2,430.7 238.1,430 236.6,429.1 234.7,428 232.4,426.6 229.9,425.1 227.2,423.5 224.4,421.8 221.4,420 218.5,418.3 215.6,416.5 212.9,414.9 210.4,413.4 208.2,412.1 206.3,410.9 204.8,410 203.6,409.3 202.9,408.9 202.7,408.8 202.9,408.9 203.6,409.3 204.8,410 206.3,410.9 208.2,412.1 210.4,413.4 212.9,414.9 215.6,416.5 218.5,418.3 221.4,420 224.4,421.8 227.2,423.5 229.9,425.1 232.4,426.6 234.7,428 236.6,429.1 238.1,430 239.2,430.7 239.9,431.1 235.1,426.7 234.9,426.6 234.3,426.2 233.4,425.7 232.2,424.9 230.6,424 228.7,422.9 226.7,421.7 224.5,420.3 222.1,418.9 219.7,417.5 217.3,416 214.9,414.6 212.7,413.3 210.7,412 208.8,410.9 207.2,410 206,409.2 205.1,408.7 204.5,408.4 204.3,408.2 204.5,408.4 205.1,408.7 206,409.2 207.2,410 208.8,410.9 210.7,412 212.7,413.3 214.9,414.6 217.3,416 219.7,417.5 222.1,418.9 224.5,420.3 226.7,421.7 228.7,422.9 230.6,424 232.2,424.9 233.4,425.7 234.3,426.2 234.9,426.6 229.4,422.2 229.3,422.1 228.8,421.9 228.1,421.5 227.2,420.9 226,420.2 224.6,419.4 223,418.4 221.4,417.4 219.6,416.3 217.8,415.2 215.9,414.2 214.2,413.1 212.5,412.1 210.9,411.1 209.5,410.3 208.3,409.6 207.4,409 206.7,408.6 206.2,408.3 206.1,408.3 206.2,408.3 206.7,408.6 207.4,409 208.3,409.6 209.5,410.3 210.9,411.1 212.5,412.1 214.2,413.1 215.9,414.2 217.8,415.2 219.6,416.3 221.4,417.4 223,418.4 224.6,419.4 226,420.2 227.2,420.9 228.1,421.5 228.8,421.9 229.3,422.1 314.4,596.4 313.8,596.1 312.3,595.2 309.8,593.7 306.4,591.7 302.2,589.1 297.2,586.2 291.6,582.8 285.6,579.2 279.3,575.4 272.8,571.5 266.2,567.6 259.9,563.8 253.9,560.2 248.3,556.8 243.3,553.8 239.1,551.3 235.7,549.3 233.2,547.8 231.7,546.8 231.2,546.5 231.7,546.8 233.2,547.8 235.7,549.3 239.1,551.3 243.3,553.8 248.3,556.8 253.9,560.2 259.9,563.8 266.2,567.6 272.8,571.5 279.3,575.4 285.6,579.2 291.6,582.8 297.2,586.2 302.2,589.1 306.4,591.7 309.8,593.7 312.3,595.2 313.8,596.1 312.1,529.6 311.6,529.3 310.2,528.4 307.8,527 304.5,525 300.4,522.5 295.6,519.7 290.2,516.4 284.4,512.9 278.3,509.3 272,505.5 265.7,501.7 259.6,498.1 253.8,494.6 248.4,491.3 243.6,488.5 239.5,486 236.2,484 233.8,482.6 232.4,481.7 231.9,481.4 232.4,481.7 233.8,482.6 236.2,484 239.5,486 243.6,488.5 248.4,491.3 253.8,494.6 259.6,498.1 265.7,501.7 272,505.5 278.3,509.3 284.4,512.9 290.2,516.4 295.6,519.7 300.4,522.5 304.5,525 307.8,527 310.2,528.4 311.6,529.3 309.6,498.5 309.1,498.3 307.7,497.4 305.4,496 302.3,494.1 298.3,491.8 293.8,489 288.6,485.9 283,482.6 277.2,479.1 271.1,475.5 265.1,471.8 259.2,468.3 253.7,465 248.5,461.9 243.9,459.1 240,456.8 236.8,454.9 234.5,453.5 233.1,452.7 232.7,452.4 233.1,452.7 234.5,453.5 236.8,454.9 240,456.8 243.9,459.1 248.5,461.9 253.7,465 259.2,468.3 265.1,471.8 271.1,475.5 277.2,479.1 283,482.6 288.6,485.9 293.8,489 298.3,491.8 302.3,494.1 305.4,496 307.7,497.4 309.1,498.3 306.8,477.3 306.3,477.1 305,476.2 302.8,474.9 299.8,473.1 296,470.9 291.7,468.3 286.8,465.3 281.5,462.1 275.9,458.8 270.2,455.4 264.4,451.9 258.8,448.6 253.5,445.4 248.6,442.5 244.3,439.8 240.5,437.6 237.5,435.8 235.3,434.5 234,433.7 233.6,433.4 234,433.7 235.3,434.5 237.5,435.8 240.5,437.6 244.3,439.8 248.6,442.5 253.5,445.4 258.8,448.6 264.4,451.9 270.2,455.4 275.9,458.8 281.5,462.1 286.8,465.3 291.7,468.3 296,470.9 299.8,473.1 302.8,474.9 305,476.2 306.3,477.1 303.6,464.4 303.2,464.2 301.9,463.4 299.8,462.2 297,460.5 293.5,458.4 289.4,455.9 284.8,453.1 279.7,450.1 274.5,447 269.1,443.7 263.7,440.5 258.4,437.3 253.4,434.3 248.8,431.5 244.7,429.1 241.1,427 238.3,425.3 236.2,424 235,423.3 234.6,423 235,423.3 236.2,424 238.3,425.3 241.1,427 244.7,429.1 248.8,431.5 253.4,434.3 258.4,437.3 263.7,440.5 269.1,443.7 274.5,447 279.7,450.1 284.8,453.1 289.4,455.9 293.5,458.4 297,460.5 299.8,462.2 301.9,463.4 303.2,464.2 300.4,455.5 300,455.3 298.9,454.6 296.9,453.4 294.2,451.8 290.9,449.8 287.1,447.5 282.7,444.9 278,442.1 273.1,439.1 268,436.1 262.9,433 258,430.1 253.3,427.2 248.9,424.6 245.1,422.3 241.7,420.3 239.1,418.7 237.1,417.6 235.9,416.8 235.6,416.6 235.9,416.8 237.1,417.6 239.1,418.7 241.7,420.3 245.1,422.3 248.9,424.6 253.3,427.2 258,430.1 262.9,433 268,436.1 273.1,439.1 278,442.1 282.7,444.9 287.1,447.5 290.9,449.8 294.2,451.8 296.9,453.4 298.9,454.6 300,455.3 297.3,448.4 296.9,448.1 295.8,447.5 294,446.4 291.5,444.9 288.4,443 284.8,440.8 280.7,438.4 276.3,435.8 271.7,433 266.9,430.1 262.2,427.3 257.5,424.5 253.1,421.9 249.1,419.4 245.4,417.3 242.3,415.4 239.9,413.9 238,412.8 236.9,412.2 236.5,411.9 236.9,412.2 238,412.8 239.9,413.9 242.3,415.4 245.4,417.3 249.1,419.4 253.1,421.9 257.5,424.5 262.2,427.3 266.9,430.1 271.7,433 276.3,435.8 280.7,438.4 284.8,440.8 288.4,443 291.5,444.9 294,446.4 295.8,447.5 296.9,448.1 293.5,441.6 293.1,441.4 292.1,440.7 290.5,439.7 288.2,438.4 285.3,436.7 282,434.7 278.3,432.4 274.2,430 270,427.5 265.6,424.8 261.3,422.2 257,419.7 253,417.3 249.2,415 245.9,413 243.1,411.3 240.8,410 239.1,408.9 238.1,408.3 237.7,408.1 238.1,408.3 239.1,408.9 240.8,410 243.1,411.3 245.9,413 249.2,415 253,417.3 257,419.7 261.3,422.2 265.6,424.8 270,427.5 274.2,430 278.3,432.4 282,434.7 285.3,436.7 288.2,438.4 290.5,439.7 292.1,440.7 293.1,441.4 289.1,435.9 288.8,435.7 287.8,435.2 286.3,434.3 284.3,433 281.8,431.5 278.8,429.7 275.4,427.7 271.8,425.6 268,423.3 264.1,420.9 260.2,418.6 256.4,416.3 252.8,414.1 249.4,412.1 246.5,410.3 243.9,408.8 241.9,407.6 240.4,406.7 239.5,406.1 239.1,406 239.5,406.1 240.4,406.7 241.9,407.6 243.9,408.8 246.5,410.3 249.4,412.1 252.8,414.1 256.4,416.3 260.2,418.6 264.1,420.9 268,423.3 271.8,425.6 275.4,427.7 278.8,429.7 281.8,431.5 284.3,433 286.3,434.3 287.8,435.2 288.8,435.7 284.6,431 284.4,430.8 283.6,430.3 282.2,429.5 280.4,428.5 278.2,427.1 275.5,425.5 272.6,423.8 269.4,421.8 266,419.8 262.6,417.8 259.1,415.7 255.8,413.7 252.6,411.8 249.6,410 247,408.4 244.8,407.1 242.9,406 241.6,405.2 240.8,404.7 240.5,404.5 240.8,404.7 241.6,405.2 242.9,406 244.8,407.1 247,408.4 249.6,410 252.6,411.8 255.8,413.7 259.1,415.7 262.6,417.8 266,419.8 269.4,421.8 272.6,423.8 275.5,425.5 278.2,427.1 280.4,428.5 282.2,429.5 283.6,430.3 284.4,430.8 279.6,426 279.3,425.9 278.7,425.4 277.5,424.8 276,423.8 274.1,422.7 271.9,421.4 269.4,419.9 266.6,418.2 263.8,416.5 260.9,414.8 257.9,413 255.1,411.3 252.4,409.7 249.9,408.2 247.6,406.8 245.7,405.7 244.2,404.8 243.1,404.1 242.4,403.7 242.1,403.5 242.4,403.7 243.1,404.1 244.2,404.8 245.7,405.7 247.6,406.8 249.9,408.2 252.4,409.7 255.1,411.3 257.9,413 260.9,414.8 263.8,416.5 266.6,418.2 269.4,419.9 271.9,421.4 274.1,422.7 276,423.8 277.5,424.8 278.7,425.4 279.3,425.9 274.5,421.4 274.3,421.3 273.8,421 272.8,420.4 271.6,419.7 270,418.7 268.2,417.6 266.1,416.4 263.9,415.1 261.5,413.7 259.1,412.2 256.7,410.8 254.4,409.4 252.1,408 250.1,406.8 248.2,405.7 246.7,404.7 245.4,404 244.5,403.4 243.9,403.1 243.7,403 243.9,403.1 244.5,403.4 245.4,404 246.7,404.7 248.2,405.7 250.1,406.8 252.1,408 254.4,409.4 256.7,410.8 259.1,412.2 261.5,413.7 263.9,415.1 266.1,416.4 268.2,417.6 270,418.7 271.6,419.7 272.8,420.4 273.8,421 274.3,421.3 268.8,417 268.7,416.9 268.3,416.6 267.6,416.2 266.6,415.6 265.4,414.9 264,414.1 262.5,413.2 260.8,412.2 259,411.1 257.2,410 255.4,408.9 253.6,407.8 251.9,406.8 250.3,405.9 248.9,405.1 247.8,404.3 246.8,403.8 246.1,403.4 245.7,403.1 245.5,403 245.7,403.1 246.1,403.4 246.8,403.8 247.8,404.3 248.9,405.1 250.3,405.9 251.9,406.8 253.6,407.8 255.4,408.9 257.2,410 259,411.1 260.8,412.2 262.5,413.2 264,414.1 265.4,414.9 266.6,415.6 267.6,416.2 268.3,416.6 268.7,416.9" fill="none" stroke="none" marker-start="url(#rd)" marker-mid="url(#rd)" marker-end="url(#rd)"/>
<polyline points="154.7,599.3 154.2,601.4 152.6,600.1 150.1,597.9 146.7,595 142.5,593.1 137.5,591.5 132,587.3 125.9,582.8 119.6,581.4 113.1,578.5 106.6,572.3 100.2,567.6 94.2,564.2 88.6,560.9 83.7,557.5 79.4,554.8 76,552.8 73.5,551.5 72,551.1 71.5,551.1 72,550.8 73.5,555.6 76,555.7 79.4,559 83.7,559.8 88.6,563.8 94.2,566.5 100.2,569.1 106.6,573 113.1,576.9 119.6,577.4 125.9,581.6 132,583.7 137.5,588 142.5,592 146.7,596.1 150.1,599.6 152.6,598.4 154.2,600.4 152.5,564.7 152,565.6 150.5,565.7 148.1,565 144.8,560.6 140.7,558.1 135.9,556.6 130.5,551.9 124.7,547.6 118.6,546.4 112.3,542.5 106,540 99.9,533.3 94.1,530.8 88.7,526.8 83.9,521.9 79.8,516.8 76.5,513.2 74.1,514.5 72.7,516 72.2,517.5 72.7,522.4 74.1,523.9 76.5,525.9 79.8,531.1 83.9,534.9 88.7,535.4 94.1,537.1 99.9,540.1 106,540.8 112.3,541.8 118.6,544.3 124.7,545.5 130.5,546.7 135.9,548.1 140.7,552.8 144.8,561.1 148.1,561.5 150.5,564 152,565.6 149.9,532 149.5,530.9 148,529.1 145.7,531.2 142.6,527.5 138.7,525.9 134.1,522.9 128.9,519.2 123.3,515.7 117.5,514.4 111.4,509.9 105.4,506.2 99.6,503.8 94,498.2 88.8,494.8 84.2,488.7 80.3,484.8 77.2,480.7 74.9,483.1 73.4,484.6 73,484.4 73.4,490 74.9,493.1 77.2,496.8 80.3,496.2 84.2,501.6 88.8,503.1 94,505.2 99.6,507.7 105.4,509.6 111.4,510.6 117.5,510.1 123.3,511 128.9,511.8 134.1,517.9 138.7,522 142.6,528.2 145.7,528 148,532.7 149.5,531 147.1,505.6 146.6,506.2 145.3,504.1 143.1,505.9 140.1,502.6 136.4,502.4 132,496.9 127.1,494.6 121.8,492.7 116.2,486.9 110.5,483.7 104.7,481.2 99.2,478 93.9,476.5 89,470 84.6,463.1 80.9,462.6 77.9,459.8 75.7,459.8 74.3,459.4 73.9,461.7 74.3,465.2 75.7,469.7 77.9,470.4 80.9,471.7 84.6,476 89,476.4 93.9,480.1 99.2,483.8 104.7,482.6 110.5,483.6 116.2,486.2 121.8,487.6 127.1,489.2 132,493.6 136.4,496.1 140.1,501.4 143.1,506.9 145.3,505.4 146.6,506.6 143.9,493.4 143.5,491.7 142.2,491.9 140.2,489.6 137.3,487.3 133.8,486.2 129.7,486.4 125.1,481.7 120.1,477.5 114.8,475.1 109.4,472.8 104,468.4 98.7,464.8 93.7,462.4 89.1,457.8 85,455.4 81.5,451.7 78.6,449.9 76.6,448.9 75.3,452 74.9,451.3 75.3,455.1 76.6,453.6 78.6,455.2 81.5,456.9 85,461.4 89.1,464.7 93.7,464.6 98.7,468.7 104,469.5 109.4,472.8 114.8,474.6 120.1,474.4 125.1,475.2 129.7,480.4 133.8,481.4 137.3,484.5 140.2,491.4 142.2,491.7 143.5,493.7 140.8,482.9 140.4,483.7 139.2,482.6 137.2,479.7 134.6,478.2 131.3,476.9 127.4,475 123,472 118.3,469.3 113.4,465.9 108.3,463.5 103.2,459.5 98.3,458.6 93.6,453.3 89.2,449.1 85.4,448.6 82.1,447.2 79.4,442 77.5,443.2 76.3,447.1 75.9,443.7 76.3,444.4 77.5,446.6 79.4,447 82.1,449.9 85.4,453.2 89.2,457.1 93.6,458.5 98.3,459.5 103.2,460.8 108.3,464.6 113.4,466.4 118.3,466.4 123,472.3 127.4,474.1 131.3,475.3 134.6,478.6 137.2,481.2 139.2,484.2 140.4,482.6 137.6,475.1 137.2,472.1 136.1,471.8 134.3,471.3 131.8,468.8 128.7,468.5 125.1,464.7 121,461.9 116.6,460.2 112,455.9 107.2,455.5 102.5,451.3 97.8,448.5 93.4,448.3 89.4,443.9 85.8,441.8 82.7,439.3 80.2,437.3 78.3,435.1 77.2,436.8 76.9,436.3 77.2,439.2 78.3,437.9 80.2,438.8 82.7,440.4 85.8,443.2 89.4,446.3 93.4,449.3 97.8,450.3 102.5,454.7 107.2,456.8 112,455.9 116.6,461.2 121,459.4 125.1,466.2 128.7,466.4 131.8,470.8 134.3,470.9 136.1,473.6 137.2,473 133.8,464.1 133.5,463.9 132.4,462.1 130.8,459.9 128.5,461.3 125.6,458 122.3,457.4 118.6,454.6 114.5,449.5 110.3,452.5 105.9,447.7 101.6,446.3 97.3,442.3 93.3,439.5 89.6,432.6 86.2,435 83.4,431 81.1,430.2 79.4,431.1 78.4,430.1 78.1,428.6 78.4,431 79.4,431.5 81.1,432.3 83.4,435.9 86.2,437 89.6,437.6 93.3,439.5 97.3,443.6 101.6,445.2 105.9,446.8 110.3,450.4 114.5,451.1 118.6,453.9 122.3,455.8 125.6,460.6 128.5,461.7 130.8,461.4 132.4,465.1 133.5,463.9 129.4,458.8 129.1,458.8 128.2,457.7 126.7,457.3 124.6,455.3 122.1,454.2 119.1,452.7 115.8,450.6 112.1,448.6 108.3,445.9 104.4,443.2 100.5,441.4 96.7,438.8 93.1,437.2 89.7,434.8 86.8,432.4 84.2,432 82.2,430 80.7,429.1 79.8,429.5 79.5,429.1 79.8,429.2 80.7,429.2 82.2,430.5 84.2,431.6 86.8,432.9 89.7,434.8 93.1,436.8 96.7,439.2 100.5,441 104.4,443.9 108.3,445.5 112.1,448.4 115.8,450.7 119.1,452.3 122.1,454.1 124.6,456.4 126.7,457 128.2,458.3 129.1,458.7 125,453.2 124.7,453.5 123.9,452.7 122.5,452.1 120.7,450.3 118.5,449.6 115.9,448.3 112.9,446.6 109.7,444.6 106.4,442.2 102.9,440.2 99.5,437.9 96.1,436.1 92.9,434.2 89.9,432.3 87.3,430.9 85.1,429.4 83.3,428.2 81.9,427.4 81.1,427.3 80.9,427.5 81.1,427.4 81.9,427.6 83.3,429.2 85.1,429.7 87.3,430.7 89.9,432.6 92.9,434.6 96.1,435.6 99.5,437.7 102.9,440.3 106.4,441.9 109.7,443.9 112.9,446.6 115.9,447.2 118.5,449.9 120.7,451 122.5,452.3 123.9,452.8 124.7,453.7 119.9,448.3 119.7,447.8 119,447.7 117.9,447.2 116.3,445.7 114.4,445.3 112.2,443.4 109.7,442.3 107,440.5 104.1,438.8 101.2,437 98.2,435.3 95.4,433.8 92.7,432.1 90.2,430.3 87.9,429.2 86,428.3 84.5,427.3 83.4,426.6 82.7,426 82.5,425.8 82.7,426 83.4,426.6 84.5,427.1 86,428.4 87.9,430 90.2,430.5 92.7,432.5 95.4,433.9 98.2,435.7 101.2,436.9 104.1,439.2 107,440.5 109.7,442.3 112.2,444.1 114.4,445.5 116.3,446 117.9,447 119,447.5 119.7,447.6 114.8,443.7 114.6,443.6 114.1,443.4 113.2,442.7 111.9,442.1 110.3,441.3 108.5,439.4 106.4,439.3 104.2,437.3 101.9,435.9 99.4,434.5 97,433.4 94.7,431.7 92.5,430.5 90.4,429.4 88.6,428 87,427.2 85.7,426.5 84.8,425.6 84.2,425.7 84.1,425.2 84.2,425.6 84.8,425.6 85.7,426.3 87,427 88.6,428.3 90.4,429.4 92.5,430.6 94.7,431.6 97,432.9 99.4,434.2 101.9,436.1 104.2,437.4 106.4,439.2 108.5,440.6 110.3,441.3 111.9,442.2 113.2,443.2 114.1,443.9 114.6,443.5 109.1,439.4 109,439.6 108.6,438.1 107.9,438.3 106.9,437.9 105.7,436.9 104.3,436.5 102.8,434.9 101.1,434.8 99.3,433.7 97.5,432.2 95.7,431.3 93.9,429.6 92.2,429.5 90.6,428.3 89.3,427.2 88.1,426.4 87.1,425.7 86.4,425.4 86,424.6 85.8,425.3 86,425.2 86.4,425.3 87.1,426.1 88.1,426.6 89.3,427.4 90.6,428.3 92.2,429.3 93.9,430.2 95.7,431.6 97.5,432.1 99.3,433.8 101.1,433.7 102.8,434.8 104.3,436 105.7,437.2 106.9,438 107.9,438 108.6,438.8 109,438.9 196.1,592.5 195.6,591.8 194,590.9 191.5,590.1 188.1,586.8 183.9,586.5 178.9,582 173.4,580.9 167.3,575.9 161,572.5 154.5,565.9 148,563.1 141.6,559.5 135.6,554 130,550.9 125.1,547.8 120.8,546.2 117.4,545.5 114.9,542.4 113.4,542.8 112.9,543.2 113.4,544 114.9,547.6 117.4,545.2 120.8,551.4 125.1,553.1 130,554.5 135.6,560.3 141.6,560.8 148,563.6 154.5,568.1 161,572.2 167.3,574.3 173.4,579.7 178.9,579 183.9,583.9 188.1,588.9 191.5,590.9 194,591.1 195.6,591.4 193.9,553.1 193.4,551.9 191.9,552 189.5,548.2 186.2,546.2 182.1,541.4 177.3,541.3 171.9,538.4 166.1,535.5 160,530.3 153.7,529 147.4,522.5 141.3,519.6 135.5,517.1 130.1,513.5 125.3,504.5 121.2,499.5 117.9,500.6 115.5,498.9 114.1,498.6 113.6,504 114.1,506.4 115.5,510.6 117.9,512.7 121.2,515.4 125.3,519.6 130.1,521.1 135.5,524 141.3,527 147.4,527.5 153.7,526.4 160,528.6 166.1,530.3 171.9,531.6 177.3,534.9 182.1,541.1 186.2,546.1 189.5,548.5 191.9,549.5 193.4,551.8 191.3,524.2 190.9,525 189.4,522.4 187.1,522.9 184,519.6 180.1,517.4 175.5,516.3 170.3,510.5 164.7,507.5 158.9,506.6 152.8,499.4 146.8,499.2 141,495.5 135.4,491.2 130.2,485.9 125.6,479.8 121.7,477.4 118.6,472.8 116.3,474.2 114.8,474 114.4,475.2 114.8,481 116.3,487.1 118.6,487.9 121.7,491.4 125.6,494.1 130.2,495.1 135.4,499.2 141,500.8 146.8,501 152.8,502 158.9,505.5 164.7,503 170.3,505.3 175.5,508.9 180.1,512.5 184,520.4 187.1,522.5 189.4,522.2 190.9,523.6 188.5,500.6 188,501.5 186.7,501.2 184.5,497.2 181.5,496.4 177.8,494.7 173.4,494.5 168.5,490.6 163.2,488 157.6,481.6 151.9,479 146.1,477.1 140.6,473 135.3,465.9 130.4,464.1 126,461.9 122.3,456.9 119.3,456.3 117.1,456 115.7,455.5 115.3,454.8 115.7,457.8 117.1,462.8 119.3,465.2 122.3,466.8 126,469.7 130.4,474.1 135.3,476.7 140.6,474.5 146.1,477.9 151.9,477.3 157.6,479.8 163.2,480 168.5,485.2 173.4,486.9 177.8,489.2 181.5,495.4 184.5,499.5 186.7,499.2 188,502.1 185.3,487.6 184.9,484.6 183.6,483.4 181.6,482.6 178.7,483.3 175.2,478.4 171.1,476.6 166.5,474.5 161.5,474.3 156.2,467 150.8,463.9 145.4,461.2 140.1,460.8 135.1,456.9 130.5,450.7 126.4,446.6 122.9,443.6 120,443.2 118,441.5 116.7,443.4 116.3,444.8 116.7,446.9 118,448.3 120,450.5 122.9,451.6 126.4,454.6 130.5,457.7 135.1,456.8 140.1,463 145.4,462.7 150.8,463.7 156.2,465.3 161.5,471.3 166.5,469.3 171.1,471.7 175.2,475.6 178.7,483.6 181.6,484 183.6,484.7 184.9,486.2 182.2,472.4 181.8,475.3 180.6,471.7 178.6,471.1 176,473 172.7,469.7 168.8,466.8 164.4,463.5 159.7,459.9 154.8,458.2 149.7,454.2 144.6,453.7 139.7,452.4 135,446.6 130.6,442.7 126.8,439.9 123.5,437.9 120.8,434.5 118.9,432.1 117.7,434.6 117.3,436.7 117.7,438.6 118.9,435.8 120.8,439.6 123.5,441.7 126.8,443.4 130.6,445 135,449.3 139.7,449.5 144.6,451.5 149.7,454.3 154.8,455.5 159.7,459.4 164.4,461.4 168.8,464.1 172.7,465.7 176,470.6 178.6,471.8 180.6,474.4 181.8,474.5 179,467.1 178.6,467.5 177.5,466 175.7,464.8 173.2,463.7 170.1,463.9 166.5,458.4 162.4,457.1 158,454.3 153.4,452.4 148.6,447.2 143.9,446.7 139.2,441.9 134.8,438.8 130.8,436.1 127.2,433.4 124.1,431.5 121.6,432.4 119.7,428.8 118.6,428.4 118.3,429.3 118.6,430 119.7,432.6 121.6,434.5 124.1,433.8 127.2,436 130.8,440.5 134.8,439.9 139.2,443.7 143.9,445.1 148.6,448.4 153.4,449.7 158,452 162.4,454.9 166.5,460.3 170.1,459.1 173.2,463 175.7,465.8 177.5,465 178.6,468.1 175.2,459.6 174.9,458.4 173.8,461 172.2,457.6 169.9,457.4 167,455.2 163.7,454.9 160,451 155.9,448.7 151.7,446 147.3,444 143,440.2 138.7,438.6 134.7,436 131,432.9 127.6,431.6 124.8,429.3 122.5,428.6 120.8,427 119.8,428.2 119.5,426.8 119.8,426.8 120.8,428.8 122.5,429.1 124.8,430.8 127.6,434.6 131,434.1 134.7,435.8 138.7,440.6 143,443.9 147.3,443.9 151.7,447.2 155.9,447 160,450.8 163.7,453.4 167,456.3 169.9,457.7 172.2,459.6 173.8,461.1 174.9,460.3 170.8,453.3 170.5,453.4 169.6,452.4 168.1,451.8 166,450.2 163.5,449.1 160.5,447.1 157.2,445.1 153.5,442.9 149.7,440.7 145.8,438.5 141.9,435.9 138.1,433.8 134.5,431.4 131.1,429.5 128.2,428.3 125.6,426.1 123.6,424.5 122.1,423.9 121.2,423.3 120.9,423.1 121.2,423.6 122.1,424.4 123.6,424.6 125.6,425.8 128.2,427.5 131.1,429.3 134.5,431.3 138.1,433.6 141.9,435.8 145.8,438.2 149.7,440.5 153.5,443.1 157.2,445.2 160.5,446.9 163.5,448.9 166,451 168.1,451.5 169.6,453.1 170.5,452.4 166.4,447.8 166.1,447.6 165.3,447.5 163.9,446.9 162.1,445.5 159.9,444.1 157.3,442.7 154.3,440.7 151.1,438.6 147.8,436.6 144.3,435.1 140.9,433.3 137.5,430.7 134.3,428.9 131.3,426.8 128.7,424.9 126.5,423.6 124.7,422.9 123.3,421.9 122.5,421.2 122.3,421.5 122.5,421.6 123.3,421.9 124.7,423 126.5,424.2 128.7,425.6 131.3,427 134.3,428.9 137.5,430.4 140.9,432.8 144.3,434.3 147.8,436.5 151.1,439.2 154.3,440.4 157.3,442.6 159.9,443.7 162.1,445.3 163.9,446.5 165.3,447.1 166.1,448 161.3,442.7 161.1,442.6 160.4,442.3 159.3,441.5 157.7,441 155.8,439.4 153.6,438.5 151.1,436.5 148.4,434.9 145.5,433.1 142.6,431.8 139.6,429 136.8,428.2 134.1,426.5 131.6,425.2 129.3,423.2 127.4,422.6 125.9,421.3 124.8,421.2 124.1,420.4 123.9,420.5 124.1,420.2 124.8,421 125.9,421.8 127.4,422.4 129.3,424 131.6,425.3 134.1,426.3 136.8,428.7 139.6,429.6 142.6,431.7 145.5,433.6 148.4,435 151.1,436.5 153.6,438.4 155.8,439.6 157.7,440.4 159.3,441.4 160.4,442.3 161.1,442.9 156.2,438.5 156,438.3 155.5,437.6 154.6,437.1 153.3,436.4 151.7,435.2 149.9,434.6 147.8,433.3 145.6,432 143.3,429.9 140.8,429.6 138.4,427.5 136.1,426.1 133.9,424.8 131.8,422.9 130,422.2 128.4,421.4 127.1,421.1 126.2,420.1 125.6,420 125.5,419.8 125.6,419.9 126.2,420.4 127.1,420.6 128.4,421.1 130,422.2 131.8,423.5 133.9,425.4 136.1,425.9 138.4,427.3 140.8,429.1 143.3,430.6 145.6,431.7 147.8,433.5 149.9,434.2 151.7,435.9 153.3,436.8 154.6,437.3 155.5,438.2 156,438.2 150.5,433.5 150.4,433.9 150,433 149.3,433 148.3,432.2 147.1,431.5 145.7,430.9 144.2,430 142.5,429.3 140.7,427.9 138.9,426.9 137.1,425.1 135.3,424.2 133.6,423.9 132,422.3 130.7,421.7 129.5,421.1 128.5,420.3 127.8,419.8 127.4,419.9 127.2,419.8 127.4,419.7 127.8,420.3 128.5,420.4 129.5,421 130.7,421.9 132,422.8 133.6,423.4 135.3,424.3 137.1,425.5 138.9,426.9 140.7,427.5 142.5,428.8 144.2,429.7 145.7,430.4 147.1,431.9 148.3,432.3 149.3,433.1 150,433.5 150.4,433 274.9,581.6 274.4,582.8 272.9,581.5 270.4,579.4 267,577.4 262.7,573.5 257.8,570.6 252.2,571.7 246.2,563.2 239.8,561.7 233.3,558.1 226.8,551.7 220.5,550.3 214.4,547.7 208.9,544 203.9,538.3 199.7,533.9 196.3,531.2 193.8,532.1 192.2,532 191.7,531 192.2,533.8 193.8,533.3 196.3,536.6 199.7,539.3 203.9,542.4 208.9,544.1 214.4,548 220.5,551.9 226.8,554.1 233.3,557.8 239.8,559.4 246.2,563 252.2,567 257.8,570.3 262.7,573.8 267,574.9 270.4,579.6 272.9,581.5 274.4,582.4 272.7,550.8 272.2,551.2 270.8,550.6 268.3,549.1 265,547.2 261,543.6 256.2,540.9 250.8,540.3 245,535.9 238.9,534.2 232.6,526.6 226.3,521.6 220.2,518.4 214.3,515.9 209,510 204.2,506.1 200.1,501.8 196.8,501.7 194.4,500.1 192.9,501.6 192.4,502.4 192.9,503.9 194.4,509.7 196.8,511.9 200.1,514.5 204.2,520.1 209,521.8 214.3,523 220.2,526.7 226.3,526.8 232.6,527.7 238.9,528.5 245,530 250.8,531.2 256.2,536.5 261,539.2 265,547.8 268.3,548.3 270.8,549.4 272.2,552.1 270.2,522.3 269.7,519.4 268.3,520 266,517.4 262.8,514.8 258.9,513.8 254.3,510.8 249.2,507.3 243.6,503.9 237.7,501.6 231.7,497.7 225.7,492.6 219.8,489.8 214.2,486.8 209.1,483.1 204.5,476.3 200.6,473.5 197.4,472 195.1,469.1 193.7,472.7 193.2,473.7 193.7,479.3 195.1,479.9 197.4,484.4 200.6,482.7 204.5,491.5 209.1,491.8 214.2,492.4 219.8,494.1 225.7,498.8 231.7,496.9 237.7,496.5 243.6,500.4 249.2,500.5 254.3,505.2 258.9,510.9 262.8,515.4 266,518.5 268.3,520.9 269.7,517.8 267.3,494.8 266.9,494.8 265.5,491.6 263.4,491.5 260.3,488.3 256.6,487.9 252.3,484.4 247.4,482.1 242,478.7 236.5,476.2 230.7,471.9 225,466.3 219.4,465.9 214.1,462.6 209.2,458.4 204.8,451.6 201.1,448.8 198.1,446.7 195.9,449 194.6,447.6 194.1,450 194.6,452.6 195.9,454.7 198.1,459.7 201.1,460.2 204.8,463.7 209.2,467.2 214.1,467.2 219.4,467.7 225,471.2 230.7,471.3 236.5,474.1 242,475.6 247.4,477.9 252.3,480.9 256.6,482.4 260.3,487.6 263.4,492.5 265.5,491.5 266.9,493.8 264.2,476.8 263.8,475.4 262.5,476.4 260.4,475.7 257.6,470.5 254.1,472.3 249.9,467.2 245.3,467 240.3,462.1 235.1,459.2 229.7,456 224.2,454.9 219,449.3 214,446.2 209.4,443.7 205.2,437.9 201.7,433.6 198.9,434.4 196.8,432.4 195.5,434.9 195.1,434.4 195.5,436.1 196.8,436.1 198.9,440.2 201.7,443.4 205.2,444.5 209.4,448.6 214,448.9 219,452.6 224.2,454.8 229.7,454.2 235.1,457.1 240.3,457.5 245.3,463 249.9,464.4 254.1,468.1 257.6,471.9 260.4,477 262.5,473.9 263.8,475.8 261,464.9 260.6,465.1 259.4,464 257.5,460.4 254.8,460.4 251.5,458.6 247.6,454.6 243.3,452.6 238.6,450.2 233.6,446.6 228.6,443.9 223.5,440.1 218.5,440 213.8,435.7 209.5,432.3 205.6,428.4 202.3,426.7 199.7,425.8 197.7,424.5 196.5,422.8 196.1,425.4 196.5,427.8 197.7,427.6 199.7,428.3 202.3,431.7 205.6,434 209.5,437 213.8,438.1 218.5,439 223.5,441.8 228.6,444.1 233.6,447 238.6,450 243.3,450.2 247.6,453.1 251.5,455 254.8,456.9 257.5,461.9 259.4,461.8 260.6,464.4 257.9,455.2 257.5,454.9 256.4,454.1 254.5,453.4 252.1,452.8 249,449.5 245.3,449.6 241.3,445.4 236.9,442.2 232.2,441.6 227.5,438.9 222.7,434.4 218.1,431.9 213.7,429.2 209.6,426.3 206,424.1 202.9,420.9 200.4,418.9 198.6,419.8 197.5,419.4 197.1,421.1 197.5,418.9 198.6,419.4 200.4,424.6 202.9,423.1 206,426.4 209.6,429.2 213.7,431.8 218.1,434.7 222.7,436.6 227.5,437.8 232.2,439.4 236.9,442.6 241.3,444 245.3,447.5 249,451.4 252.1,451.1 254.5,452.5 256.4,456.4 257.5,453.6 254.1,449.9 253.7,450 252.7,446.9 251,451.4 248.7,449.6 245.9,444.4 242.6,444.6 238.8,442.2 234.8,437.1 230.6,436 226.2,435.1 221.8,431.8 217.6,426.8 213.5,424 209.8,425.4 206.5,420.6 203.6,420.1 201.4,420.4 199.7,417 198.7,418.7 198.3,417.4 198.7,415.5 199.7,417.9 201.4,418.5 203.6,420.4 206.5,422.7 209.8,423.4 213.5,427.4 217.6,428.8 221.8,430.2 226.2,434.4 230.6,436.3 234.8,436.4 238.8,438.6 242.6,443.6 245.9,446 248.7,445.9 251,447.4 252.7,450.4 253.7,450 249.6,442.4 249.3,442.5 248.4,441.9 246.9,440.7 244.9,439.8 242.3,438.7 239.3,437.1 236,434.5 232.4,432.7 228.6,429.9 224.7,428.1 220.8,425.5 217,423.5 213.3,421 210,419 207,416.9 204.5,415.2 202.4,414.4 200.9,413.7 200,412.3 199.7,412.6 200,412.7 200.9,413.3 202.4,413.9 204.5,415.3 207,416.9 210,418.7 213.3,421.2 217,423.2 220.8,425.4 224.7,427.7 228.6,430 232.4,432.2 236,434.5 239.3,436.6 242.3,438.8 244.9,439.6 246.9,440.9 248.4,442.2 249.3,442.3 245.2,437.3 244.9,437.3 244.1,437.4 242.8,436.4 241,435.1 238.8,433.1 236.1,432.3 233.2,430.3 230,428.6 226.6,426.4 223.2,424.1 219.7,422.8 216.3,421 213.2,418 210.2,416.4 207.6,415.1 205.3,413.2 203.5,412.1 202.2,412.3 201.4,411.2 201.1,410.7 201.4,411.4 202.2,411.7 203.5,412.2 205.3,413.6 207.6,415.2 210.2,416.7 213.2,418.6 216.3,420 219.7,422.7 223.2,423.9 226.6,426.8 230,428.3 233.2,430.7 236.1,432.1 238.8,433.3 241,434.6 242.8,435.6 244.1,436.8 244.9,437.3 240.2,432.2 239.9,432 239.2,431.9 238.1,430.7 236.6,430.1 234.7,428.7 232.4,427.5 229.9,426 227.2,424.8 224.4,423 221.4,421.5 218.5,419.4 215.6,417.7 212.9,415.7 210.4,414.9 208.2,412.2 206.3,412 204.8,410.7 203.6,410.1 202.9,410.7 202.7,409.9 202.9,409.5 203.6,411.1 204.8,410.8 206.3,412.3 208.2,413.3 210.4,414.4 212.9,416.5 215.6,417.5 218.5,419.5 221.4,421.3 224.4,422.6 227.2,423.5 229.9,426.1 232.4,427.5 234.7,429 236.6,430.4 238.1,431 239.2,431.3 239.9,432.1 235.1,427.5 234.9,427.7 234.3,426.6 233.4,427.3 232.2,425.8 230.6,424.9 228.7,423.9 226.7,423.1 224.5,421.7 222.1,420 219.7,418.5 217.3,417.5 214.9,416 212.7,414.2 210.7,412.8 208.8,412.2 207.2,411.3 206,410.5 205.1,409 204.5,409.3 204.3,409.3 204.5,409.1 205.1,409.1 206,410 207.2,411.5 208.8,412 210.7,413.2 212.7,414.4 214.9,416 217.3,417.2 219.7,418.9 222.1,419.9 224.5,421.4 226.7,423.2 228.7,424.5 230.6,425.2 232.2,425.8 233.4,426.6 234.3,427.3 234.9,428.7 229.4,423.3 229.3,423.3 228.8,422.9 228.1,422.8 227.2,421.9 226,421.3 224.6,419.4 223,419.1 221.4,418.4 219.6,417.3 217.8,416.2 215.9,415 214.2,414.1 212.5,413 210.9,411.7 209.5,411 208.3,410.4 207.4,409.5 206.7,409.5 206.2,409.6 206.1,409.7 206.2,409.5 206.7,409.5 207.4,409.8 208.3,410.2 209.5,411.4 210.9,412.3 212.5,412.8 214.2,413.6 215.9,415.2 217.8,416.1 219.6,416.8 221.4,418.2 223,419.4 224.6,420.9 226,420.7 227.2,421.6 228.1,422.3 228.8,422.9 229.3,423.4 314.4,580.9 313.8,579.2 312.3,580.6 309.8,575.5 306.4,576.5 302.2,571 297.2,569.7 291.6,565.9 285.6,563.2 279.3,558.4 272.8,554.5 266.2,548.9 259.9,546.7 253.9,543.1 248.3,537.7 243.3,536.4 239.1,530.9 235.7,530.6 233.2,531.2 231.7,528.7 231.2,530.3 231.7,528.3 233.2,533.2 235.7,534.7 239.1,536.7 243.3,542.7 248.3,541.7 253.9,546.2 259.9,547.2 266.2,549.3 272.8,554.2 279.3,559.7 285.6,561.1 291.6,564.3 297.2,566.8 302.2,571.9 306.4,576.5 309.8,577.3 312.3,579.7 313.8,577.1 312.1,540.7 311.6,539.4 310.2,538 307.8,538.1 304.5,535.6 300.4,532 295.6,530.2 290.2,526 284.4,520.9 278.3,518.9 272,517.1 265.7,511.6 259.6,506.7 253.8,505.3 248.4,499.8 243.6,493.8 239.5,489.3 236.2,488 233.8,487.9 232.4,490 231.9,490.7 232.4,495.8 233.8,495.1 236.2,500.1 239.5,503.3 243.6,506 248.4,508.3 253.8,510.3 259.6,512.7 265.7,515.3 272,516.3 278.3,517.5 284.4,516.5 290.2,520.6 295.6,523.9 300.4,528.3 304.5,533.1 307.8,533.9 310.2,539.6 311.6,538.3 309.6,507.9 309.1,507.9 307.7,506.4 305.4,507.4 302.3,503.2 298.3,501.1 293.8,500.2 288.6,493.3 283,490.6 277.2,487.8 271.1,487.2 265.1,481.6 259.2,478.1 253.7,473.7 248.5,468.4 243.9,466.4 240,460 236.8,457.9 234.5,456.7 233.1,459.9 232.7,463.6 233.1,465.1 234.5,469.5 236.8,471.7 240,473.8 243.9,478.4 248.5,478.2 253.7,482.7 259.2,480.3 265.1,482.8 271.1,484.1 277.2,486.8 283,489.7 288.6,489.9 293.8,492.6 298.3,494.8 302.3,500.7 305.4,506.5 307.7,505.9 309.1,506.6 306.8,482.9 306.3,482.2 305,482.2 302.8,481.5 299.8,480.5 296,477.7 291.7,473.2 286.8,473.3 281.5,470.3 275.9,464 270.2,465 264.4,455.9 258.8,454.8 253.5,451.2 248.6,445.4 244.3,444.1 240.5,440.5 237.5,434.4 235.3,437.4 234,437.7 233.6,439.5 234,440.5 235.3,442.7 237.5,446.8 240.5,450.1 244.3,453.1 248.6,454.1 253.5,455.3 258.8,458.2 264.4,458 270.2,462.3 275.9,462.5 281.5,461.9 286.8,464.3 291.7,468.9 296,475 299.8,479.2 302.8,481.3 305,481.9 306.3,483.6 303.6,472.3 303.2,471.5 301.9,469 299.8,467.6 297,468.4 293.5,464.8 289.4,464.3 284.8,459.9 279.7,452.3 274.5,453.2 269.1,450.5 263.7,447.1 258.4,445.3 253.4,442.5 248.8,437.6 244.7,433 241.1,427.4 238.3,429.6 236.2,427.1 235,426.6 234.6,431.4 235,430.7 236.2,435.1 238.3,434.8 241.1,435.8 244.7,440 248.8,441.4 253.4,444.9 258.4,446.6 263.7,446.9 269.1,450.2 274.5,451.8 279.7,452.5 284.8,455.1 289.4,460.4 293.5,461.8 297,467.1 299.8,467.3 301.9,468.8 303.2,470 300.4,459.9 300,463.2 298.9,461.5 296.9,460.9 294.2,457.5 290.9,455.4 287.1,453.6 282.7,452.3 278,448.8 273.1,445.6 268,441.5 262.9,439 258,434.2 253.3,432.3 248.9,432.2 245.1,426.5 241.7,425.9 239.1,421 237.1,420.2 235.9,421.5 235.6,422.4 235.9,425.8 237.1,428.6 239.1,428 241.7,429.4 245.1,433.9 248.9,433.4 253.3,435.6 258,436.8 262.9,438.4 268,440.7 273.1,443.8 278,446.7 282.7,448 287.1,452.4 290.9,452 294.2,456.3 296.9,459.6 298.9,461.6 300,456.4 297.3,451.2 296.9,450.3 295.8,449.7 294,449.3 291.5,447.6 288.4,445.6 284.8,445.8 280.7,440.4 276.3,440.9 271.7,435.7 266.9,433.1 262.2,432.6 257.5,425.5 253.1,427.3 249.1,421.3 245.4,420.6 242.3,416.9 239.9,416.6 238,412.5 236.9,414.1 236.5,413.2 236.9,415.1 238,416.6 239.9,418.5 242.3,420.5 245.4,421.7 249.1,423.9 253.1,426.8 257.5,431 262.2,432.3 266.9,432.7 271.7,436.7 276.3,438 280.7,441 284.8,444.9 288.4,446.9 291.5,449.9 294,450.4 295.8,451.6 296.9,449.7 293.5,443.8 293.1,445 292.1,440.9 290.5,441.1 288.2,439.8 285.3,434.6 282,434 278.3,431.9 274.2,429.8 270,428.9 265.6,424.4 261.3,423.2 257,421.9 253,417.8 249.2,414 245.9,411.4 243.1,412.6 240.8,409 239.1,410 238.1,408.1 237.7,410.2 238.1,408.1 239.1,410.9 240.8,411.8 243.1,413 245.9,414.9 249.2,417.5 253,420.6 257,419.2 261.3,424 265.6,428.1 270,431.3 274.2,434.4 278.3,433.8 282,433.3 285.3,438.8 288.2,439.2 290.5,442.9 292.1,440.1 293.1,441.9 289.1,437 288.8,437.2 287.8,436.5 286.3,435.8 284.3,434.5 281.8,432.4 278.8,431.6 275.4,429.2 271.8,427.2 268,424.5 264.1,421.8 260.2,420.2 256.4,418.7 252.8,415.4 249.4,413.4 246.5,412.4 243.9,410.4 241.9,409.1 240.4,408.9 239.5,407.4 239.1,407.3 239.5,407.6 240.4,408.5 241.9,409.3 243.9,410.5 246.5,411.7 249.4,413.9 252.8,415.2 256.4,417.7 260.2,420.8 264.1,421.9 268,424.7 271.8,427.2 275.4,429.2 278.8,431.8 281.8,432.9 284.3,435.3 286.3,436.1 287.8,436.2 288.8,436.8 284.6,432.3 284.4,432.3 283.6,431.2 282.2,430.7 280.4,429.6 278.2,428.1 275.5,427.1 272.6,424.7 269.4,423.7 266,420.6 262.6,419.4 259.1,417.1 255.8,415.1 252.6,412.7 249.6,410.9 247,409.5 244.8,408.1 242.9,407 241.6,406.4 240.8,406.5 240.5,406.4 240.8,406.6 241.6,406.4 242.9,407.2 244.8,408.3 247,409.5 249.6,411.3 252.6,413.3 255.8,415.3 259.1,417.5 262.6,418.6 266,420.7 269.4,423.5 272.6,425 275.5,426.6 278.2,427.8 280.4,429.8 282.2,430.7 283.6,431.2 284.4,432.6 279.6,427.3 279.3,426.9 278.7,426.7 277.5,425.1 276,424.6 274.1,423.7 271.9,422.7 269.4,420.6 266.6,419.1 263.8,417.7 260.9,415.9 257.9,414.5 255.1,412.4 252.4,410.4 249.9,408.9 247.6,407.7 245.7,406.5 244.2,406 243.1,405.3 242.4,404.3 242.1,404.4 242.4,405 243.1,405 244.2,405.5 245.7,406.5 247.6,407.8 249.9,409.4 252.4,410.6 255.1,411.8 257.9,414 260.9,416 263.8,417.5 266.6,419.7 269.4,420.8 271.9,422.5 274.1,423.4 276,424.9 277.5,425.5 278.7,425.8 279.3,427 274.5,422.8 274.3,422.2 273.8,422.1 272.8,421.4 271.6,420.9 270,419.6 268.2,418.7 266.1,418.1 263.9,416.2 261.5,414.6 259.1,412.9 256.7,412 254.4,410.7 252.1,408.7 250.1,408 248.2,406.7 246.7,405.6 245.4,404.8 244.5,404.5 243.9,404.5 243.7,403.7 243.9,404.3 244.5,404.6 245.4,404.4 246.7,405.5 248.2,407.1 250.1,408 252.1,409.2 254.4,410.6 256.7,412.4 259.1,413 261.5,414.5 263.9,416 266.1,417.6 268.2,418.6 270,419.6 271.6,421.1 272.8,421.6 273.8,422.2 274.3,422.2 268.8,417.8 268.7,418.2 268.3,417.7 267.6,416.6 266.6,416.8 265.4,415.8 264,415.2 262.5,413.7 260.8,413.1 259,412.1 257.2,411.3 255.4,409.9 253.6,408.5 251.9,407.5 250.3,407.2 248.9,405.5 247.8,405.3 246.8,405 246.1,404.2 245.7,404.2 245.5,404.1 245.7,404.2 246.1,404.3 246.8,404.8 247.8,405.8 248.9,405.8 250.3,407 251.9,407.3 253.6,408.6 255.4,409.6 257.2,410.8 259,411.6 260.8,413.2 262.5,414.4 264,414.9 265.4,416.7 266.6,416.7 267.6,417.1 268.3,417.7 268.7,417.4" fill="none" stroke="none" marker-start="url(#gs)" marker-mid="url(#gs)" marker-end="url(#gs)"/>
<polyline points="591.2,504.1 590.7,503.8 589.1,503.1 586.4,501.9 582.9,500.2 578.4,498.1 573.2,495.7 567.4,493 561.1,490 554.4,486.9 547.6,483.7 540.8,480.5 534.1,477.4 527.8,474.4 522,471.7 516.8,469.3 512.3,467.2 508.8,465.5 506.1,464.3 504.5,463.6 504,463.3 504.5,463.6 506.1,464.3 508.8,465.5 512.3,467.2 516.8,469.3 522,471.7 527.8,474.4 534.1,477.4 540.8,480.5 547.6,483.7 554.4,486.9 561.1,490 567.4,493 573.2,495.7 578.4,498.1 582.9,500.2 586.4,501.9 589.1,503.1 590.7,503.8 588.9,494.1 588.4,493.8 586.8,493.1 584.3,491.9 580.8,490.3 576.6,488.3 571.5,486 565.9,483.3 559.8,480.5 553.4,477.5 546.8,474.4 540.2,471.3 533.8,468.3 527.7,465.5 522.1,462.8 517.1,460.5 512.8,458.5 509.3,456.8 506.8,455.7 505.3,454.9 504.7,454.7 505.3,454.9 506.8,455.7 509.3,456.8 512.8,458.5 517.1,460.5 522.1,462.8 527.7,465.5 533.8,468.3 540.2,471.3 546.8,474.4 553.4,477.5 559.8,480.5 565.9,483.3 571.5,486 576.6,488.3 580.8,490.3 584.3,491.9 586.8,493.1 588.4,493.8 586.2,483.9 585.7,483.7 584.3,483 581.8,481.8 578.5,480.3 574.4,478.4 569.6,476.1 564.2,473.6 558.4,470.9 552.2,468 545.9,465 539.6,462.1 533.4,459.2 527.6,456.5 522.2,453.9 517.4,451.7 513.3,449.8 510,448.2 507.5,447.1 506.1,446.4 505.6,446.2 506.1,446.4 507.5,447.1 510,448.2 513.3,449.8 517.4,451.7 522.2,453.9 527.6,456.5 533.4,459.2 539.6,462.1 545.9,465 552.2,468 558.4,470.9 564.2,473.6 569.6,476.1 574.4,478.4 578.5,480.3 581.8,481.8 584.3,483 585.7,483.7 583.2,474.6 582.8,474.3 581.4,473.6 579.1,472.5 575.9,471 572,469.2 567.4,467 562.3,464.7 556.7,462.1 550.9,459.4 544.9,456.6 538.9,453.8 533,451.2 527.5,448.6 522.3,446.3 517.7,444.2 513.8,442.5 510.7,441.1 508.4,440.1 507,439.5 506.5,439.3 507,439.6 508.4,440.3 510.7,441.4 513.8,442.9 517.7,444.7 522.3,446.9 527.5,449.2 533,451.8 538.9,454.5 544.9,457.3 550.9,460 556.7,462.7 562.3,465.3 567.4,467.6 572,469.7 575.9,471.4 579.1,472.8 581.4,473.8 582.8,474.4 579.9,466.3 579.5,465.9 578.2,465.2 576,464.1 573,462.6 569.3,460.9 565,458.9 560.2,456.6 554.9,454.2 549.4,451.8 543.7,449.2 538.1,446.7 532.6,444.3 527.3,442.1 522.5,440 518.2,438.2 514.5,436.6 511.5,435.5 509.3,434.6 508,434.2 507.6,434.2 508,434.5 509.3,435.2 511.5,436.3 514.5,437.8 518.2,439.5 522.5,441.6 527.3,443.8 532.6,446.2 538.1,448.7 543.7,451.2 549.4,453.7 554.9,456.1 560.2,458.4 565,460.4 569.3,462.3 573,463.8 576,465 578.2,465.8 579.5,466.2 576.6,460 576.2,459.6 575,458.9 572.9,457.8 570.1,456.4 566.7,454.7 562.6,452.9 558.1,450.8 553.1,448.6 547.9,446.3 542.6,444 537.3,441.7 532.1,439.5 527.2,437.4 522.6,435.6 518.6,434 515.1,432.6 512.3,431.6 510.3,430.9 509,430.6 508.6,430.6 509,431 510.3,431.7 512.3,432.8 515.1,434.2 518.6,435.9 522.6,437.8 527.2,439.8 532.1,442.1 537.3,444.3 542.6,446.7 547.9,448.9 553.1,451.1 558.1,453.2 562.6,455 566.7,456.7 570.1,458 572.9,459 575,459.7 576.2,460 573.3,455.5 572.9,455.1 571.7,454.4 569.8,453.3 567.2,452 564,450.5 560.2,448.7 555.9,446.8 551.3,444.7 546.5,442.6 541.5,440.5 536.5,438.4 531.6,436.4 527,434.5 522.8,432.8 519,431.4 515.7,430.2 513.1,429.3 511.2,428.7 510,428.4 509.7,428.5 510,428.9 511.2,429.6 513.1,430.6 515.7,432 519,433.5 522.8,435.3 527,437.2 531.6,439.3 536.5,441.4 541.5,443.5 546.5,445.6 551.3,447.6 555.9,449.5 560.2,451.2 564,452.6 567.2,453.8 569.8,454.7 571.7,455.3 572.9,455.6 569.3,451.8 569,451.4 567.9,450.7 566.1,449.8 563.8,448.6 560.8,447.1 557.3,445.5 553.4,443.7 549.1,441.9 544.7,439.9 540.1,438 535.5,436.1 531.1,434.2 526.9,432.5 522.9,431 519.5,429.7 516.5,428.6 514.1,427.8 512.3,427.3 511.3,427.1 510.9,427.2 511.3,427.5 512.3,428.2 514.1,429.2 516.5,430.4 519.5,431.8 522.9,433.4 526.9,435.2 531.1,437.1 535.5,439 540.1,441 544.7,442.9 549.1,444.7 553.4,446.4 557.3,447.9 560.8,449.2 563.8,450.3 566.1,451.1 567.9,451.7 569,451.9 564.7,448.6 564.4,448.2 563.4,447.6 561.8,446.7 559.7,445.7 557,444.4 553.9,442.9 550.4,441.3 546.6,439.7 542.6,437.9 538.5,436.2 534.4,434.5 530.4,432.8 526.7,431.3 523.2,430 520,428.8 517.4,427.8 515.2,427.1 513.7,426.6 512.7,426.4 512.4,426.5 512.7,426.8 513.7,427.4 515.2,428.3 517.4,429.4 520,430.7 523.2,432.1 526.7,433.7 530.4,435.4 534.4,437.1 538.5,438.9 542.6,440.6 546.6,442.2 550.4,443.7 553.9,445.1 557,446.3 559.7,447.2 561.8,448 563.4,448.4 564.4,448.6 560.1,445.9 559.8,445.6 558.9,445 557.5,444.3 555.6,443.3 553.3,442.2 550.5,440.9 547.4,439.5 544.1,438 540.6,436.5 536.9,434.9 533.3,433.4 529.8,432 526.5,430.6 523.4,429.4 520.6,428.4 518.2,427.5 516.4,426.9 515,426.5 514.1,426.3 513.8,426.4 514.1,426.7 515,427.2 516.4,428 518.2,428.9 520.6,430.1 523.4,431.3 526.5,432.7 529.8,434.2 533.3,435.8 536.9,437.3 540.6,438.8 544.1,440.3 547.4,441.6 550.5,442.8 553.3,443.8 555.6,444.7 557.5,445.3 558.9,445.7 559.8,445.9 554.8,443.2 554.5,443 553.8,442.5 552.6,441.9 551,441.1 549,440.1 546.7,439 544,437.8 541.2,436.6 538.2,435.3 535.1,434 532.1,432.7 529.1,431.5 526.2,430.3 523.6,429.3 521.3,428.4 519.3,427.7 517.6,427.1 516.5,426.8 515.8,426.6 515.5,426.7 515.8,427 516.5,427.4 517.6,428.1 519.3,428.9 521.3,429.8 523.6,430.9 526.2,432.1 529.1,433.4 532.1,434.7 535.1,436 538.2,437.3 541.2,438.5 544,439.6 546.7,440.6 549,441.5 551,442.3 552.6,442.8 553.8,443.1 554.5,443.3 549.4,440.8 549.3,440.5 548.7,440.2 547.7,439.6 546.4,439 544.7,438.2 542.8,437.3 540.6,436.3 538.3,435.3 535.8,434.2 533.3,433.1 530.8,432.1 528.3,431.1 526,430.1 523.8,429.3 521.9,428.6 520.3,428 518.9,427.5 518,427.2 517.4,427.1 517.2,427.2 517.4,427.4 518,427.7 518.9,428.3 520.3,428.9 521.9,429.7 523.8,430.6 526,431.6 528.3,432.6 530.8,433.7 533.3,434.8 535.8,435.8 538.3,436.8 540.6,437.8 542.8,438.6 544.7,439.4 546.4,439.9 547.7,440.4 548.7,440.7 549.3,440.8 543.5,438.1 543.3,437.9 542.9,437.7 542.2,437.3 541.2,436.7 539.9,436.1 538.5,435.5 536.8,434.7 535,433.9 533.2,433.1 531.3,432.3 529.4,431.5 527.5,430.8 525.7,430.1 524.1,429.4 522.6,428.9 521.4,428.4 520.4,428.1 519.7,427.9 519.2,427.8 519.1,427.8 519.2,428 519.7,428.2 520.4,428.6 521.4,429.2 522.6,429.8 524.1,430.4 525.7,431.2 527.5,432 529.4,432.8 531.3,433.6 533.2,434.4 535,435.1 536.8,435.8 538.5,436.5 539.9,437 541.2,437.5 542.2,437.8 542.9,438 543.3,438.1" fill="none" stroke="none" marker-start="url(#rd)" marker-mid="url(#rd)" marker-end="url(#rd)"/>
<polyline points="591.2,498.6 590.7,497.6 589.1,497.3 586.4,495.4 582.9,493.8 578.4,492.1 573.2,489.8 567.4,486.9 561.1,484.7 554.4,481 547.6,477.8 540.8,474.9 534.1,471.5 527.8,469.1 522,465.6 516.8,463 512.3,461.8 508.8,459.7 506.1,457.9 504.5,457.6 504,457.8 504.5,458.1 506.1,458.2 508.8,459.1 512.3,461.8 516.8,463.4 522,466.2 527.8,468.7 534.1,471.5 540.8,474.7 547.6,478.1 554.4,480.3 561.1,484.2 567.4,487.2 573.2,489.5 578.4,492.3 582.9,494.5 586.4,495.7 589.1,497.7 590.7,497.8 588.9,489.3 588.4,489.2 586.8,488.8 584.3,487.6 580.8,486.6 576.6,484 571.5,481.5 565.9,478.7 559.8,476.1 553.4,473.2 546.8,470.3 540.2,467 533.8,463.9 527.7,460.7 522.1,458.5 517.1,456.3 512.8,454.1 509.3,452.7 506.8,451.4 505.3,451.4 504.7,450.9 505.3,451 506.8,451.1 509.3,452.5 512.8,454 517.1,455.7 522.1,458.8 527.7,460.7 533.8,463.8 540.2,467.2 546.8,469.5 553.4,473.6 559.8,476.5 565.9,479 571.5,481.5 576.6,484 580.8,486.7 584.3,487.7 586.8,488.8 588.4,488.6 586.2,481.2 585.7,481.4 584.3,481.1 581.8,479.5 578.5,478.5 574.4,476.1 569.6,473.7 564.2,471.5 558.4,468.5 552.2,465.8 545.9,463 539.6,459.3 533.4,456.7 527.6,454.3 522.2,452 517.4,449.4 513.3,447.3 510,445.7 507.5,444.3 506.1,444 505.6,444.3 506.1,443.4 507.5,444.4 510,445.7 513.3,447 517.4,450 522.2,451.8 527.6,454.4 533.4,456.5 539.6,460.2 545.9,462.9 552.2,465.2 558.4,468.4 564.2,471.5 569.6,473.2 574.4,476.6 578.5,477.9 581.8,479.7 584.3,480.5 585.7,481.5 583.2,472.8 582.8,472.2 581.4,472 579.1,470.3 575.9,469.1 572,466.8 567.4,465.1 562.3,462.8 556.7,459.9 550.9,456.9 544.9,455.3 538.9,451.8 533,448.9 527.5,447.1 522.3,444.6 517.7,442 513.8,440.7 510.7,439.2 508.4,437.4 507,437.8 506.5,437.6 507,438.3 508.4,438.6 510.7,439.8 513.8,440.2 517.7,442.2 522.3,445.3 527.5,446.5 533,449.5 538.9,452.5 544.9,455 550.9,457.9 556.7,460.9 562.3,463.8 567.4,465.9 572,467.6 575.9,469.5 579.1,471 581.4,471.4 582.8,472.8 579.9,465 579.5,465.1 578.2,464.1 576,463.5 573,461.6 569.3,460.2 565,458.5 560.2,455.6 554.9,453.3 549.4,450.5 543.7,448.1 538.1,446.1 532.6,443.5 527.3,441.9 522.5,439.4 518.2,436.7 514.5,435.1 511.5,434.2 509.3,433.5 508,433 507.6,433 508,434.1 509.3,434.6 511.5,434.9 514.5,436.4 518.2,438.5 522.5,440.7 527.3,442.9 532.6,445.4 538.1,448 543.7,450.9 549.4,452.6 554.9,455.3 560.2,457.4 565,458.8 569.3,461 573,463 576,463.8 578.2,465.3 579.5,464.9 576.6,459.9 576.2,459.6 575,458.6 572.9,457.2 570.1,456.5 566.7,455 562.6,452 558.1,450.7 553.1,448 547.9,446.5 542.6,443.8 537.3,441.8 532.1,439.2 527.2,437.5 522.6,435.8 518.6,433.4 515.1,432.4 512.3,432.3 510.3,430.9 509,430.9 508.6,431 509,431.2 510.3,431.9 512.3,432.8 515.1,434.4 518.6,436.5 522.6,437.9 527.2,439.5 532.1,442.5 537.3,444.1 542.6,446.4 547.9,449 553.1,451 558.1,453.4 562.6,455.1 566.7,457 570.1,457.8 572.9,458.5 575,459.9 576.2,459.6 573.3,455.8 572.9,455 571.7,454.3 569.8,452.3 567.2,451.8 564,449.8 560.2,449 555.9,446.3 551.3,444.1 546.5,442.2 541.5,441 536.5,437.9 531.6,435.7 527,433.6 522.8,432.2 519,431.5 515.7,429.8 513.1,428.5 511.2,428.5 510,427.8 509.7,428.2 510,428.4 511.2,428.9 513.1,430.5 515.7,430.5 519,433 522.8,434.7 527,437.1 531.6,438.8 536.5,441.1 541.5,443.6 546.5,445.7 551.3,447.1 555.9,449.1 560.2,451.7 564,453 567.2,453.5 569.8,454.3 571.7,454.7 572.9,455.6 569.3,451.8 569,451.7 567.9,451.1 566.1,450 563.8,448.4 560.8,447.1 557.3,445.4 553.4,444.2 549.1,442.1 544.7,440.5 540.1,438.3 535.5,436.4 531.1,434.6 526.9,432.5 522.9,431 519.5,429.6 516.5,428.8 514.1,427.6 512.3,427.4 511.3,426.9 510.9,427.1 511.3,427.5 512.3,428.4 514.1,429.8 516.5,431.1 519.5,431.3 522.9,433.5 526.9,435.2 531.1,437.3 535.5,439.4 540.1,440.1 544.7,443.5 549.1,444.9 553.4,446.6 557.3,448.5 560.8,449.9 563.8,450.7 566.1,451.4 567.9,452 569,451.8 564.7,449.2 564.4,448.3 563.4,447.3 561.8,446.6 559.7,446.3 557,445.6 553.9,442.8 550.4,441.4 546.6,440.1 542.6,437.7 538.5,436.5 534.4,434.6 530.4,433.4 526.7,431.4 523.2,430.3 520,429.2 517.4,427.6 515.2,427.2 513.7,427.3 512.7,426.4 512.4,426.4 512.7,427.3 513.7,427.8 515.2,428.5 517.4,429.7 520,430.8 523.2,432.1 526.7,434.1 530.4,434.8 534.4,437.6 538.5,439.3 542.6,440.1 546.6,441.6 550.4,443.9 553.9,445.4 557,446.9 559.7,447 561.8,448.1 563.4,448.9 564.4,448.7 560.1,444.9 559.8,444.9 558.9,443.8 557.5,443.4 555.6,442.7 553.3,441.7 550.5,440.3 547.4,438.6 544.1,437.3 540.6,435.7 536.9,434.4 533.3,432.7 529.8,431.1 526.5,430.3 523.4,429.5 520.6,427.3 518.2,426.9 516.4,426.6 515,426 514.1,426 513.8,426.5 514.1,426.3 515,427.3 516.4,427.5 518.2,428.5 520.6,429.2 523.4,431 526.5,432.2 529.8,433.9 533.3,435.5 536.9,437.4 540.6,438 544.1,439.8 547.4,441.4 550.5,442.3 553.3,443.6 555.6,444.5 557.5,444.8 558.9,444.9 559.8,445.6 554.8,444.1 554.5,443.6 553.8,442.3 552.6,442.6 551,441 549,440.6 546.7,439.1 544,438.2 541.2,437.5 538.2,435.8 535.1,433.6 532.1,433.1 529.1,431.6 526.2,430.8 523.6,429.7 521.3,428.7 519.3,427.9 517.6,426.7 516.5,427.2 515.8,427.1 515.5,427.3 515.8,427.8 516.5,428.4 517.6,428.2 519.3,429.9 521.3,429.7 523.6,431 526.2,432.6 529.1,434.2 532.1,435 535.1,436.3 538.2,437.2 541.2,439.1 544,440.1 546.7,441 549,442 551,442.9 552.6,443.8 553.8,444.1 554.5,443.9 549.4,440.8 549.3,440.1 548.7,439.3 547.7,439 546.4,438.8 544.7,437.4 542.8,437.3 540.6,436.4 538.3,434.4 535.8,434.5 533.3,433.2 530.8,432.1 528.3,430.5 526,430.3 523.8,428.9 521.9,428.6 520.3,428.3 518.9,427.4 518,427.1 517.4,427.4 517.2,427.4 517.4,427.6 518,427.3 518.9,428 520.3,428.8 521.9,429.5 523.8,430.7 526,431.4 528.3,432.8 530.8,434.1 533.3,435 535.8,435.7 538.3,436.7 540.6,437.3 542.8,439.2 544.7,439.4 546.4,439.7 547.7,440.7 548.7,440.5 549.3,440.9 543.5,440 543.3,439 542.9,439.7 542.2,438.4 541.2,438.4 539.9,438 538.5,437.3 536.8,436.5 535,435.8 533.2,434.5 531.3,434.5 529.4,432.6 527.5,432 525.7,431.1 524.1,431.3 522.6,431.2 521.4,430.1 520.4,429.6 519.7,429.3 519.2,429.5 519.1,429.3 519.2,429.4 519.7,430.3 520.4,429.5 521.4,431.1 522.6,431.2 524.1,431.6 525.7,433 527.5,433.5 529.4,433.7 531.3,435.2 533.2,435.5 535,436.5 536.8,437.3 538.5,437.7 539.9,438.6 541.2,439.1 542.2,439 542.9,439.5 543.3,439.5" fill="none" stroke="none" marker-start="url(#gs)" marker-mid="url(#gs)" marker-end="url(#gs)"/>
<polyline points="112,955.2 119.2,958.4 126.2,961.5 132.8,964.5 138.9,967.2 144.3,969.7 149,971.8 152.7,973.4 155.5,974.7 157.2,975.4 157.7,975.7 157.2,975.4 155.5,974.7 152.7,973.4 149,971.8 144.3,969.7 138.9,967.2 132.8,964.5 126.2,961.5 119.2,958.4 112,955.2 104.9,952 97.9,948.8 91.3,945.9 85.2,943.1 79.7,940.7 75.1,938.6 71.3,936.9 68.6,935.7 66.9,934.9 66.3,934.7 66.9,934.9 68.6,935.7 71.3,936.9 75.1,938.6 79.7,940.7 85.2,943.1 91.3,945.9 97.9,948.8 104.9,952 111.4,890.3 118.3,893.4 125,896.4 131.4,899.3 137.3,901.9 142.6,904.3 147.1,906.3 150.7,907.9 153.4,909.1 155,909.8 155.5,910.1 155,909.8 153.4,909.1 150.7,907.9 147.1,906.3 142.6,904.3 137.3,901.9 131.4,899.3 125,896.4 118.3,893.4 111.4,890.3 104.5,887.2 97.8,884.2 91.4,881.3 85.5,878.7 80.2,876.3 75.7,874.3 72.1,872.7 69.5,871.5 67.9,870.8 67.3,870.5 67.9,870.8 69.5,871.5 72.1,872.7 75.7,874.3 80.2,876.3 85.5,878.7 91.4,881.3 97.8,884.2 104.5,887.2 110.7,856.1 117.3,859 123.8,861.9 129.9,864.7 135.6,867.2 140.6,869.5 144.9,871.4 148.4,873 150.9,874.1 152.5,874.8 153,875 152.5,874.8 150.9,874.1 148.4,873 144.9,871.4 140.6,869.5 135.6,867.2 129.9,864.7 123.8,861.9 117.3,859 110.7,856.1 104.1,853.1 97.7,850.2 91.5,847.5 85.9,844.9 80.8,842.7 76.5,840.7 73.1,839.2 70.5,838 69,837.3 68.5,837.1 69,837.3 70.5,838 73.1,839.2 76.5,840.7 80.8,842.7 85.9,844.9 91.5,847.5 97.7,850.2 104.1,853.1 109.9,833.1 116.2,835.9 122.4,838.7 128.2,841.3 133.6,843.7 138.4,845.9 142.5,847.7 145.8,849.2 148.2,850.3 149.7,850.9 150.2,851.1 149.7,850.9 148.2,850.3 145.8,849.2 142.5,847.7 138.4,845.9 133.6,843.7 128.2,841.3 122.4,838.7 116.2,835.9 109.9,833.1 103.7,830.3 97.5,827.5 91.7,824.9 86.3,822.5 81.5,820.3 77.4,818.5 74.1,817 71.7,815.9 70.2,815.3 69.7,815.1 70.2,815.3 71.7,815.9 74.1,817 77.4,818.5 81.5,820.3 86.3,822.5 91.7,824.9 97.5,827.5 103.7,830.3 109.1,819.8 115,822.5 120.8,825.1 126.3,827.5 131.4,829.8 135.9,831.8 139.8,833.6 142.9,835 145.2,836 146.5,836.6 147,836.8 146.5,836.6 145.2,836 142.9,835 139.8,833.6 135.9,831.8 131.4,829.8 126.3,827.5 120.8,825.1 115,822.5 109.1,819.8 103.1,817.1 97.4,814.5 91.9,812.1 86.8,809.8 82.3,807.8 78.4,806 75.3,804.6 73,803.6 71.6,803 71.1,802.8 71.6,803 73,803.6 75.3,804.6 78.4,806 82.3,807.8 86.8,809.8 91.9,812.1 97.4,814.5 103.1,817.1 108.2,811.3 113.8,813.8 119.2,816.3 124.4,818.6 129.2,820.7 133.4,822.6 137,824.3 140,825.6 142.1,826.5 143.4,827.1 143.9,827.3 143.4,827.1 142.1,826.5 140,825.6 137,824.3 133.4,822.6 129.2,820.7 124.4,818.6 119.2,816.3 113.8,813.8 108.2,811.3 102.6,808.8 97.2,806.4 92,804.1 87.3,801.9 83,800 79.4,798.4 76.4,797.1 74.3,796.1 73,795.5 72.6,795.3 73,795.5 74.3,796.1 76.4,797.1 79.4,798.4 83,800 87.3,801.9 92,804.1 97.2,806.4 102.6,808.8 107.3,805.3 112.6,807.6 117.6,809.9 122.5,812.1 126.9,814.1 130.9,815.9 134.3,817.4 137.1,818.6 139.1,819.5 140.3,820.1 140.7,820.3 140.3,820.1 139.1,819.5 137.1,818.6 134.3,817.4 130.9,815.9 126.9,814.1 122.5,812.1 117.6,809.9 112.6,807.6 107.3,805.3 102.1,802.9 97,800.7 92.2,798.5 87.7,796.5 83.7,794.7 80.4,793.2 77.6,792 75.6,791.1 74.4,790.5 74,790.3 74.4,790.5 75.6,791.1 77.6,792 80.4,793.2 83.7,794.7 87.7,796.5 92.2,798.5 97,800.7 102.1,802.9 106.3,800.8 111.1,802.9 115.8,805 120.2,807 124.3,808.9 127.9,810.5 131.1,811.9 133.6,813 135.4,813.8 136.5,814.4 136.9,814.5 136.5,814.4 135.4,813.8 133.6,813 131.1,811.9 127.9,810.5 124.3,808.9 120.2,807 115.8,805 111.1,802.9 106.3,800.8 101.5,798.6 96.8,796.5 92.4,794.5 88.3,792.7 84.6,791.1 81.5,789.7 79,788.5 77.2,787.7 76.1,787.2 75.7,787.1 76.1,787.2 77.2,787.7 79,788.5 81.5,789.7 84.6,791.1 88.3,792.7 92.4,794.5 96.8,796.5 101.5,798.6 105.1,796.7 109.4,798.6 113.6,800.5 117.5,802.3 121.2,803.9 124.5,805.4 127.3,806.6 129.5,807.6 131.2,808.4 132.2,808.8 132.5,809 132.2,808.8 131.2,808.4 129.5,807.6 127.3,806.6 124.5,805.4 121.2,803.9 117.5,802.3 113.6,800.5 109.4,798.6 105.1,796.7 100.8,794.8 96.6,792.9 92.6,791.1 89,789.5 85.7,788 82.9,786.7 80.7,785.7 79,785 78,784.5 77.7,784.4 78,784.5 79,785 80.7,785.7 82.9,786.7 85.7,788 89,789.5 92.6,791.1 96.6,792.9 100.8,794.8 103.9,792.9 107.7,794.6 111.4,796.3 114.9,797.8 118.1,799.3 121,800.6 123.5,801.7 125.4,802.6 126.9,803.2 127.8,803.6 128.1,803.8 127.8,803.6 126.9,803.2 125.4,802.6 123.5,801.7 121,800.6 118.1,799.3 114.9,797.8 111.4,796.3 107.7,794.6 103.9,792.9 100.1,791.2 96.4,789.6 92.9,788 89.6,786.5 86.7,785.2 84.3,784.1 82.3,783.2 80.8,782.6 79.9,782.2 79.6,782 79.9,782.2 80.8,782.6 82.3,783.2 84.3,784.1 86.7,785.2 89.6,786.5 92.9,788 96.4,789.6 100.1,791.2 102.5,789.4 105.7,790.8 108.8,792.2 111.8,793.6 114.6,794.8 117,795.9 119.1,796.8 120.8,797.6 122,798.2 122.8,798.5 123,798.6 122.8,798.5 122,798.2 120.8,797.6 119.1,796.8 117,795.9 114.6,794.8 111.8,793.6 108.8,792.2 105.7,790.8 102.5,789.4 99.3,787.9 96.1,786.5 93.1,785.2 90.4,784 87.9,782.9 85.8,781.9 84.2,781.2 82.9,780.6 82.2,780.3 81.9,780.2 82.2,780.3 82.9,780.6 84.2,781.2 85.8,781.9 87.9,782.9 90.4,784 93.1,785.2 96.1,786.5 99.3,787.9 101.1,786.3 103.7,787.5 106.3,788.7 108.8,789.8 111,790.8 113,791.7 114.8,792.5 116.2,793.1 117.2,793.5 117.8,793.8 118,793.9 117.8,793.8 117.2,793.5 116.2,793.1 114.8,792.5 113,791.7 111,790.8 108.8,789.8 106.3,788.7 103.7,787.5 101.1,786.3 98.4,785.1 95.9,784 93.4,782.9 91.1,781.9 89.1,781 87.4,780.2 86,779.6 85,779.1 84.4,778.8 84.2,778.8 84.4,778.8 85,779.1 86,779.6 87.4,780.2 89.1,781 91.1,781.9 93.4,782.9 95.9,784 98.4,785.1 99.5,783.5 101.5,784.4 103.5,785.3 105.3,786.1 107,786.9 108.6,787.6 109.9,788.2 110.9,788.6 111.7,789 112.2,789.2 112.3,789.3 112.2,789.2 111.7,789 110.9,788.6 109.9,788.2 108.6,787.6 107,786.9 105.3,786.1 103.5,785.3 101.5,784.4 99.5,783.5 97.5,782.6 95.6,781.8 93.7,780.9 92,780.2 90.5,779.5 89.2,778.9 88.1,778.4 87.4,778.1 86.9,777.9 86.7,777.8 86.9,777.9 87.4,778.1 88.1,778.4 89.2,778.9 90.5,779.5 92,780.2 93.7,780.9 95.6,781.8 97.5,782.6 98,781.2 99.3,781.8 100.6,782.4 101.9,783 103.1,783.5 104.1,784 105,784.4 105.7,784.7 106.2,784.9 106.5,785.1 106.6,785.1 106.5,785.1 106.2,784.9 105.7,784.7 105,784.4 104.1,784 103.1,783.5 101.9,783 100.6,782.4 99.3,781.8 98,781.2 96.6,780.6 95.3,780 94,779.5 92.9,778.9 91.8,778.5 90.9,778.1 90.2,777.7 89.7,777.5 89.4,777.4 89.3,777.3 89.4,777.4 89.7,777.5 90.2,777.7 90.9,778.1 91.8,778.5 92.9,778.9 94,779.5 95.3,780 96.6,780.6 152.5,950.3 159.7,953.5 166.7,956.6 173.3,959.6 179.4,962.3 184.8,964.7 189.5,966.8 193.2,968.5 196,969.7 197.7,970.5 198.2,970.8 197.7,970.5 196,969.7 193.2,968.5 189.5,966.8 184.8,964.7 179.4,962.3 173.3,959.6 166.7,956.6 159.7,953.5 152.5,950.3 145.4,947 138.4,943.9 131.8,940.9 125.7,938.2 120.2,935.8 115.6,933.7 111.8,932 109.1,930.8 107.4,930 106.8,929.8 107.4,930 109.1,930.8 111.8,932 115.6,933.7 120.2,935.8 125.7,938.2 131.8,940.9 138.4,943.9 145.4,947 151.9,877.3 158.8,880.4 165.5,883.4 171.9,886.3 177.8,888.9 183.1,891.3 187.6,893.3 191.2,894.9 193.9,896.1 195.5,896.8 196,897.1 195.5,896.8 193.9,896.1 191.2,894.9 187.6,893.3 183.1,891.3 177.8,888.9 171.9,886.3 165.5,883.4 158.8,880.4 151.9,877.3 145,874.2 138.3,871.2 131.9,868.3 126,865.7 120.7,863.3 116.2,861.3 112.6,859.7 110,858.5 108.4,857.8 107.8,857.5 108.4,857.8 110,858.5 112.6,859.7 116.2,861.3 120.7,863.3 126,865.7 131.9,868.3 138.3,871.2 145,874.2 151.2,846.3 157.8,849.3 164.3,852.2 170.4,854.9 176.1,857.5 181.1,859.7 185.4,861.6 188.9,863.2 191.4,864.3 193,865 193.5,865.3 193,865 191.4,864.3 188.9,863.2 185.4,861.6 181.1,859.7 176.1,857.5 170.4,854.9 164.3,852.2 157.8,849.3 151.2,846.3 144.6,843.3 138.2,840.4 132,837.7 126.4,835.2 121.3,832.9 117,831 113.6,829.4 111,828.3 109.5,827.6 109,827.3 109.5,827.6 111,828.3 113.6,829.4 117,831 121.3,832.9 126.4,835.2 132,837.7 138.2,840.4 144.6,843.3 150.4,825.8 156.7,828.6 162.9,831.3 168.7,834 174.1,836.4 178.9,838.5 183,840.4 186.3,841.8 188.7,842.9 190.2,843.6 190.7,843.8 190.2,843.6 188.7,842.9 186.3,841.8 183,840.4 178.9,838.5 174.1,836.4 168.7,834 162.9,831.3 156.7,828.6 150.4,825.8 144.2,822.9 138,820.2 132.2,817.6 126.8,815.2 122,813 117.9,811.2 114.6,809.7 112.2,808.6 110.7,808 110.2,807.7 110.7,808 112.2,808.6 114.6,809.7 117.9,811.2 122,813 126.8,815.2 132.2,817.6 138,820.2 144.2,822.9 149.6,814.1 155.5,816.7 161.3,819.3 166.8,821.8 171.9,824.1 176.4,826.1 180.3,827.8 183.4,829.2 185.7,830.3 187,830.9 187.5,831.1 187,830.9 185.7,830.3 183.4,829.2 180.3,827.8 176.4,826.1 171.9,824.1 166.8,821.8 161.3,819.3 155.5,816.7 149.6,814.1 143.6,811.4 137.9,808.8 132.4,806.3 127.3,804.1 122.8,802 118.9,800.3 115.8,798.9 113.5,797.9 112.1,797.3 111.6,797.1 112.1,797.3 113.5,797.9 115.8,798.9 118.9,800.3 122.8,802 127.3,804.1 132.4,806.3 137.9,808.8 143.6,811.4 148.7,806.4 154.3,808.9 159.7,811.4 164.9,813.7 169.7,815.8 173.9,817.7 177.5,819.4 180.5,820.7 182.6,821.6 183.9,822.2 184.4,822.4 183.9,822.2 182.6,821.6 180.5,820.7 177.5,819.4 173.9,817.7 169.7,815.8 164.9,813.7 159.7,811.4 154.3,808.9 148.7,806.4 143.1,803.9 137.7,801.5 132.5,799.2 127.8,797 123.5,795.1 119.9,793.5 116.9,792.2 114.8,791.2 113.5,790.6 113.1,790.4 113.5,790.6 114.8,791.2 116.9,792.2 119.9,793.5 123.5,795.1 127.8,797 132.5,799.2 137.7,801.5 143.1,803.9 147.8,800.4 153.1,802.7 158.1,805 163,807.2 167.4,809.2 171.4,811 174.8,812.5 177.6,813.7 179.6,814.6 180.8,815.2 181.2,815.3 180.8,815.2 179.6,814.6 177.6,813.7 174.8,812.5 171.4,811 167.4,809.2 163,807.2 158.1,805 153.1,802.7 147.8,800.4 142.6,798 137.5,795.8 132.7,793.6 128.2,791.6 124.2,789.8 120.9,788.3 118.1,787 116.1,786.1 114.9,785.6 114.5,785.4 114.9,785.6 116.1,786.1 118.1,787 120.9,788.3 124.2,789.8 128.2,791.6 132.7,793.6 137.5,795.8 142.6,798 146.8,795.9 151.6,798 156.3,800.1 160.7,802.1 164.8,803.9 168.4,805.6 171.6,807 174.1,808.1 175.9,808.9 177,809.4 177.4,809.6 177,809.4 175.9,808.9 174.1,808.1 171.6,807 168.4,805.6 164.8,803.9 160.7,802.1 156.3,800.1 151.6,798 146.8,795.9 142,793.7 137.3,791.6 132.9,789.6 128.8,787.8 125.1,786.2 122,784.8 119.5,783.6 117.7,782.8 116.6,782.3 116.2,782.1 116.6,782.3 117.7,782.8 119.5,783.6 122,784.8 125.1,786.2 128.8,787.8 132.9,789.6 137.3,791.6 142,793.7 145.6,791.8 149.9,793.7 154.1,795.6 158,797.4 161.7,799 165,800.5 167.8,801.7 170,802.7 171.7,803.5 172.7,803.9 173,804.1 172.7,803.9 171.7,803.5 170,802.7 167.8,801.7 165,800.5 161.7,799 158,797.4 154.1,795.6 149.9,793.7 145.6,791.8 141.3,789.8 137.1,788 133.1,786.2 129.5,784.5 126.2,783.1 123.4,781.8 121.2,780.8 119.5,780.1 118.5,779.6 118.2,779.5 118.5,779.6 119.5,780.1 121.2,780.8 123.4,781.8 126.2,783.1 129.5,784.5 133.1,786.2 137.1,788 141.3,789.8 144.4,788 148.2,789.7 151.9,791.4 155.4,792.9 158.6,794.4 161.5,795.7 164,796.8 165.9,797.7 167.4,798.3 168.3,798.7 168.6,798.9 168.3,798.7 167.4,798.3 165.9,797.7 164,796.8 161.5,795.7 158.6,794.4 155.4,792.9 151.9,791.4 148.2,789.7 144.4,788 140.6,786.3 136.9,784.6 133.4,783.1 130.1,781.6 127.2,780.3 124.8,779.2 122.8,778.3 121.3,777.7 120.4,777.3 120.1,777.1 120.4,777.3 121.3,777.7 122.8,778.3 124.8,779.2 127.2,780.3 130.1,781.6 133.4,783.1 136.9,784.6 140.6,786.3 143,784.5 146.2,785.9 149.3,787.3 152.3,788.7 155.1,789.9 157.5,791 159.6,791.9 161.3,792.7 162.5,793.2 163.3,793.6 163.5,793.7 163.3,793.6 162.5,793.2 161.3,792.7 159.6,791.9 157.5,791 155.1,789.9 152.3,788.7 149.3,787.3 146.2,785.9 143,784.5 139.8,783 136.6,781.6 133.6,780.3 130.9,779 128.4,777.9 126.3,777 124.7,776.2 123.4,775.7 122.7,775.4 122.4,775.2 122.7,775.4 123.4,775.7 124.7,776.2 126.3,777 128.4,777.9 130.9,779 133.6,780.3 136.6,781.6 139.8,783 141.6,781.4 144.2,782.6 146.8,783.8 149.3,784.9 151.5,785.9 153.5,786.8 155.3,787.6 156.7,788.2 157.7,788.6 158.3,788.9 158.5,789 158.3,788.9 157.7,788.6 156.7,788.2 155.3,787.6 153.5,786.8 151.5,785.9 149.3,784.9 146.8,783.8 144.2,782.6 141.6,781.4 138.9,780.2 136.4,779.1 133.9,778 131.6,777 129.6,776.1 127.9,775.3 126.5,774.7 125.5,774.2 124.9,773.9 124.7,773.8 124.9,773.9 125.5,774.2 126.5,774.7 127.9,775.3 129.6,776.1 131.6,777 133.9,778 136.4,779.1 138.9,780.2 140,778.6 142,779.5 144,780.4 145.8,781.2 147.5,782 149.1,782.7 150.4,783.3 151.4,783.7 152.2,784.1 152.7,784.3 152.8,784.4 152.7,784.3 152.2,784.1 151.4,783.7 150.4,783.3 149.1,782.7 147.5,782 145.8,781.2 144,780.4 142,779.5 140,778.6 138,777.7 136.1,776.8 134.2,776 132.5,775.2 131,774.6 129.7,774 128.6,773.5 127.9,773.2 127.4,773 127.2,772.9 127.4,773 127.9,773.2 128.6,773.5 129.7,774 131,774.6 132.5,775.2 134.2,776 136.1,776.8 138,777.7 138.5,776.3 139.8,776.9 141.1,777.5 142.4,778.1 143.6,778.6 144.6,779.1 145.5,779.5 146.2,779.8 146.7,780 147,780.2 147.1,780.2 147,780.2 146.7,780 146.2,779.8 145.5,779.5 144.6,779.1 143.6,778.6 142.4,778.1 141.1,777.5 139.8,776.9 138.5,776.3 137.1,775.7 135.8,775.1 134.5,774.5 133.4,774 132.3,773.5 131.4,773.2 130.7,772.8 130.2,772.6 129.9,772.5 129.8,772.4 129.9,772.5 130.2,772.6 130.7,772.8 131.4,773.2 132.3,773.5 133.4,774 134.5,774.5 135.8,775.1 137.1,775.7 229.7,940.9 236.8,944.1 243.8,947.2 250.4,950.2 256.5,952.9 262,955.4 266.6,957.5 270.4,959.2 273.1,960.4 274.8,961.1 275.4,961.4 274.8,961.1 273.1,960.4 270.4,959.2 266.6,957.5 262,955.4 256.5,952.9 250.4,950.2 243.8,947.2 236.8,944.1 229.7,940.9 222.5,937.7 215.5,934.6 208.9,931.6 202.8,928.8 197.4,926.4 192.7,924.3 189,922.6 186.2,921.4 184.5,920.6 184,920.4 184.5,920.6 186.2,921.4 189,922.6 192.7,924.3 197.4,926.4 202.8,928.8 208.9,931.6 215.5,934.6 222.5,937.7 229.1,879.2 236,882.3 242.7,885.4 249.1,888.2 255,890.9 260.2,893.2 264.7,895.2 268.4,896.9 271,898.1 272.6,898.8 273.2,899 272.6,898.8 271,898.1 268.4,896.9 264.7,895.2 260.2,893.2 255,890.9 249.1,888.2 242.7,885.4 236,882.3 229.1,879.2 222.2,876.2 215.4,873.1 209,870.3 203.1,867.6 197.9,865.3 193.4,863.2 189.8,861.6 187.1,860.4 185.5,859.7 185,859.5 185.5,859.7 187.1,860.4 189.8,861.6 193.4,863.2 197.9,865.3 203.1,867.6 209,870.3 215.4,873.1 222.2,876.2 228.4,843.7 235,846.7 241.4,849.6 247.6,852.3 253.2,854.9 258.3,857.1 262.6,859.1 266,860.6 268.6,861.8 270.1,862.5 270.6,862.7 270.1,862.5 268.6,861.8 266,860.6 262.6,859.1 258.3,857.1 253.2,854.9 247.6,852.3 241.4,849.6 235,846.7 228.4,843.7 221.8,840.8 215.3,837.9 209.2,835.1 203.5,832.6 198.5,830.3 194.2,828.4 190.7,826.8 188.2,825.7 186.6,825 186.1,824.8 186.6,825 188.2,825.7 190.7,826.8 194.2,828.4 198.5,830.3 203.5,832.6 209.2,835.1 215.3,837.9 221.8,840.8 227.6,819.8 233.9,822.6 240,825.4 245.8,828 251.2,830.4 256,832.6 260.1,834.4 263.4,835.9 265.8,837 267.3,837.6 267.8,837.8 267.3,837.6 265.8,837 263.4,835.9 260.1,834.4 256,832.6 251.2,830.4 245.8,828 240,825.4 233.9,822.6 227.6,819.8 221.3,817 215.2,814.2 209.3,811.6 203.9,809.2 199.2,807 195.1,805.2 191.8,803.7 189.3,802.6 187.9,802 187.4,801.8 187.9,802 189.3,802.6 191.8,803.7 195.1,805.2 199.2,807 203.9,809.2 209.3,811.6 215.2,814.2 221.3,817 226.7,805.8 232.7,808.5 238.4,811.1 243.9,813.6 249,815.8 253.5,817.9 257.4,819.6 260.5,821 262.8,822 264.2,822.6 264.7,822.9 264.2,822.6 262.8,822 260.5,821 257.4,819.6 253.5,817.9 249,815.8 243.9,813.6 238.4,811.1 232.7,808.5 226.7,805.8 220.8,803.2 215,800.6 209.5,798.1 204.4,795.8 199.9,793.8 196,792.1 192.9,790.7 190.6,789.7 189.3,789 188.8,788.8 189.3,789 190.6,789.7 192.9,790.7 196,792.1 199.9,793.8 204.4,795.8 209.5,798.1 215,800.6 220.8,803.2 225.9,797.1 231.4,799.6 236.9,802 242,804.3 246.8,806.5 251.1,808.4 254.7,810 257.6,811.3 259.8,812.3 261.1,812.8 261.5,813 261.1,812.8 259.8,812.3 257.6,811.3 254.7,810 251.1,808.4 246.8,806.5 242,804.3 236.9,802 231.4,799.6 225.9,797.1 220.3,794.6 214.8,792.1 209.7,789.8 204.9,787.7 200.6,785.7 197,784.1 194.1,782.8 191.9,781.8 190.6,781.3 190.2,781.1 190.6,781.3 191.9,781.8 194.1,782.8 197,784.1 200.6,785.7 204.9,787.7 209.7,789.8 214.8,792.1 220.3,794.6 225,791 230.2,793.4 235.3,795.6 240.1,797.8 244.6,799.8 248.6,801.6 252,803.1 254.7,804.3 256.7,805.2 257.9,805.8 258.3,806 257.9,805.8 256.7,805.2 254.7,804.3 252,803.1 248.6,801.6 244.6,799.8 240.1,797.8 235.3,795.6 230.2,793.4 225,791 219.8,788.7 214.7,786.4 209.8,784.2 205.4,782.2 201.4,780.4 198,778.9 195.3,777.7 193.3,776.8 192,776.2 191.6,776 192,776.2 193.3,776.8 195.3,777.7 198,778.9 201.4,780.4 205.4,782.2 209.8,784.2 214.7,786.4 219.8,788.7 223.9,786.5 228.7,788.7 233.4,790.8 237.8,792.7 241.9,794.6 245.6,796.2 248.7,797.6 251.2,798.7 253.1,799.6 254.2,800.1 254.6,800.2 254.2,800.1 253.1,799.6 251.2,798.7 248.7,797.6 245.6,796.2 241.9,794.6 237.8,792.7 233.4,790.8 228.7,788.7 223.9,786.5 219.2,784.4 214.5,782.3 210,780.3 205.9,778.4 202.3,776.8 199.2,775.4 196.7,774.3 194.8,773.4 193.7,772.9 193.3,772.8 193.7,772.9 194.8,773.4 196.7,774.3 199.2,775.4 202.3,776.8 205.9,778.4 210,780.3 214.5,782.3 219.2,784.4 222.7,782.4 227,784.3 231.2,786.2 235.2,788 238.8,789.6 242.1,791.1 244.9,792.4 247.2,793.4 248.8,794.1 249.8,794.6 250.1,794.7 249.8,794.6 248.8,794.1 247.2,793.4 244.9,792.4 242.1,791.1 238.8,789.6 235.2,788 231.2,786.2 227,784.3 222.7,782.4 218.4,780.5 214.3,778.6 210.3,776.8 206.6,775.2 203.3,773.7 200.5,772.5 198.3,771.4 196.6,770.7 195.6,770.3 195.3,770.1 195.6,770.3 196.6,770.7 198.3,771.4 200.5,772.5 203.3,773.7 206.6,775.2 210.3,776.8 214.3,778.6 218.4,780.5 221.5,778.6 225.3,780.3 229,782 232.5,783.6 235.7,785 238.6,786.3 241.1,787.4 243.1,788.3 244.5,789 245.4,789.4 245.7,789.5 245.4,789.4 244.5,789 243.1,788.3 241.1,787.4 238.6,786.3 235.7,785 232.5,783.6 229,782 225.3,780.3 221.5,778.6 217.7,776.9 214,775.3 210.5,773.7 207.3,772.2 204.4,771 201.9,769.8 199.9,769 198.5,768.3 197.6,767.9 197.3,767.8 197.6,767.9 198.5,768.3 199.9,769 201.9,769.8 204.4,771 207.3,772.2 210.5,773.7 214,775.3 217.7,776.9 220.1,775.1 223.3,776.5 226.5,778 229.5,779.3 232.2,780.5 234.7,781.6 236.8,782.6 238.4,783.3 239.7,783.9 240.4,784.2 240.7,784.3 240.4,784.2 239.7,783.9 238.4,783.3 236.8,782.6 234.7,781.6 232.2,780.5 229.5,779.3 226.5,778 223.3,776.5 220.1,775.1 216.9,773.7 213.8,772.3 210.8,770.9 208,769.7 205.6,768.6 203.5,767.6 201.8,766.9 200.6,766.3 199.8,766 199.6,765.9 199.8,766 200.6,766.3 201.8,766.9 203.5,767.6 205.6,768.6 208,769.7 210.8,770.9 213.8,772.3 216.9,773.7 218.7,772.1 221.4,773.2 224,774.4 226.4,775.5 228.7,776.5 230.7,777.4 232.4,778.2 233.8,778.8 234.8,779.3 235.4,779.5 235.6,779.6 235.4,779.5 234.8,779.3 233.8,778.8 232.4,778.2 230.7,777.4 228.7,776.5 226.4,775.5 224,774.4 221.4,773.2 218.7,772.1 216.1,770.9 213.5,769.7 211.1,768.6 208.8,767.6 206.8,766.7 205.1,765.9 203.7,765.3 202.6,764.8 202,764.6 201.8,764.5 202,764.6 202.6,764.8 203.7,765.3 205.1,765.9 206.8,766.7 208.8,767.6 211.1,768.6 213.5,769.7 216.1,770.9 217.2,769.3 219.2,770.2 221.1,771 223,771.9 224.7,772.6 226.2,773.3 227.5,773.9 228.6,774.4 229.3,774.7 229.8,774.9 230,775 229.8,774.9 229.3,774.7 228.6,774.4 227.5,773.9 226.2,773.3 224.7,772.6 223,771.9 221.1,771 219.2,770.2 217.2,769.3 215.2,768.4 213.2,767.5 211.4,766.7 209.6,765.9 208.1,765.2 206.8,764.6 205.8,764.1 205,763.8 204.5,763.6 204.4,763.5 204.5,763.6 205,763.8 205.8,764.1 206.8,764.6 208.1,765.2 209.6,765.9 211.4,766.7 213.2,767.5 215.2,768.4 215.6,766.9 217,767.6 218.3,768.1 219.5,768.7 220.7,769.2 221.7,769.7 222.6,770.1 223.3,770.4 223.9,770.6 224.2,770.8 224.3,770.8 224.2,770.8 223.9,770.6 223.3,770.4 222.6,770.1 221.7,769.7 220.7,769.2 219.5,768.7 218.3,768.1 217,767.6 215.6,766.9 214.2,766.3 212.9,765.7 211.7,765.2 210.5,764.7 209.5,764.2 208.6,763.8 207.9,763.5 207.3,763.2 207,763.1 206.9,763 207,763.1 207.3,763.2 207.9,763.5 208.6,763.8 209.5,764.2 210.5,764.7 211.7,765.2 212.9,765.7 214.2,766.3 268.2,936.2 275.4,939.4 282.4,942.5 289,945.5 295.1,948.3 300.6,950.7 305.2,952.8 309,954.5 311.7,955.7 313.4,956.5 313.9,956.7 313.4,956.5 311.7,955.7 309,954.5 305.2,952.8 300.6,950.7 295.1,948.3 289,945.5 282.4,942.5 275.4,939.4 268.2,936.2 261.1,933 254.1,929.9 247.5,926.9 241.4,924.2 235.9,921.7 231.3,919.6 227.5,917.9 224.8,916.7 223.1,916 222.5,915.7 223.1,916 224.8,916.7 227.5,917.9 231.3,919.6 235.9,921.7 241.4,924.2 247.5,926.9 254.1,929.9 261.1,933 267.6,865.7 274.5,868.8 281.3,871.8 287.7,874.7 293.6,877.3 298.8,879.7 303.3,881.7 306.9,883.3 309.6,884.5 311.2,885.2 311.7,885.5 311.2,885.2 309.6,884.5 306.9,883.3 303.3,881.7 298.8,879.7 293.6,877.3 287.7,874.7 281.3,871.8 274.5,868.8 267.6,865.7 260.7,862.6 254,859.6 247.6,856.7 241.7,854.1 236.5,851.7 232,849.7 228.3,848.1 225.7,846.9 224.1,846.1 223.5,845.9 224.1,846.1 225.7,846.9 228.3,848.1 232,849.7 236.5,851.7 241.7,854.1 247.6,856.7 254,859.6 260.7,862.6 266.9,833.7 273.6,836.7 280,839.6 286.1,842.3 291.8,844.9 296.8,847.1 301.1,849.1 304.6,850.6 307.1,851.8 308.7,852.4 309.2,852.7 308.7,852.4 307.1,851.8 304.6,850.6 301.1,849.1 296.8,847.1 291.8,844.9 286.1,842.3 280,839.6 273.6,836.7 266.9,833.7 260.3,830.7 253.9,827.9 247.7,825.1 242.1,822.6 237,820.3 232.7,818.4 229.3,816.8 226.7,815.7 225.2,815 224.7,814.8 225.2,815 226.7,815.7 229.3,816.8 232.7,818.4 237,820.3 242.1,822.6 247.7,825.1 253.9,827.9 260.3,830.7 266.2,812.5 272.5,815.3 278.6,818 284.4,820.6 289.8,823.1 294.6,825.2 298.7,827 302,828.5 304.4,829.6 305.9,830.3 306.4,830.5 305.9,830.3 304.4,829.6 302,828.5 298.7,827 294.6,825.2 289.8,823.1 284.4,820.6 278.6,818 272.5,815.3 266.2,812.5 259.9,809.6 253.7,806.9 247.9,804.3 242.5,801.8 237.7,799.7 233.6,797.9 230.3,796.4 227.9,795.3 226.4,794.6 225.9,794.4 226.4,794.6 227.9,795.3 230.3,796.4 233.6,797.9 237.7,799.7 242.5,801.8 247.9,804.3 253.7,806.9 259.9,809.6 265.3,800.3 271.2,802.9 277,805.5 282.5,808 287.6,810.3 292.1,812.3 296,814 299.1,815.4 301.4,816.5 302.8,817.1 303.2,817.3 302.8,817.1 301.4,816.5 299.1,815.4 296,814 292.1,812.3 287.6,810.3 282.5,808 277,805.5 271.2,802.9 265.3,800.3 259.4,797.6 253.6,795 248.1,792.5 243,790.3 238.5,788.2 234.6,786.5 231.5,785.1 229.2,784.1 227.8,783.5 227.4,783.3 227.8,783.5 229.2,784.1 231.5,785.1 234.6,786.5 238.5,788.2 243,790.3 248.1,792.5 253.6,795 259.4,797.6 264.4,792.4 270,794.9 275.4,797.3 280.6,799.6 285.4,801.8 289.6,803.7 293.3,805.3 296.2,806.6 298.3,807.6 299.6,808.2 300.1,808.4 299.6,808.2 298.3,807.6 296.2,806.6 293.3,805.3 289.6,803.7 285.4,801.8 280.6,799.6 275.4,797.3 270,794.9 264.4,792.4 258.8,789.9 253.4,787.4 248.2,785.1 243.5,783 239.2,781.1 235.6,779.4 232.7,778.1 230.5,777.2 229.2,776.6 228.8,776.4 229.2,776.6 230.5,777.2 232.7,778.1 235.6,779.4 239.2,781.1 243.5,783 248.2,785.1 253.4,787.4 258.8,789.9 263.6,786.3 268.8,788.7 273.9,791 278.7,793.1 283.2,795.1 287.1,796.9 290.5,798.4 293.3,799.7 295.3,800.6 296.5,801.1 296.9,801.3 296.5,801.1 295.3,800.6 293.3,799.7 290.5,798.4 287.1,796.9 283.2,795.1 278.7,793.1 273.9,791 268.8,788.7 263.6,786.3 258.3,784 253.2,781.7 248.4,779.5 243.9,777.5 240,775.7 236.6,774.2 233.8,773 231.8,772.1 230.6,771.6 230.2,771.4 230.6,771.6 231.8,772.1 233.8,773 236.6,774.2 240,775.7 243.9,777.5 248.4,779.5 253.2,781.7 258.3,784 262.5,781.8 267.3,784 272,786.1 276.4,788.1 280.5,789.9 284.2,791.5 287.3,792.9 289.8,794.1 291.6,794.9 292.8,795.4 293.1,795.6 292.8,795.4 291.6,794.9 289.8,794.1 287.3,792.9 284.2,791.5 280.5,789.9 276.4,788.1 272,786.1 267.3,784 262.5,781.8 257.7,779.7 253.1,777.6 248.6,775.6 244.5,773.8 240.9,772.1 237.7,770.7 235.2,769.6 233.4,768.8 232.3,768.3 231.9,768.1 232.3,768.3 233.4,768.8 235.2,769.6 237.7,770.7 240.9,772.1 244.5,773.8 248.6,775.6 253.1,777.6 257.7,779.7 261.3,777.7 265.6,779.7 269.8,781.5 273.7,783.3 277.4,785 280.7,786.4 283.5,787.7 285.7,788.7 287.4,789.4 288.4,789.9 288.7,790 288.4,789.9 287.4,789.4 285.7,788.7 283.5,787.7 280.7,786.4 277.4,785 273.7,783.3 269.8,781.5 265.6,779.7 261.3,777.7 257,775.8 252.8,773.9 248.8,772.1 245.2,770.5 241.9,769 239.1,767.8 236.9,766.8 235.2,766 234.2,765.6 233.9,765.4 234.2,765.6 235.2,766 236.9,766.8 239.1,767.8 241.9,769 245.2,770.5 248.8,772.1 252.8,773.9 257,775.8 260.1,774 263.9,775.7 267.6,777.3 271.1,778.9 274.3,780.3 277.2,781.6 279.7,782.7 281.7,783.6 283.1,784.3 284,784.7 284.3,784.8 284,784.7 283.1,784.3 281.7,783.6 279.7,782.7 277.2,781.6 274.3,780.3 271.1,778.9 267.6,777.3 263.9,775.7 260.1,774 256.3,772.3 252.6,770.6 249.1,769 245.8,767.6 243,766.3 240.5,765.2 238.5,764.3 237,763.6 236.2,763.2 235.9,763.1 236.2,763.2 237,763.6 238.5,764.3 240.5,765.2 243,766.3 245.8,767.6 249.1,769 252.6,770.6 256.3,772.3 258.7,770.4 261.9,771.9 265,773.3 268,774.6 270.8,775.8 273.2,776.9 275.3,777.9 277,778.6 278.3,779.2 279,779.5 279.3,779.6 279,779.5 278.3,779.2 277,778.6 275.3,777.9 273.2,776.9 270.8,775.8 268,774.6 265,773.3 261.9,771.9 258.7,770.4 255.5,769 252.3,767.6 249.4,766.2 246.6,765 244.1,763.9 242.1,763 240.4,762.2 239.1,761.6 238.4,761.3 238.1,761.2 238.4,761.3 239.1,761.6 240.4,762.2 242.1,763 244.1,763.9 246.6,765 249.4,766.2 252.3,767.6 255.5,769 257.3,767.4 259.9,768.6 262.5,769.7 265,770.8 267.2,771.8 269.3,772.7 271,773.5 272.4,774.1 273.4,774.6 274,774.9 274.2,775 274,774.9 273.4,774.6 272.4,774.1 271,773.5 269.3,772.7 267.2,771.8 265,770.8 262.5,769.7 259.9,768.6 257.3,767.4 254.7,766.2 252.1,765 249.6,763.9 247.4,762.9 245.3,762 243.6,761.2 242.2,760.6 241.2,760.2 240.6,759.9 240.4,759.8 240.6,759.9 241.2,760.2 242.2,760.6 243.6,761.2 245.3,762 247.4,762.9 249.6,763.9 252.1,765 254.7,766.2 255.7,764.6 257.7,765.5 259.7,766.3 261.5,767.2 263.3,767.9 264.8,768.6 266.1,769.2 267.1,769.7 267.9,770 268.4,770.2 268.5,770.3 268.4,770.2 267.9,770 267.1,769.7 266.1,769.2 264.8,768.6 263.3,767.9 261.5,767.2 259.7,766.3 257.7,765.5 255.7,764.6 253.7,763.7 251.8,762.8 249.9,762 248.2,761.2 246.7,760.5 245.4,759.9 244.3,759.5 243.6,759.1 243.1,758.9 242.9,758.8 243.1,758.9 243.6,759.1 244.3,759.5 245.4,759.9 246.7,760.5 248.2,761.2 249.9,762 251.8,762.8 253.7,763.7 254.2,762.3 255.5,762.9 256.9,763.5 258.1,764 259.3,764.5 260.3,765 261.2,765.4 261.9,765.7 262.4,766 262.8,766.1 262.9,766.2 262.8,766.1 262.4,766 261.9,765.7 261.2,765.4 260.3,765 259.3,764.5 258.1,764 256.9,763.5 255.5,762.9 254.2,762.3 252.8,761.7 251.5,761.1 250.2,760.5 249.1,760 248,759.5 247.2,759.1 246.4,758.8 245.9,758.6 245.6,758.4 245.5,758.4 245.6,758.4 245.9,758.6 246.4,758.8 247.2,759.1 248,759.5 249.1,760 250.2,760.5 251.5,761.1 252.8,761.7" fill="none" stroke="none" marker-start="url(#rd)" marker-mid="url(#rd)" marker-end="url(#rd)"/>
<polyline points="112,939.2 119.2,942.3 126.2,944.8 132.8,945.3 138.9,948.8 144.3,953.5 149,953.8 152.7,955.2 155.5,958.4 157.2,958.7 157.7,960.2 157.2,958.6 155.5,959.4 152.7,956.1 149,953.9 144.3,951.3 138.9,948.4 132.8,942.8 126.2,942.5 119.2,939.2 112,936.6 104.9,933.5 97.9,931.6 91.3,930.5 85.2,929.2 79.7,927.3 75.1,923.6 71.3,920.7 68.6,920 66.9,916.8 66.3,917.1 66.9,913.9 68.6,915.4 71.3,917.1 75.1,917.3 79.7,925.4 85.2,923.6 91.3,927.4 97.9,929.8 104.9,936.1 111.4,897.2 118.3,904.6 125,907.1 131.4,908.8 137.3,912.1 142.6,915.8 147.1,916.7 150.7,920.4 153.4,918.5 155,920.2 155.5,919.3 155,921.8 153.4,917.4 150.7,918 147.1,913.5 142.6,911 137.3,903.9 131.4,902.5 125,900.5 118.3,902 111.4,900.5 104.5,899.9 97.8,901.5 91.4,899.9 85.5,898.2 80.2,894.4 75.7,892.6 72.1,888.4 69.5,887.1 67.9,884.1 67.3,881 67.9,878.9 69.5,875.7 72.1,875.5 75.7,878.2 80.2,883.9 85.5,887.7 91.4,892.9 97.8,895.3 104.5,896.6 110.7,867.9 117.3,870 123.8,871.6 129.9,873.8 135.6,877.6 140.6,879.7 144.9,881.6 148.4,884.6 150.9,886.7 152.5,888.1 153,885 152.5,884.9 150.9,886 148.4,884.5 144.9,881.4 140.6,875.7 135.6,870.7 129.9,865.4 123.8,867.6 117.3,866.2 110.7,867.3 104.1,866.9 97.7,867 91.5,864.6 85.9,864.1 80.8,862.2 76.5,858.4 73.1,857.3 70.5,851.3 69,851.9 68.5,846.7 69,841.8 70.5,844.1 73.1,840.7 76.5,841.7 80.8,847.9 85.9,856.8 91.5,856.1 97.7,860.6 104.1,864.5 109.9,838.4 116.2,843.2 122.4,843.6 128.2,848.2 133.6,849.4 138.4,854.1 142.5,854.5 145.8,857.2 148.2,857.9 149.7,857.7 150.2,857.6 149.7,857 148.2,855.3 145.8,856.1 142.5,855.7 138.4,849 133.6,844.7 128.2,841.2 122.4,839.5 116.2,839.4 109.9,840.1 103.7,839 97.5,839.8 91.7,834.7 86.3,834.6 81.5,833.6 77.4,831.3 74.1,828.6 71.7,828.2 70.2,823.6 69.7,824.2 70.2,818.5 71.7,818 74.1,815.7 77.4,819.8 81.5,823.6 86.3,827.9 91.7,831.4 97.5,834.4 103.7,838.4 109.1,828.8 115,830.1 120.8,831.9 126.3,835.8 131.4,838.6 135.9,839 139.8,839.3 142.9,842.3 145.2,841.6 146.5,842.3 147,842.7 146.5,843.9 145.2,842.5 142.9,844.3 139.8,840.6 135.9,834.9 131.4,834.2 126.3,828.4 120.8,827.4 115,827.8 109.1,825.3 103.1,827.9 97.4,825.4 91.9,823.4 86.8,821.3 82.3,820.9 78.4,819.2 75.3,813 73,813.7 71.6,811 71.1,808.4 71.6,807.9 73,808 75.3,808.3 78.4,811.4 82.3,809.6 86.8,816.9 91.9,821.2 97.4,822.3 103.1,825.7 108.2,814.6 113.8,820 119.2,820.6 124.4,823.2 129.2,826.8 133.4,827.9 137,831.6 140,832.1 142.1,833.7 143.4,833.6 143.9,835.1 143.4,831.3 142.1,831.7 140,832.1 137,832.1 133.4,825.9 129.2,823.5 124.4,822.3 119.2,822.4 113.8,818.3 108.2,816.5 102.6,818.2 97.2,814.4 92,815.4 87.3,811.3 83,808.1 79.4,807.6 76.4,805.6 74.3,805.3 73,803.2 72.6,799 73,798.7 74.3,800.7 76.4,801.1 79.4,802.7 83,801.6 87.3,807.8 92,809 97.2,812.9 102.6,816.9 107.3,807.4 112.6,811.2 117.6,814.4 122.5,816.2 126.9,819.4 130.9,820.4 134.3,823.4 137.1,821.1 139.1,822.8 140.3,823 140.7,825.3 140.3,823.7 139.1,823.2 137.1,820.3 134.3,820.1 130.9,818.6 126.9,818.1 122.5,816.3 117.6,813.8 112.6,811.6 107.3,810.3 102.1,809.2 97,804.1 92.2,803.2 87.7,805 83.7,802.8 80.4,800 77.6,796.6 75.6,794.4 74.4,796.1 74,793.7 74.4,793.8 75.6,792.6 77.6,792 80.4,795.2 83.7,797.2 87.7,799.8 92.2,802.2 97,806.1 102.1,806 106.3,802.1 111.1,804.8 115.8,807.1 120.2,808 124.3,811.5 127.9,812.2 131.1,811.9 133.6,814.8 135.4,812.8 136.5,817.1 136.9,817.6 136.5,815.7 135.4,813.9 133.6,814.8 131.1,812.2 127.9,810 124.3,808.3 120.2,807.2 115.8,805.9 111.1,806 106.3,801.3 101.5,799.8 96.8,796.9 92.4,798.3 88.3,795.9 84.6,793.9 81.5,790.3 79,793.7 77.2,790.5 76.1,785.5 75.7,787.6 76.1,789.3 77.2,788.1 79,787.8 81.5,790.2 84.6,792 88.3,794.3 92.4,794.7 96.8,796.9 101.5,798.7 105.1,799 109.4,800.4 113.6,802.3 117.5,803.9 121.2,805.9 124.5,806.9 127.3,808.8 129.5,809.6 131.2,810.7 132.2,811 132.5,810.9 132.2,811 131.2,810.5 129.5,809.7 127.3,808.5 124.5,807.1 121.2,805.6 117.5,803.9 113.6,802.4 109.4,800.7 105.1,799.1 100.8,796.8 96.6,795.1 92.6,793.6 89,790.9 85.7,790.5 82.9,788.6 80.7,787.5 79,787 78,785.6 77.7,786.3 78,786.7 79,786.4 80.7,787.9 82.9,789.2 85.7,790.3 89,791.6 92.6,793 96.6,794.7 100.8,797.2 103.9,794.7 107.7,795.8 111.4,798.4 114.9,799.8 118.1,801 121,802.1 123.5,803.9 125.4,804.9 126.9,805.5 127.8,805.2 128.1,805.4 127.8,806.3 126.9,805.9 125.4,804.9 123.5,804.1 121,802.4 118.1,801.2 114.9,799.1 111.4,798 107.7,796.5 103.9,794.5 100.1,793.4 96.4,792 92.9,789.9 89.6,788.2 86.7,787.7 84.3,785.8 82.3,784.9 80.8,784.7 79.9,784.1 79.6,784.1 79.9,784.1 80.8,784.3 82.3,785.4 84.3,785.7 86.7,786.9 89.6,788.2 92.9,790.6 96.4,792.1 100.1,792.9 102.5,791.2 105.7,792.7 108.8,794.1 111.8,795.6 114.6,796.5 117,797.8 119.1,798.7 120.8,799.1 122,800.2 122.8,799.7 123,801 122.8,799.3 122,800.2 120.8,799 119.1,798.2 117,797.5 114.6,796.2 111.8,795.2 108.8,794.4 105.7,792.3 102.5,790.6 99.3,789.7 96.1,788.7 93.1,787 90.4,785.5 87.9,784.4 85.8,783.2 84.2,782.6 82.9,782.1 82.2,782.6 81.9,781 82.2,781.9 82.9,781.9 84.2,782.9 85.8,783.6 87.9,784.5 90.4,785.1 93.1,786.3 96.1,787.9 99.3,788.9 101.1,788.1 103.7,789 106.3,790.5 108.8,791 111,792.4 113,793 114.8,793.5 116.2,795.4 117.2,794.5 117.8,795.3 118,795.6 117.8,796.1 117.2,795.3 116.2,795.5 114.8,794.1 113,793.4 111,791.8 108.8,791.5 106.3,789.9 103.7,788.8 101.1,787.3 98.4,786.9 95.9,785.4 93.4,785 91.1,783.9 89.1,782.7 87.4,781.8 86,781.6 85,780.9 84.4,780.2 84.2,780.5 84.4,780.5 85,781 86,780.7 87.4,781.2 89.1,782.5 91.1,783.5 93.4,784 95.9,785.5 98.4,787 99.5,785.6 101.5,786.2 103.5,786.2 105.3,788 107,787.6 108.6,789.2 109.9,789.9 110.9,789.8 111.7,790.7 112.2,790.7 112.3,791.2 112.2,791.2 111.7,790.9 110.9,790.2 109.9,790 108.6,789.9 107,788.4 105.3,787.8 103.5,787 101.5,786.3 99.5,785.9 97.5,783.7 95.6,783.5 93.7,782.4 92,781.3 90.5,780.7 89.2,780.4 88.1,780 87.4,779.6 86.9,779.2 86.7,779.2 86.9,779.6 87.4,779.5 88.1,779.9 89.2,780.3 90.5,781 92,781.3 93.7,782.5 95.6,783.1 97.5,784.2 98,783 99.3,783.8 100.6,784.1 101.9,784.4 103.1,784.7 104.1,785.6 105,786.2 105.7,786.5 106.2,786.1 106.5,786.6 106.6,786.9 106.5,786.4 106.2,787 105.7,786.3 105,786 104.1,785.6 103.1,785.5 101.9,784.3 100.6,783.5 99.3,783.9 98,782.8 96.6,782 95.3,780.9 94,781.2 92.9,780.9 91.8,780.1 90.9,779 90.2,779.3 89.7,779 89.4,778.4 89.3,779.6 89.4,779.7 89.7,778.8 90.2,779.1 90.9,780.1 91.8,779.9 92.9,780.5 94,781 95.3,781.9 96.6,782.4 152.5,929.4 159.7,933.7 166.7,933.6 173.3,941.2 179.4,943.3 184.8,945.5 189.5,947.2 193.2,948.2 196,948.8 197.7,951.1 198.2,949.2 197.7,947.9 196,947.2 193.2,945.1 189.5,944.9 184.8,942.1 179.4,937 173.3,935.7 166.7,931.2 159.7,932.3 152.5,932.8 145.4,927.9 138.4,924.2 131.8,921.8 125.7,920 120.2,916.2 115.6,916.9 111.8,913.7 109.1,909.5 107.4,909.4 106.8,908.7 107.4,906.3 109.1,907.1 111.8,909.9 115.6,910.6 120.2,915.8 125.7,917.3 131.8,918.9 138.4,925.1 145.4,924.4 151.9,883.9 158.8,888.2 165.5,890.7 171.9,893.5 177.8,898 183.1,898.6 187.6,901.9 191.2,906.1 193.9,906.5 195.5,906.5 196,904.9 195.5,906.1 193.9,903.9 191.2,904.1 187.6,902.3 183.1,892.9 177.8,887.3 171.9,888.3 165.5,887.3 158.8,885.3 151.9,887.4 145,886.4 138.3,887.8 131.9,883.6 126,881.6 120.7,882.1 116.2,878.9 112.6,876.9 110,874.3 108.4,868.4 107.8,867.3 108.4,862.4 110,863.3 112.6,861.9 116.2,863.9 120.7,867.5 126,871.5 131.9,880 138.3,879.2 145,882.1 151.2,859 157.8,861.7 164.3,864.8 170.4,866.8 176.1,869.7 181.1,872.8 185.4,874.3 188.9,875.2 191.4,876.3 193,877.8 193.5,877.4 193,878.3 191.4,877.3 188.9,877.6 185.4,872.8 181.1,866.3 176.1,864.2 170.4,862.6 164.3,858.9 157.8,858.8 151.2,858.6 144.6,858.4 138.2,857.6 132,857.4 126.4,857.1 121.3,853.3 117,851 113.6,850.1 111,845.6 109.5,841.8 109,841.4 109.5,835.4 111,835.3 113.6,832.4 117,836.3 121.3,841 126.4,844.9 132,848.9 138.2,853.2 144.6,855.6 150.4,835.8 156.7,836.8 162.9,842.7 168.7,843.3 174.1,849 178.9,847.2 183,852.4 186.3,852.8 188.7,852.3 190.2,853.2 190.7,853.9 190.2,854.8 188.7,853.4 186.3,853.1 183,848.6 178.9,842.7 174.1,839.2 168.7,838.2 162.9,834.8 156.7,835.4 150.4,834.2 144.2,834.5 138,833.7 132.2,833.7 126.8,834.2 122,829.3 117.9,826.9 114.6,822.7 112.2,825.3 110.7,819 110.2,818.4 110.7,815 112.2,814.8 114.6,812.7 117.9,815.2 122,817.4 126.8,823.5 132.2,826.2 138,827.8 144.2,831.5 149.6,820.3 155.5,821 161.3,825 166.8,827.5 171.9,831.2 176.4,832.7 180.3,837.3 183.4,834.4 185.7,837.8 187,835.1 187.5,835 187,838.9 185.7,835.3 183.4,835.2 180.3,832.7 176.4,830.8 171.9,826 166.8,823.7 161.3,820.3 155.5,818.3 149.6,820 143.6,819.6 137.9,815.7 132.4,816.2 127.3,815.2 122.8,813.7 118.9,811 115.8,808.2 113.5,808.2 112.1,804.7 111.6,800.8 112.1,799.4 113.5,800.7 115.8,801 118.9,802.7 122.8,804.3 127.3,809.5 132.4,812.3 137.9,815.3 143.6,818.1 148.7,809.6 154.3,811.9 159.7,815.5 164.9,816.9 169.7,818.6 173.9,821.4 177.5,823.3 180.5,824.2 182.6,824 183.9,823.9 184.4,825.5 183.9,826.3 182.6,824.8 180.5,821.6 177.5,820.8 173.9,820.2 169.7,816 164.9,815.3 159.7,813.2 154.3,812.8 148.7,809.9 143.1,809.9 137.7,807.6 132.5,803.8 127.8,801.9 123.5,802.8 119.9,801.1 116.9,799.6 114.8,798.6 113.5,796.6 113.1,794 113.5,793.8 114.8,791.6 116.9,793.3 119.9,794.8 123.5,794.3 127.8,799.1 132.5,802.5 137.7,802.2 143.1,805.5 147.8,804.2 153.1,805.3 158.1,808.3 163,811.7 167.4,809.7 171.4,812.4 174.8,817 177.6,816.1 179.6,819.4 180.8,816.3 181.2,817.9 180.8,818.1 179.6,815.8 177.6,816.6 174.8,815.2 171.4,811.8 167.4,811.2 163,807.8 158.1,806.8 153.1,803.9 147.8,801.8 142.6,800.3 137.5,801 132.7,795.2 128.2,796.3 124.2,792 120.9,793.1 118.1,790.6 116.1,790.7 114.9,787.6 114.5,788.8 114.9,787.2 116.1,789.6 118.1,789.4 120.9,789.7 124.2,791.7 128.2,796.1 132.7,796.1 137.5,800.2 142.6,798.1 146.8,799.7 151.6,798.7 156.3,803.4 160.7,805.4 164.8,808.3 168.4,809.4 171.6,810.3 174.1,814.3 175.9,811.2 177,814.8 177.4,813.9 177,816.8 175.9,812.3 174.1,810.9 171.6,810.4 168.4,808.6 164.8,807.1 160.7,805 156.3,802 151.6,801.7 146.8,799.2 142,796.9 137.3,796.3 132.9,794 128.8,792.2 125.1,791.5 122,786.8 119.5,788.8 117.7,784.9 116.6,785 116.2,788.4 116.6,784.8 117.7,784.6 119.5,785.8 122,789.1 125.1,789.2 128.8,792.8 132.9,794.8 137.3,795.3 142,797.6 145.6,793.5 149.9,795.5 154.1,797.9 158,799.1 161.7,800.8 165,802.6 167.8,803 170,804.5 171.7,805.5 172.7,806 173,806.3 172.7,805.8 171.7,805.4 170,805.1 167.8,804 165,802.6 161.7,801.1 158,799.4 154.1,797.7 149.9,795.4 145.6,793.4 141.3,791.8 137.1,790.6 133.1,788.2 129.5,786.3 126.2,785 123.4,783.7 121.2,782.7 119.5,782.5 118.5,782.4 118.2,781.2 118.5,781.7 119.5,781.9 121.2,782.9 123.4,783.8 126.2,784.6 129.5,786.9 133.1,788.1 137.1,790.3 141.3,791.8 144.4,789.8 148.2,791.4 151.9,793.3 155.4,795.3 158.6,796.3 161.5,797.4 164,798.4 165.9,799 167.4,800.1 168.3,801 168.6,801 168.3,800.7 167.4,800 165.9,800 164,798.5 161.5,797.4 158.6,796.6 155.4,794.7 151.9,793.5 148.2,791.6 144.4,790 140.6,788.2 136.9,787 133.4,784.9 130.1,784.2 127.2,782.4 124.8,781.3 122.8,779.8 121.3,779.4 120.4,779.4 120.1,779.4 120.4,779.2 121.3,779.8 122.8,779.6 124.8,782 127.2,782.2 130.1,784.3 133.4,784.7 136.9,786.8 140.6,787.8 143,786.3 146.2,787.2 149.3,788.9 152.3,789.9 155.1,791.5 157.5,793.5 159.6,793.8 161.3,794.8 162.5,794.6 163.3,795 163.5,795.3 163.3,795.1 162.5,794.8 161.3,794.5 159.6,793 157.5,792.5 155.1,791.6 152.3,790.7 149.3,789.1 146.2,787.5 143,786.1 139.8,784.8 136.6,783.3 133.6,782.2 130.9,780.7 128.4,780 126.3,778.9 124.7,778.1 123.4,777.1 122.7,776.8 122.4,776.8 122.7,777.3 123.4,777.4 124.7,777.6 126.3,778.2 128.4,780 130.9,780.8 133.6,781.9 136.6,783.1 139.8,784.6 141.6,782.8 144.2,784.7 146.8,784.9 149.3,786.8 151.5,787.5 153.5,788.2 155.3,788.8 156.7,789.5 157.7,790 158.3,790.1 158.5,790.7 158.3,790.3 157.7,789.8 156.7,790 155.3,789.6 153.5,788.7 151.5,787.1 149.3,786.1 146.8,785.5 144.2,784.2 141.6,782.9 138.9,781.5 136.4,781.3 133.9,779.8 131.6,778.7 129.6,777.6 127.9,776.9 126.5,776.4 125.5,775.7 124.9,776.3 124.7,774.5 124.9,775.3 125.5,775.6 126.5,776.5 127.9,776.8 129.6,777 131.6,778 133.9,779.6 136.4,781.1 138.9,781.8 140,780.3 142,780.9 144,782.4 145.8,782.9 147.5,783.5 149.1,784.4 150.4,784.6 151.4,785.7 152.2,786.1 152.7,786 152.8,785.7 152.7,786 152.2,785.9 151.4,785.1 150.4,784.8 149.1,784.5 147.5,783.6 145.8,782.9 144,781.8 142,781.1 140,780.5 138,779.5 136.1,778.6 134.2,777.5 132.5,776.8 131,776.4 129.7,775.7 128.6,775 127.9,774.4 127.4,774.5 127.2,773.9 127.4,774.6 127.9,774.6 128.6,775.2 129.7,775.9 131,776.1 132.5,776.7 134.2,777.5 136.1,778.4 138,779.4 138.5,778.2 139.8,778.6 141.1,779 142.4,779.4 143.6,781.2 144.6,780.5 145.5,780.7 146.2,781 146.7,781.5 147,781.6 147.1,782 147,781.8 146.7,781.5 146.2,781.7 145.5,781.3 144.6,780.6 143.6,780.6 142.4,779.7 141.1,779.6 139.8,778.5 138.5,777.9 137.1,777.5 135.8,777 134.5,776.3 133.4,776.3 132.3,775.3 131.4,774.7 130.7,774.1 130.2,774.4 129.9,774.1 129.8,773.6 129.9,773.5 130.2,774.4 130.7,774.1 131.4,774.4 132.3,775 133.4,775.9 134.5,776.4 135.8,776.5 137.1,776.6 229.7,917.1 236.8,927.3 243.8,924.9 250.4,930.2 256.5,928.9 262,936.2 266.6,935.2 270.4,938.8 273.1,941 274.8,939.3 275.4,938.8 274.8,940.3 273.1,936.3 270.4,938.9 266.6,934.3 262,934.4 256.5,931.5 250.4,927.4 243.8,925.9 236.8,921.7 229.7,922.6 222.5,917.4 215.5,916.3 208.9,913.7 202.8,909.9 197.4,908.8 192.7,906.4 189,902.5 186.2,901.7 184.5,900.1 184,897.5 184.5,898.6 186.2,897.9 189,900.2 192.7,901 197.4,903.4 202.8,908.1 208.9,912.3 215.5,915.2 222.5,918 229.1,887.6 236,891.3 242.7,894.9 249.1,896.4 255,898.8 260.2,900.6 264.7,904.8 268.4,905.1 271,905.8 272.6,909 273.2,907.6 272.6,908.3 271,907.1 268.4,904.9 264.7,905.2 260.2,898.5 255,894.8 249.1,890.3 242.7,890.2 236,887.7 229.1,889.8 222.2,888.9 215.4,886.5 209,885.2 203.1,884.7 197.9,883.8 193.4,877.9 189.8,875.1 187.1,875 185.5,873.3 185,869.9 185.5,863.2 187.1,865 189.8,865.3 193.4,864.9 197.9,867.9 203.1,876.5 209,879.8 215.4,883 222.2,886 228.4,854.2 235,858.4 241.4,862.1 247.6,864.3 253.2,867.1 258.3,869.6 262.6,872.8 266,874.9 268.6,871.7 270.1,875.9 270.6,873.6 270.1,876 268.6,872.9 266,872 262.6,870.3 258.3,861.8 253.2,861.9 247.6,858.6 241.4,858.2 235,857.1 228.4,856.7 221.8,856.7 215.3,855.3 209.2,851.7 203.5,855.4 198.5,854.3 194.2,850 190.7,846.8 188.2,841.7 186.6,839.4 186.1,836.7 186.6,834.2 188.2,829.3 190.7,834.3 194.2,835.6 198.5,838.4 203.5,843.5 209.2,848 215.3,851.2 221.8,854.8 227.6,829.3 233.9,832.8 240,835.7 245.8,839.3 251.2,838.4 256,841.6 260.1,841.6 263.4,846.3 265.8,846 267.3,847.1 267.8,847.4 267.3,847.6 265.8,846.7 263.4,847.9 260.1,843.2 256,837.9 251.2,837.3 245.8,833.2 240,829.9 233.9,827.9 227.6,829.8 221.3,828.2 215.2,825.9 209.3,825 203.9,825 199.2,824.7 195.1,819.5 191.8,818.4 189.3,817 187.9,814.2 187.4,810.7 187.9,809.7 189.3,808.2 191.8,808.3 195.1,811.8 199.2,810 203.9,815.8 209.3,819.4 215.2,824.4 221.3,826.6 226.7,811.5 232.7,813.8 238.4,820.1 243.9,819.5 249,823.2 253.5,824 257.4,827.2 260.5,824.9 262.8,827.8 264.2,829.1 264.7,827.3 264.2,829.1 262.8,828.9 260.5,827.1 257.4,825.5 253.5,821.3 249,816.4 243.9,815.3 238.4,814 232.7,811.6 226.7,811.3 220.8,809.4 215,809.9 209.5,809.3 204.4,808.2 199.9,807.5 196,801.6 192.9,800.3 190.6,799.7 189.3,798.2 188.8,794.2 189.3,793.9 190.6,792.3 192.9,793.7 196,795.8 199.9,794.4 204.4,802.9 209.5,803.5 215,805.2 220.8,811.3 225.9,798.9 231.4,802.5 236.9,805.9 242,807.3 246.8,811.2 251.1,814.3 254.7,810.5 257.6,814.5 259.8,813.9 261.1,815 261.5,815.6 261.1,816.1 259.8,814.5 257.6,812.9 254.7,812.6 251.1,807.8 246.8,807.4 242,805.1 236.9,803.5 231.4,801.5 225.9,799.6 220.3,796.7 214.8,796.4 209.7,795.8 204.9,791.6 200.6,792.8 197,789.6 194.1,788.2 191.9,788 190.6,786.8 190.2,784 190.6,783.6 191.9,784 194.1,783.3 197,785 200.6,788.5 204.9,793.1 209.7,793.6 214.8,793 220.3,796.3 225,792.4 230.2,796.2 235.3,796.6 240.1,801.5 244.6,802.9 248.6,803.5 252,808.1 254.7,806.9 256.7,807.5 257.9,806.7 258.3,809.9 257.9,808.4 256.7,808.3 254.7,807.1 252,808.8 248.6,804 244.6,800.2 240.1,798.1 235.3,796.4 230.2,791.8 225,793.3 219.8,793.2 214.7,790.4 209.8,788 205.4,784.6 201.4,786.2 198,782.8 195.3,780.3 193.3,781.6 192,779 191.6,781 192,778.1 193.3,781.2 195.3,779.6 198,778.1 201.4,781.4 205.4,784.5 209.8,786.6 214.7,786.3 219.8,790.7 223.9,789.1 228.7,793.6 233.4,794.9 237.8,797.6 241.9,798.9 245.6,800.2 248.7,800.5 251.2,801.3 253.1,803.4 254.2,804.4 254.6,807.3 254.2,804.3 253.1,802.9 251.2,802 248.7,805.6 245.6,802.5 241.9,797 237.8,796.9 233.4,794.2 228.7,792.6 223.9,789.3 219.2,790.2 214.5,787.5 210,783.2 205.9,782.6 202.3,782.8 199.2,779.7 196.7,777.9 194.8,778.7 193.7,776.2 193.3,775.6 193.7,776.2 194.8,775.4 196.7,778.3 199.2,777.6 202.3,780.6 205.9,783.3 210,785.1 214.5,784.6 219.2,788.4 222.7,783.8 227,786.1 231.2,788.1 235.2,790.2 238.8,791.9 242.1,792.9 244.9,794.2 247.2,795.5 248.8,796.2 249.8,796 250.1,796.3 249.8,796.5 248.8,796 247.2,794.9 244.9,794.2 242.1,793 238.8,792.1 235.2,790.5 231.2,788.8 227,787 222.7,784.3 218.4,782.3 214.3,780.8 210.3,778.6 206.6,777 203.3,775.7 200.5,774.9 198.3,772.9 196.6,772.2 195.6,772.4 195.3,771.4 195.6,772.2 196.6,772.9 198.3,773.5 200.5,775 203.3,775.8 206.6,777.6 210.3,778.4 214.3,780.4 218.4,782.9 221.5,780.4 225.3,782.8 229,783.9 232.5,785.3 235.7,786.9 238.6,788.6 241.1,789.4 243.1,790.3 244.5,790.9 245.4,790.8 245.7,790.9 245.4,790.8 244.5,791.1 243.1,790.5 241.1,789.4 238.6,788.1 235.7,787.6 232.5,785.7 229,783.3 225.3,782.7 221.5,780.8 217.7,779.1 214,777.1 210.5,775.7 207.3,774.3 204.4,773.4 201.9,771.6 199.9,770.9 198.5,770.5 197.6,769.8 197.3,769.5 197.6,770.3 198.5,770.7 199.9,771.2 201.9,772.1 204.4,773.9 207.3,774.4 210.5,775.3 214,777.3 217.7,778.5 220.1,777.6 223.3,778.2 226.5,779.1 229.5,780.4 232.2,782.3 234.7,783.5 236.8,784.1 238.4,785.3 239.7,785.6 240.4,786.4 240.7,785.9 240.4,785.8 239.7,785 238.4,784.8 236.8,784.4 234.7,783.3 232.2,782.6 229.5,780.9 226.5,779.6 223.3,778 220.1,776.4 216.9,775.9 213.8,773.8 210.8,772.3 208,771.7 205.6,769.6 203.5,769.5 201.8,767.7 200.6,767.7 199.8,767.3 199.6,767.4 199.8,767.3 200.6,768.3 201.8,768.8 203.5,769.9 205.6,770 208,771.5 210.8,772.3 213.8,773.7 216.9,775.7 218.7,773.4 221.4,774.8 224,776 226.4,777 228.7,778.1 230.7,779 232.4,779.5 233.8,780.8 234.8,781.3 235.4,781.4 235.6,780.9 235.4,781.3 234.8,780.3 233.8,781.4 232.4,780 230.7,779.2 228.7,778 226.4,776.7 224,776.1 221.4,775.2 218.7,773.4 216.1,772 213.5,772.2 211.1,770 208.8,769.1 206.8,768.6 205.1,767.7 203.7,766.8 202.6,766.4 202,766.3 201.8,766.5 202,766.1 202.6,766.7 203.7,766.9 205.1,767.7 206.8,768.2 208.8,769 211.1,770.2 213.5,771.1 216.1,772.9 217.2,770.7 219.2,771.7 221.1,772.8 223,773.5 224.7,775.2 226.2,774.9 227.5,775.6 228.6,776.7 229.3,776.2 229.8,776.7 230,776.5 229.8,776.6 229.3,776.2 228.6,776 227.5,775.6 226.2,774.8 224.7,774 223,774.2 221.1,772.6 219.2,772 217.2,771.2 215.2,769.6 213.2,768.8 211.4,768.6 209.6,767.9 208.1,766.6 206.8,766.4 205.8,765.9 205,766.1 204.5,765.2 204.4,764.8 204.5,765.4 205,765.5 205.8,765.2 206.8,765.9 208.1,766.4 209.6,767.3 211.4,767.9 213.2,769.6 215.2,770.2 215.6,769.1 217,768.4 218.3,769.7 219.5,770.4 220.7,771.1 221.7,771.6 222.6,772.6 223.3,771.3 223.9,772.3 224.2,772.4 224.3,772.9 224.2,772.4 223.9,772.1 223.3,772.1 222.6,771.5 221.7,771.6 220.7,770.7 219.5,770 218.3,769.6 217,769 215.6,768.6 214.2,768.3 212.9,767.2 211.7,766.9 210.5,766.6 209.5,765.6 208.6,765.9 207.9,765.3 207.3,764.6 207,764.4 206.9,764.8 207,764.7 207.3,764.7 207.9,765.1 208.6,765.7 209.5,765.7 210.5,766.2 211.7,766.8 212.9,767 214.2,767.9 268.2,917.9 275.4,922.5 282.4,924.5 289,928.7 295.1,929 300.6,933.9 305.2,933.5 309,935.6 311.7,937.9 313.4,940.2 313.9,938.2 313.4,939.5 311.7,937.7 309,938 305.2,935.2 300.6,931.2 295.1,926.8 289,927.3 282.4,923.6 275.4,920.2 268.2,918.1 261.1,917.1 254.1,910.5 247.5,912.5 241.4,908.6 235.9,907.4 231.3,904.1 227.5,905.4 224.8,899.7 223.1,899.5 222.5,899.5 223.1,895.1 224.8,898 227.5,899.1 231.3,900.9 235.9,901.3 241.4,905.6 247.5,909.8 254.1,914.1 261.1,915.8 267.6,875.5 274.5,879.5 281.3,884.9 287.7,886.4 293.6,887.9 298.8,886.7 303.3,893.3 306.9,896.5 309.6,894.8 311.2,896.3 311.7,897.8 311.2,895.4 309.6,895.7 306.9,895.4 303.3,893.2 298.8,886 293.6,881.1 287.7,881.5 281.3,876 274.5,879 267.6,874.8 260.7,875.7 254,875.9 247.6,873.6 241.7,873.8 236.5,871.9 232,866.4 228.3,865.9 225.7,861.8 224.1,861.1 223.5,856.2 224.1,852.8 225.7,853.5 228.3,851.6 232,856.6 236.5,858.8 241.7,863.9 247.6,866.3 254,869.4 260.7,874.4 266.9,844.2 273.6,846.9 280,852.3 286.1,853 291.8,853.5 296.8,856 301.1,859.8 304.6,861.4 307.1,863 308.7,862.9 309.2,863.4 308.7,862.2 307.1,861.8 304.6,862.4 301.1,857.2 296.8,851.1 291.8,849.3 286.1,846 280,845.2 273.6,846.2 266.9,843.6 260.3,843.6 253.9,841 247.7,841.8 242.1,841.9 237,839.9 232.7,836.1 229.3,832.9 226.7,832 225.2,828.6 224.7,824.1 225.2,825.2 226.7,818.9 229.3,821.1 232.7,820.6 237,826.3 242.1,831.8 247.7,835.4 253.9,837.9 260.3,840.1 266.2,819.6 272.5,823.1 278.6,825.5 284.4,828.7 289.8,829.2 294.6,833.1 298.7,831.6 302,835.1 304.4,836 305.9,835.9 306.4,836.9 305.9,837.4 304.4,835.7 302,834.9 298.7,833.7 294.6,824.7 289.8,823.9 284.4,823.7 278.6,820.7 272.5,818.6 266.2,818.5 259.9,817.4 253.7,814.8 247.9,815.6 242.5,811.8 237.7,813.3 233.6,812.1 230.3,806.1 227.9,807 226.4,803.1 225.9,800.8 226.4,800.2 227.9,799 230.3,798 233.6,798 237.7,799.9 242.5,807.4 247.9,808.2 253.7,812.2 259.9,817.2 265.3,808.3 271.2,809.3 277,813.1 282.5,814.8 287.6,815.8 292.1,819 296,819 299.1,823.1 301.4,824.3 302.8,825.8 303.2,826.1 302.8,824.1 301.4,823.3 299.1,822.3 296,820.2 292.1,814 287.6,814.6 282.5,810.9 277,809.5 271.2,808.8 265.3,805.5 259.4,806.3 253.6,803.3 248.1,804.6 243,799.4 238.5,798.1 234.6,799.6 231.5,795.5 229.2,793.9 227.8,791.5 227.4,791.2 227.8,787.9 229.2,786.6 231.5,788.2 234.6,792.4 238.5,793.3 243,797.3 248.1,798.2 253.6,802.4 259.4,805.6 264.4,797.9 270,800.8 275.4,802.5 280.6,806.4 285.4,806.8 289.6,809.3 293.3,814.1 296.2,812.3 298.3,812.9 299.6,814.2 300.1,812.7 299.6,815.3 298.3,812.5 296.2,814.3 293.3,811.2 289.6,809 285.4,807.2 280.6,805.2 275.4,801.4 270,799.5 264.4,799.8 258.8,798.9 253.4,797.2 248.2,793.8 243.5,794.3 239.2,790.2 235.6,791.6 232.7,787 230.5,784.6 229.2,783 228.8,784.1 229.2,782.9 230.5,782.4 232.7,780.9 235.6,783.4 239.2,786.3 243.5,789.2 248.2,790.8 253.4,793.9 258.8,794.4 263.6,793.3 268.8,791.3 273.9,795.9 278.7,797 283.2,799.6 287.1,800.8 290.5,801.7 293.3,803.1 295.3,806.2 296.5,805.2 296.9,805.5 296.5,804.8 295.3,804.5 293.3,803.5 290.5,800.7 287.1,801.1 283.2,794.4 278.7,796.5 273.9,795 268.8,790.6 263.6,788.6 258.3,786.7 253.2,784.7 248.4,783.5 243.9,782.9 240,781.1 236.6,779.4 233.8,778.3 231.8,774.5 230.6,773.6 230.2,774.9 230.6,774.9 231.8,775.5 233.8,777.4 236.6,777.4 240,779.2 243.9,780.6 248.4,784.8 253.2,787.5 258.3,786.3 262.5,780 267.3,787.8 272,787.4 276.4,788.6 280.5,792.6 284.2,793.7 287.3,794.5 289.8,796 291.6,796.6 292.8,794.2 293.1,795.3 292.8,795.7 291.6,796 289.8,796.1 287.3,792.5 284.2,792.9 280.5,788.1 276.4,786.8 272,787.7 267.3,784.3 262.5,781 257.7,780.3 253.1,780.5 248.6,777.9 244.5,776.1 240.9,773.7 237.7,772.8 235.2,771.9 233.4,769.1 232.3,767.9 231.9,769.6 232.3,770.4 233.4,768.9 235.2,769.9 237.7,771.5 240.9,773.7 244.5,774.1 248.6,778.2 253.1,776.8 257.7,779.2 261.3,779.2 265.6,781.8 269.8,783.8 273.7,785.4 277.4,787 280.7,788.7 283.5,790.1 285.7,790.8 287.4,791.1 288.4,791.7 288.7,791.5 288.4,792 287.4,791.5 285.7,790.7 283.5,789.6 280.7,788.2 277.4,786.3 273.7,785 269.8,783.4 265.6,781.1 261.3,779.9 257,778.2 252.8,775.6 248.8,774 245.2,772.4 241.9,770.7 239.1,769.8 236.9,768.7 235.2,767.8 234.2,767.3 233.9,767 234.2,767.5 235.2,767.9 236.9,769.5 239.1,769.3 241.9,771.5 245.2,772.4 248.8,773.3 252.8,776 257,778.3 260.1,775.4 263.9,777.8 267.6,779.3 271.1,780.9 274.3,782 277.2,783.3 279.7,784.7 281.7,785.2 283.1,786.5 284,786.4 284.3,787 284,786.4 283.1,786.4 281.7,785.7 279.7,784.2 277.2,783.9 274.3,782.7 271.1,780.6 267.6,779.3 263.9,777.7 260.1,775.9 256.3,773.5 252.6,772.9 249.1,771 245.8,769.4 243,768.5 240.5,767.1 238.5,766.1 237,765.8 236.2,764.8 235.9,765.4 236.2,765.2 237,765.4 238.5,765.2 240.5,767.7 243,768.1 245.8,768.7 249.1,771.1 252.6,772.2 256.3,774.1 258.7,772.5 261.9,773.4 265,775.2 268,776.2 270.8,777.9 273.2,778.3 275.3,780.3 277,780.3 278.3,780.4 279,781 279.3,781.4 279,781.2 278.3,780.9 277,779.4 275.3,779.5 273.2,778.6 270.8,777.7 268,776.4 265,774.7 261.9,773.7 258.7,772.3 255.5,770.8 252.3,769.3 249.4,767.8 246.6,766.8 244.1,765.6 242.1,764.8 240.4,763.4 239.1,763.2 238.4,763 238.1,762.7 238.4,762.9 239.1,763.8 240.4,763.9 242.1,764 244.1,765.4 246.6,766.2 249.4,768.1 252.3,769.7 255.5,770.8 257.3,768.6 259.9,770.5 262.5,771.6 265,772.1 267.2,773.5 269.3,774.4 271,775 272.4,775.7 273.4,776.3 274,776.4 274.2,776.8 274,776.5 273.4,776 272.4,776.1 271,775.2 269.3,774.7 267.2,773.2 265,772.2 262.5,771 259.9,769.8 257.3,768.7 254.7,767.6 252.1,766.9 249.6,765.2 247.4,764.8 245.3,762.9 243.6,762.8 242.2,762 241.2,762.2 240.6,761.2 240.4,761 240.6,762 241.2,762 242.2,762.4 243.6,763.1 245.3,763.2 247.4,763.8 249.6,765.9 252.1,766.3 254.7,767.9 255.7,765.7 257.7,767.9 259.7,768.1 261.5,768.4 263.3,769.8 264.8,769.9 266.1,771 267.1,770.9 267.9,771.5 268.4,772 268.5,772.2 268.4,771.9 267.9,771.3 267.1,771.3 266.1,771.1 264.8,769.2 263.3,770.1 261.5,768.9 259.7,767.8 257.7,767.4 255.7,766.2 253.7,765.4 251.8,764.9 249.9,763.4 248.2,763.2 246.7,762.4 245.4,761.1 244.3,761.4 243.6,760.5 243.1,760.1 242.9,760.1 243.1,760.4 243.6,760.8 244.3,761.5 245.4,761.5 246.7,762 248.2,763 249.9,763.9 251.8,764.1 253.7,765.6 254.2,763.7 255.5,764.6 256.9,765.6 258.1,765.1 259.3,766 260.3,766.5 261.2,767.5 261.9,767.4 262.4,767.5 262.8,768 262.9,767.2 262.8,768.4 262.4,767.4 261.9,768 261.2,767.5 260.3,767 259.3,766 258.1,765.9 256.9,765.3 255.5,764.8 254.2,764.4 252.8,763.6 251.5,763 250.2,762.2 249.1,761.7 248,761.9 247.2,760.9 246.4,760 245.9,760.3 245.6,760.1 245.5,760.2 245.6,760.3 245.9,760.2 246.4,760.9 247.2,760.8 248,761.7 249.1,761.5 250.2,762.6 251.5,762.5 252.8,763" fill="none" stroke="none" marker-start="url(#gs)" marker-mid="url(#gs)" marker-end="url(#gs)"/>
<polyline points="549.7,842.5 557,846.3 564.2,850.1 571,853.6 577.3,856.9 582.9,859.8 587.6,862.3 591.5,864.3 594.3,865.8 596,866.6 596.6,867 596,866.6 594.3,865.8 591.5,864.3 587.6,862.3 582.9,859.8 577.3,856.9 571,853.6 564.2,850.1 557,846.3 549.7,842.5 542.4,838.7 535.2,834.9 528.4,831.4 522.1,828.1 516.5,825.2 511.8,822.7 507.9,820.7 505.1,819.2 503.4,818.4 502.8,818 503.4,818.4 505.1,819.2 507.9,820.7 511.8,822.7 516.5,825.2 522.1,828.1 528.4,831.4 535.2,834.9 542.4,838.7 549.1,833.7 556.2,837.3 563.1,840.9 569.6,844.4 575.7,847.5 581.1,850.3 585.7,852.7 589.4,854.7 592.1,856.1 593.8,857 594.3,857.2 593.8,857 592.1,856.1 589.4,854.7 585.7,852.7 581.1,850.3 575.7,847.5 569.6,844.4 563.1,840.9 556.2,837.3 549.1,833.7 542,830 535.1,826.4 528.5,822.9 522.5,819.8 517.1,817 512.5,814.6 508.8,812.6 506,811.2 504.4,810.4 503.8,810.1 504.4,810.4 506,811.2 508.8,812.6 512.5,814.6 517.1,817 522.5,819.8 528.5,822.9 535.1,826.4 542,830 548.4,824.8 555.1,828.3 561.8,831.8 568.1,835 573.9,838.1 579,840.8 583.5,843.1 587,844.9 589.6,846.3 591.2,847.1 591.7,847.4 591.2,847.1 589.6,846.3 587,844.9 583.5,843.1 579,840.8 573.9,838.1 568.1,835 561.8,831.8 555.1,828.3 548.4,824.8 541.6,821.2 535,817.8 528.7,814.5 522.9,811.5 517.7,808.8 513.3,806.5 509.7,804.6 507.1,803.3 505.5,802.4 505,802.1 505.5,802.4 507.1,803.3 509.7,804.6 513.3,806.5 517.7,808.8 522.9,811.5 528.7,814.5 535,817.8 541.6,821.2 547.6,816.8 554,820.1 560.3,823.4 566.3,826.5 571.8,829.3 576.7,831.9 581,834.1 584.3,835.8 586.8,837.2 588.3,838 588.8,838.3 588.3,838.1 586.8,837.3 584.3,836.1 581,834.4 576.7,832.3 571.8,829.8 566.3,827 560.3,823.9 554,820.7 547.6,817.4 541.1,814.1 534.8,810.8 528.8,807.7 523.3,804.9 518.4,802.3 514.2,800.1 510.8,798.4 508.3,797 506.8,796.2 506.3,795.9 506.8,796.1 508.3,796.9 510.8,798.1 514.2,799.8 518.4,801.9 523.3,804.4 528.8,807.2 534.8,810.3 541.1,813.5 546.7,809.9 552.8,812.9 558.7,815.9 564.3,818.8 569.6,821.4 574.2,823.8 578.2,825.9 581.4,827.6 583.7,828.9 585.1,829.7 585.6,830.1 585.1,830 583.7,829.4 581.4,828.4 578.2,826.9 574.2,825 569.6,822.8 564.3,820.3 558.7,817.5 552.8,814.6 546.7,811.6 540.6,808.5 534.6,805.5 529,802.7 523.8,800 519.1,797.6 515.2,795.5 512,793.8 509.6,792.6 508.2,791.7 507.7,791.4 508.2,791.5 509.6,792 512,793.1 515.2,794.6 519.1,796.4 523.8,798.7 529,801.2 534.6,803.9 540.6,806.9 545.8,804.9 551.5,807.7 557.1,810.5 562.4,813.1 567.3,815.6 571.6,817.8 575.4,819.8 578.4,821.4 580.6,822.6 581.9,823.5 582.4,823.9 581.9,823.8 580.6,823.4 578.4,822.5 575.4,821.2 571.6,819.5 567.3,817.5 562.4,815.2 557.1,812.7 551.5,810 545.8,807.3 540.1,804.5 534.5,801.7 529.2,799.1 524.3,796.6 519.9,794.3 516.2,792.4 513.2,790.8 511,789.5 509.6,788.7 509.2,788.3 509.6,788.3 511,788.8 513.2,789.7 516.2,791 519.9,792.7 524.3,794.7 529.2,797 534.5,799.5 540.1,802.2 544.9,801.7 550.2,804.2 555.5,806.8 560.4,809.2 565,811.5 569.1,813.6 572.6,815.5 575.4,817 577.4,818.2 578.7,819 579.1,819.4 578.7,819.4 577.4,819 575.4,818.2 572.6,817 569.1,815.5 565,813.7 560.4,811.6 555.5,809.3 550.2,806.8 544.9,804.3 539.5,801.7 534.3,799.2 529.3,796.7 524.8,794.4 520.7,792.3 517.2,790.5 514.4,789 512.3,787.8 511.1,787 510.7,786.6 511.1,786.6 512.3,787 514.4,787.8 517.2,788.9 520.7,790.5 524.8,792.3 529.3,794.4 534.3,796.7 539.5,799.1 543.8,799.3 548.7,801.7 553.5,804 558.1,806.3 562.3,808.4 566,810.3 569.2,812 571.8,813.4 573.7,814.5 574.9,815.2 575.2,815.6 574.9,815.6 573.7,815.2 571.8,814.5 569.2,813.5 566,812.1 562.3,810.5 558.1,808.6 553.5,806.5 548.7,804.2 543.8,801.9 538.9,799.6 534.1,797.2 529.6,795 525.3,792.9 521.6,791 518.4,789.3 515.8,787.9 513.9,786.8 512.8,786.1 512.4,785.7 512.8,785.7 513.9,786 515.8,786.7 518.4,787.8 521.6,789.1 525.3,790.8 529.6,792.7 534.1,794.8 538.9,797 542.6,797.7 547,799.8 551.3,801.9 555.3,803.9 559.1,805.8 562.5,807.5 565.3,809 567.6,810.2 569.3,811.2 570.4,811.9 570.7,812.2 570.4,812.2 569.3,811.9 567.6,811.3 565.3,810.3 562.5,809.1 559.1,807.6 555.3,805.9 551.3,804.1 547,802.1 542.6,800 538.2,797.9 533.9,795.8 529.8,793.8 526,791.9 522.7,790.2 519.8,788.7 517.5,787.4 515.8,786.4 514.8,785.8 514.4,785.4 514.8,785.4 515.8,785.7 517.5,786.4 519.8,787.3 522.7,788.5 526,790 529.8,791.7 533.9,793.6 538.2,795.6 541.3,796.5 545.2,798.4 549,800.2 552.6,802 555.9,803.7 558.9,805.2 561.4,806.5 563.5,807.6 565,808.5 565.9,809.1 566.2,809.4 565.9,809.4 565,809.1 563.5,808.5 561.4,807.7 558.9,806.6 555.9,805.3 552.6,803.8 549,802.2 545.2,800.4 541.3,798.5 537.4,796.7 533.6,794.8 530,793.1 526.7,791.4 523.7,789.9 521.2,788.6 519.2,787.5 517.7,786.6 516.8,786 516.5,785.7 516.8,785.7 517.7,786 519.2,786.5 521.2,787.4 523.7,788.4 526.7,789.8 530,791.3 533.6,792.9 537.4,794.7 539.9,795.6 543.2,797.2 546.4,798.8 549.5,800.3 552.3,801.7 554.8,803 557,804.1 558.7,805.1 560,805.8 560.7,806.3 561,806.6 560.7,806.6 560,806.3 558.7,805.8 557,805.1 554.8,804.2 552.3,803.1 549.5,801.8 546.4,800.4 543.2,798.9 539.9,797.4 536.6,795.8 533.4,794.2 530.3,792.7 527.5,791.3 525,790 522.8,788.9 521.1,787.9 519.8,787.2 519.1,786.7 518.8,786.5 519.1,786.5 519.8,786.7 521.1,787.2 522.8,787.9 525,788.8 527.5,789.9 530.3,791.2 533.4,792.6 536.6,794.1 538.5,794.9 541.2,796.2 543.8,797.5 546.4,798.7 548.7,799.9 550.7,800.9 552.5,801.9 553.9,802.6 555,803.2 555.6,803.7 555.8,803.9 555.6,803.9 555,803.7 553.9,803.3 552.5,802.7 550.7,802 548.7,801 546.4,800 543.8,798.8 541.2,797.6 538.5,796.3 535.8,795 533.1,793.7 530.6,792.5 528.3,791.3 526.2,790.3 524.4,789.3 523,788.6 522,788 521.3,787.6 521.1,787.4 521.3,787.3 522,787.5 523,787.9 524.4,788.5 526.2,789.3 528.3,790.2 530.6,791.2 533.1,792.4 535.8,793.6 536.9,794.2 538.9,795.2 540.9,796.1 542.8,797.1 544.6,798 546.2,798.8 547.5,799.5 548.6,800 549.4,800.5 549.8,800.8 550,801 549.8,801 549.4,800.8 548.6,800.5 547.5,800.1 546.2,799.5 544.6,798.8 542.8,798 540.9,797.2 538.9,796.2 536.9,795.3 534.8,794.3 532.8,793.3 530.9,792.4 529.1,791.5 527.6,790.7 526.2,790 525.2,789.4 524.4,788.9 523.9,788.6 523.7,788.5 523.9,788.5 524.4,788.6 525.2,788.9 526.2,789.4 527.6,789.9 529.1,790.6 530.9,791.4 532.8,792.3 534.8,793.2" fill="none" stroke="none" marker-start="url(#rd)" marker-mid="url(#rd)" marker-end="url(#rd)"/>
<polyline points="549.7,837 557,840.9 564.2,844.3 571,848.1 577.3,851.1 582.9,854.5 587.6,856.7 591.5,858.3 594.3,859.8 596,861.2 596.6,861.4 596,861.2 594.3,860.3 591.5,858.7 587.6,856.3 582.9,854.1 577.3,850.8 571,847.5 564.2,844.9 557,840.7 549.7,837.1 542.4,833.7 535.2,829.8 528.4,826 522.1,822 516.5,819.6 511.8,817.2 507.9,815.2 505.1,814 503.4,812.8 502.8,812.5 503.4,813.4 505.1,813.9 507.9,814 511.8,817 516.5,819.7 522.1,822.4 528.4,826.2 535.2,829.4 542.4,832.8 549.1,830 556.2,833.4 563.1,836.9 569.6,840.3 575.7,843.5 581.1,846.1 585.7,848.2 589.4,850.4 592.1,851.6 593.8,852.5 594.3,853.3 593.8,852.7 592.1,852.1 589.4,850.3 585.7,848.7 581.1,846.2 575.7,842.8 569.6,840.3 563.1,837.3 556.2,833.2 549.1,829.4 542,826 535.1,822.2 528.5,818.4 522.5,815.8 517.1,812.9 512.5,810.6 508.8,808.4 506,807.1 504.4,806.5 503.8,806 504.4,805.6 506,807.6 508.8,808.9 512.5,810.3 517.1,813.3 522.5,815 528.5,819.3 535.1,822.6 542,826 548.4,822.3 555.1,825.9 561.8,829.4 568.1,832.8 573.9,835.5 579,839.2 583.5,840.8 587,842.3 589.6,844.5 591.2,844.9 591.7,844.8 591.2,844.5 589.6,844.2 587,842.2 583.5,840.8 579,838.3 573.9,836.3 568.1,833.1 561.8,829.9 555.1,825.6 548.4,823.4 541.6,819.7 535,815.4 528.7,812.3 522.9,810.3 517.7,806.8 513.3,804.4 509.7,802.1 507.1,801.8 505.5,800.5 505,799.7 505.5,800 507.1,801.4 509.7,802.6 513.3,804.8 517.7,806.2 522.9,809.5 528.7,811.9 535,815.4 541.6,819.4 547.6,814.9 554,818 560.3,821.3 566.3,824 571.8,827 576.7,829.8 581,831.9 584.3,834.1 586.8,835.4 588.3,835.8 588.8,836.2 588.3,836.5 586.8,835.4 584.3,834.4 581,832.6 576.7,829.9 571.8,828.2 566.3,825.2 560.3,821.8 554,818.7 547.6,815.4 541.1,812.6 534.8,808.9 528.8,805.9 523.3,803.2 518.4,800.6 514.2,798.3 510.8,796.1 508.3,794.5 506.8,794.2 506.3,793.5 506.8,794.1 508.3,795.4 510.8,796.1 514.2,797.4 518.4,799.5 523.3,802.7 528.8,804.5 534.8,808.6 541.1,811.8 546.7,809.1 552.8,811.5 558.7,814.8 564.3,817.5 569.6,821.2 574.2,822.9 578.2,825 581.4,826.4 583.7,828.1 585.1,828.4 585.6,829.4 585.1,829.5 583.7,829 581.4,827 578.2,825.7 574.2,824.3 569.6,821.5 564.3,819.4 558.7,816.6 552.8,814.1 546.7,810.8 540.6,807.5 534.6,804.5 529,801.9 523.8,798.7 519.1,796.2 515.2,794.9 512,792.8 509.6,792.1 508.2,790.6 507.7,790.7 508.2,790.6 509.6,791 512,792.2 515.2,793.3 519.1,795.7 523.8,797.9 529,800.1 534.6,803 540.6,805.8 545.8,804.9 551.5,807.9 557.1,810.2 562.4,813 567.3,815.2 571.6,817.3 575.4,819.8 578.4,821.6 580.6,822.7 581.9,823.6 582.4,824.5 581.9,823.2 580.6,823.2 578.4,821.6 575.4,821.3 571.6,819.2 567.3,817.3 562.4,815.2 557.1,812.3 551.5,809.9 545.8,807.2 540.1,804.3 534.5,802.4 529.2,799.2 524.3,796.7 519.9,793.7 516.2,792.1 513.2,790.4 511,789.3 509.6,788.7 509.2,787.7 509.6,788.3 511,789.2 513.2,789.4 516.2,790.6 519.9,792.6 524.3,794.5 529.2,796.6 534.5,798.9 540.1,801.9 544.9,800.7 550.2,803.7 555.5,805.7 560.4,809.3 565,810.8 569.1,813.1 572.6,815 575.4,817 577.4,817.4 578.7,818.6 579.1,819.3 578.7,819.2 577.4,818.6 575.4,817.7 572.6,816.9 569.1,815.4 565,813.1 560.4,811.2 555.5,808.2 550.2,806.5 544.9,803.6 539.5,800.7 534.3,798.8 529.3,796 524.8,793.9 520.7,791.9 517.2,789.5 514.4,788.9 512.3,787.6 511.1,787.1 510.7,786.2 511.1,785.8 512.3,786.6 514.4,787.1 517.2,788.8 520.7,789.7 524.8,791.9 529.3,794.1 534.3,795.7 539.5,798.7 543.8,799.3 548.7,801.8 553.5,803.9 558.1,806.4 562.3,808.9 566,810.3 569.2,812 571.8,813.4 573.7,814.7 574.9,814.7 575.2,816 574.9,815.7 573.7,815.3 571.8,815 569.2,814 566,812 562.3,810.4 558.1,808.7 553.5,807.1 548.7,804.5 543.8,802 538.9,799.5 534.1,797 529.6,795 525.3,792.7 521.6,790.6 518.4,790.2 515.8,787.7 513.9,787.1 512.8,786 512.4,785.7 512.8,786.1 513.9,786.4 515.8,786.7 518.4,788 521.6,789 525.3,791.1 529.6,792.1 534.1,795 538.9,796.5 542.6,798.1 547,799.8 551.3,801.7 555.3,804.5 559.1,806.2 562.5,807.5 565.3,808.8 567.6,810 569.3,811.2 570.4,811.7 570.7,812.8 570.4,812.5 569.3,811.6 567.6,811.6 565.3,810.6 562.5,809.8 559.1,807.9 555.3,806.6 551.3,804.1 547,801.7 542.6,800 538.2,798 533.9,796.1 529.8,793.8 526,792.4 522.7,790.5 519.8,788.1 517.5,788 515.8,786.8 514.8,786.4 514.4,785.2 514.8,785.7 515.8,786.3 517.5,786.9 519.8,787.1 522.7,788.5 526,789.9 529.8,791.9 533.9,793.5 538.2,795.3 541.3,795.9 545.2,798.5 549,800.4 552.6,802.1 555.9,803.2 558.9,805.2 561.4,806.4 563.5,807.2 565,808.3 565.9,809.1 566.2,808.6 565.9,808.8 565,808.4 563.5,807.8 561.4,806.8 558.9,806.2 555.9,805 552.6,804 549,801.8 545.2,800.2 541.3,797.8 537.4,796.1 533.6,793.9 530,792.3 526.7,790.6 523.7,789.3 521.2,788.1 519.2,787.2 517.7,786.2 516.8,785.9 516.5,785.2 516.8,785.3 517.7,786.2 519.2,787 521.2,787.2 523.7,788.2 526.7,789.4 530,790.4 533.6,792.7 537.4,794.7 539.9,795.9 543.2,797.3 546.4,798.6 549.5,801 552.3,802.2 554.8,803.5 557,804 558.7,805.2 560,806.1 560.7,806.4 561,807 560.7,807 560,806.7 558.7,806.4 557,805.6 554.8,804.5 552.3,803.4 549.5,801.7 546.4,800.5 543.2,799.3 539.9,798.4 536.6,796.6 533.4,794.8 530.3,793.2 527.5,792.1 525,790.5 522.8,789.2 521.1,788.5 519.8,787.6 519.1,787.1 518.8,787.1 519.1,787.1 519.8,787.1 521.1,787.4 522.8,788.6 525,789.8 527.5,790.6 530.3,791.4 533.4,793.5 536.6,794.2 538.5,795 541.2,796.1 543.8,797.7 546.4,798.5 548.7,799.8 550.7,800.8 552.5,802.4 553.9,802.4 555,803.7 555.6,803.7 555.8,803.6 555.6,803.9 555,803.5 553.9,803.2 552.5,802.6 550.7,802.2 548.7,800.7 546.4,799.6 543.8,799 541.2,797.8 538.5,796.2 535.8,795.2 533.1,793.6 530.6,792.2 528.3,791.1 526.2,789.7 524.4,789.1 523,788.9 522,788.2 521.3,787.3 521.1,786.7 521.3,787.4 522,787.8 523,787.4 524.4,788.5 526.2,789 528.3,789.8 530.6,791.5 533.1,792.4 535.8,793.7 536.9,795.5 538.9,796.4 540.9,797.8 542.8,798.4 544.6,800 546.2,800.1 547.5,800.8 548.6,801.5 549.4,802.4 549.8,802.3 550,802.8 549.8,802 549.4,802.4 548.6,802.1 547.5,801.6 546.2,800.8 544.6,800.3 542.8,799.3 540.9,798.9 538.9,797.3 536.9,796.9 534.8,795.5 532.8,794.7 530.9,793.5 529.1,793 527.6,792.6 526.2,791.8 525.2,790.9 524.4,790 523.9,790.2 523.7,789.9 523.9,789.5 524.4,790.2 525.2,790.3 526.2,790.7 527.6,791.6 529.1,792 530.9,792.5 532.8,793.4 534.8,794.8" fill="none" stroke="none" marker-start="url(#gs)" marker-mid="url(#gs)" marker-end="url(#gs)"/>
<polyline points="141.6,265.4 141.6,271.1 155,268.8 155,275.4" fill="none" stroke="none" marker-start="url(#gs)" marker-mid="url(#gs)" marker-end="url(#gs)"/>
<polyline points="458.1,174.9 469.6,172.8 481.1,174.9 467,205 478.5,214.5 491.3,198.4 503.5,206.3 516.8,201.2 530.3,186.4 545.4,190.7 560.7,180.5 561,194.5 530.3,217.5 545.4,212.7 545.4,230.5 465.7,232.8 490,238 477.2,246.4 502.2,243.3 516,235.4 530.3,241.8 529.6,258.4 515.5,259.9 501,267.6 488.2,264.8 475.4,267.3 486.7,280 500.2,281.6 514.2,274.5" fill="none" stroke="none" marker-start="url(#gs)" marker-mid="url(#gs)" marker-end="url(#gs)"/>
<polyline points="548.5,509.7 554.8,506.7 560.8,508.5 590.8,507.9 588.5,514.8 580.9,520.6 585,525.9 589.4,530.5 566.5,533.5 576.7,536.3 555,542 571.6,542 561.2,551.7 582,554 586.2,549.7 555,572.5 567.5,576.7 577.4,573.7 587.1,569.3 572.8,582.4 582.7,580.8 561.5,586.6 578.5,600.5 583.6,599 567.7,605.5 561.9,609.7 573.5,609 579,616.6 568.2,623.3 573.9,624.5" fill="none" stroke="none" marker-start="url(#gs)" marker-mid="url(#gs)" marker-end="url(#gs)"/>
<polyline points="505.4,838 508.8,839 502.4,843 524.1,849.5 529.6,855.9 536,847.1 536,861.4 511.2,861.4 519.3,863.8 514.8,869.4 504.2,871.3 507.2,878.9 523.7,881.3 529.6,877.9 529,895.8 503.4,899.7 510.2,901.5 518.3,899.1 513.8,906.7 523.3,905.7 506.2,912 517.3,923.4 522.7,922.6 509.2,928.5 512.8,931.5 505.2,932.9 516.7,938.3 508.2,944.4 511.8,945.2" fill="none" stroke="none" marker-start="url(#gs)" marker-mid="url(#gs)" marker-end="url(#gs)"/>
</svg>
</body></html>
